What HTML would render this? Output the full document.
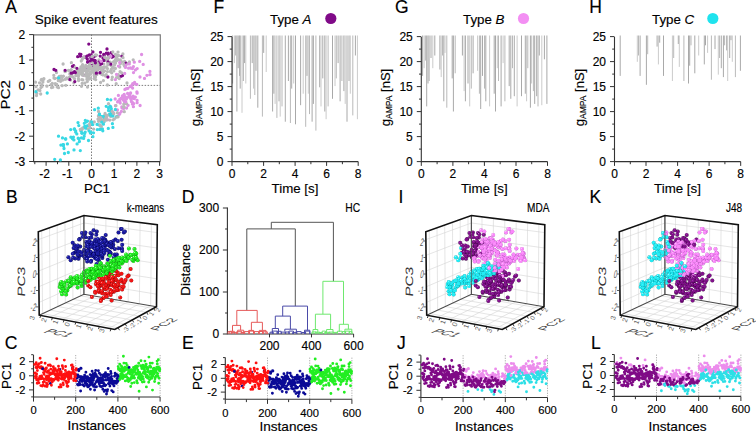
<!DOCTYPE html><html><head><meta charset="utf-8"><style>html,body{margin:0;padding:0;background:#fff;overflow:hidden}svg{display:block}text{font-family:"Liberation Sans",sans-serif;fill:#000;stroke:#000;stroke-width:0.15px}</style></head><body>
<svg width="756" height="432" viewBox="0 0 756 432">
<text x="5.3" y="12.8" font-size="17.5" text-anchor="start" >A</text>
<text x="213.5" y="12.9" font-size="17.5" text-anchor="start" >F</text>
<text x="395.1" y="12.9" font-size="17.5" text-anchor="start" >G</text>
<text x="589.3" y="12.8" font-size="17.5" text-anchor="start" >H</text>
<text x="5.9" y="202.6" font-size="17.5" text-anchor="start" >B</text>
<text x="181.7" y="202.5" font-size="17.5" text-anchor="start" >D</text>
<text x="398.6" y="202.8" font-size="17.5" text-anchor="start" >I</text>
<text x="589.6" y="203" font-size="17.5" text-anchor="start" >K</text>
<text x="4.8" y="349.1" font-size="17.5" text-anchor="start" >C</text>
<text x="182" y="349" font-size="17.5" text-anchor="start" >E</text>
<text x="397" y="348.9" font-size="17.5" text-anchor="start" >J</text>
<text x="591" y="348.9" font-size="17.5" text-anchor="start" >L</text>
<text x="96.3" y="23.7" font-size="13.5" text-anchor="middle" >Spike event features</text>
<path d="M33.61500000000001 85.4H160M91.5 34.5V162" stroke="#444" stroke-width="0.7" stroke-dasharray="1.5 1.5" fill="none"/>
<path d="M33.6 34.8H160.3V161.6" stroke="#7a7a7a" stroke-width="1.2" fill="none"/>
<path d="M33.6 34.6V161.6H160.3" stroke="#333" stroke-width="1.1" fill="none"/>
<path d="M29.1 161.5H33.6M31.4 148.8H33.6M29.1 136.2H33.6M31.4 123.5H33.6M29.1 110.8H33.6M31.4 98.1H33.6M29.1 85.4H33.6M31.4 72.7H33.6M29.1 60H33.6M31.4 47.3H33.6M29.1 34.6H33.6M46.1 161.6V165.8M68.8 161.6V165.8M91.5 161.6V165.8M114.2 161.6V165.8M136.9 161.6V165.8M159.6 161.6V165.8M34.8 161.6V164.2M57.5 161.6V164.2M80.2 161.6V164.2M102.8 161.6V164.2M125.5 161.6V164.2M148.2 161.6V164.2" stroke="#333" stroke-width="1" fill="none"/>
<text x="25.3" y="165.8" font-size="12" text-anchor="end" >-3</text>
<text x="25.3" y="140.5" font-size="12" text-anchor="end" >-2</text>
<text x="25.3" y="115.1" font-size="12" text-anchor="end" >-1</text>
<text x="25.3" y="89.7" font-size="12" text-anchor="end" >0</text>
<text x="25.3" y="64.3" font-size="12" text-anchor="end" >1</text>
<text x="25.3" y="38.9" font-size="12" text-anchor="end" >2</text>
<text x="44.6" y="178.2" font-size="12" text-anchor="middle" >-2</text>
<text x="67.3" y="178.2" font-size="12" text-anchor="middle" >-1</text>
<text x="91.5" y="178.2" font-size="12" text-anchor="middle" >0</text>
<text x="114.2" y="178.2" font-size="12" text-anchor="middle" >1</text>
<text x="136.9" y="178.2" font-size="12" text-anchor="middle" >2</text>
<text x="159.6" y="178.2" font-size="12" text-anchor="middle" >3</text>
<text x="97" y="193.3" font-size="13.3" text-anchor="middle" >PC1</text>
<text transform="translate(10.3 94.7) rotate(-90) scale(1.12 1)" font-size="13.5" text-anchor="middle">PC2</text>
<path d="M108 58.2h0M95.3 64.7h0M95.5 55.8h0M102.2 68.5h0M103 58h0M87.4 55.8h0M95.3 62.9h0M107 49h0M90.8 57.8h0M88.8 44.1h0M92.9 51.9h0M91.3 55h0M122.5 75.6h0M93.6 56.9h0M97.3 65.1h0M121.8 56.1h0M80.4 56.2h0M79.6 54.1h0M92 59.8h0M112 57.2h0M83.2 74.8h0M111.2 52.7h0M89.4 54.9h0M103.7 54.4h0" stroke="#7f0a86" stroke-width="3.3" stroke-linecap="round" fill="none"/>
<path d="M82.7 73.9h0M76.3 74.3h0M116.9 56.5h0M95 67.7h0M48.3 81.4h0M94.2 75.5h0M63.4 76.2h0M88 74.3h0M96.5 71.6h0M122.9 53.9h0M69.3 77.4h0M86.9 70.3h0M72.9 76.9h0M115.4 59.7h0M93.1 67h0M113.5 61.9h0M82 69h0M80.9 67h0M107.5 58h0M96.9 74.4h0M100.8 68.1h0M52.3 83.5h0M113 67.8h0M98.4 65.8h0M65 71.6h0M115.7 60.6h0M103.8 64.1h0M102.3 74.5h0M123 57.7h0M35.5 82.2h0M41.2 80h0M59.9 78.4h0M84.7 68.6h0M94.3 73.1h0M80.5 73.9h0M68.5 70.3h0M71.5 74.9h0M82.6 64.7h0M65.8 85.3h0M69.7 71.2h0M110.2 63.1h0M93.2 70.4h0M96.4 68.5h0M108.6 54.4h0M94.1 70h0M90.2 72.5h0M103.4 80.6h0M59.9 77.6h0M92 65.4h0M92.7 56.1h0M94.5 68.3h0M81.5 86.3h0M78.6 80.5h0M89 66.9h0M115.2 61.8h0M80.9 67.9h0M40.7 94h0M99.5 64.3h0M117 60.2h0M108 64.8h0M124.6 61.5h0M117.1 55.4h0M81.2 69.2h0M95.2 76.7h0M51.5 87.6h0M56.5 72.5h0M111.2 69.5h0M83.6 66.8h0M118 52.1h0M111.7 72.8h0M120.7 63.1h0M98.9 59.9h0M65.6 71.3h0M120.4 63.8h0M113.5 61.9h0M120.1 71.7h0M71.3 69.6h0M93.3 68.2h0M108.7 57.3h0M89.4 63.6h0M118.7 55.6h0M36.5 95.6h0M110.2 62.2h0M82.5 75.2h0M99.4 68.6h0M104.2 67.4h0M53.8 75.3h0M43.9 78.7h0M107.4 60.3h0M87.6 77.3h0M74.5 78.7h0M62.1 85.7h0M80.4 69.8h0M38.1 89.9h0M40.9 87.6h0M78.5 70.6h0M105.3 58.6h0M105.6 76h0M114.5 65h0M82.2 83.4h0M107.5 71.6h0M111.2 65.8h0M104.6 70.8h0M86.2 67.2h0M85.9 76.1h0M81.4 73h0M63.1 64h0M118.3 74.7h0" stroke="#b9b9b9" stroke-width="3.3" stroke-linecap="round" fill="none"/>
<path d="M126.4 88.7h0M129.3 95.2h0M132.6 88.1h0M125 96.8h0M124.5 101.7h0M124.5 100h0M115.5 105.7h0M122 107.9h0M119.9 113.5h0M123.5 100.2h0M121.8 107h0M107.6 119.7h0M122.2 98h0M120.2 103.1h0M111.4 113.4h0M125 96.7h0M127.9 88.3h0M126.4 88.7h0M117.4 110h0M122.6 99h0M124.2 94.5h0M131.2 99.7h0M119.8 99.2h0M119.9 101.5h0M115.2 99h0M118.4 95.4h0M130.6 92.9h0M130.2 93.7h0M130.2 86.5h0M122.4 95.9h0M113.2 112.5h0" stroke="#df90e3" stroke-width="3.3" stroke-linecap="round" fill="none"/>
<path d="M111.3 108.8h0M78.8 125.6h0M109.6 114.1h0M73.2 139.2h0M75.6 132.1h0M92.8 124.6h0M88 125.6h0M100.3 129.2h0M110.8 107.2h0M63.5 145.7h0M65.6 139h0M112.4 123.7h0M70.9 137.2h0M86.2 121.9h0M103.4 124.2h0M97.3 129.6h0M63.5 144.7h0M93.5 132.8h0M86.6 126.1h0M110.8 99.8h0M115.4 109.5h0M111.1 114.1h0M75.7 131h0M99 124.9h0M85.3 120.4h0M78.2 138.2h0M80.9 130.5h0M73.4 137.1h0M73.9 139.9h0M81.4 137.9h0M60.4 159.9h0M97.1 124.4h0M74.2 129.2h0" stroke="#38d8e4" stroke-width="3.3" stroke-linecap="round" fill="none"/>
<path d="M73.7 65.7h0M108.1 53.2h0M107.9 77h0M100.2 56.1h0M126.1 63.2h0M94.7 60.3h0M108 62h0M110.8 64.2h0M101.2 63.5h0M100 64.9h0M80.9 54.3h0M101.6 63.7h0M100.5 52.3h0M87.7 62.3h0M104.2 55.3h0M94.7 76.2h0M111.9 55.7h0M98.5 62.1h0M101.2 62.8h0M87.1 67.1h0M91.8 65.5h0M85.7 57h0M84 57.1h0M87.3 58.9h0M113.3 56.4h0" stroke="#7f0a86" stroke-width="3.3" stroke-linecap="round" fill="none"/>
<path d="M104.7 57.2h0M98 64.6h0M41.9 84.6h0M74.2 67.1h0M49.8 80.4h0M90.7 74.2h0M124.5 66.1h0M59.3 76.4h0M123.8 64.4h0M86.6 72.4h0M87.7 74.8h0M85.8 69.8h0M104.2 67.2h0M107.5 68.6h0M71.6 76.2h0M91.4 68.5h0M79.7 69.6h0M115.4 63.2h0M95.4 76.7h0M85.7 66.4h0M51.1 84.6h0M119.7 67h0M70 74.3h0M96.9 65.7h0M88.9 62.4h0M115.4 68.4h0M86.2 73.4h0M116.4 57.5h0M90.7 66.1h0M82.3 59.2h0M85.7 65.5h0M99.2 68.3h0M77.3 71.3h0M92.9 62.7h0M97.2 68.5h0M97.9 65.3h0M91.3 69.4h0M86.7 66.5h0M78.5 76h0M89.3 79h0M84.8 83.2h0M82.3 68h0M95 69.4h0M86.9 79.2h0M107.9 63.6h0M100.4 73.4h0M87.3 81.5h0M97.2 63h0M69.8 74.1h0M95.7 79.6h0M70.6 80.1h0M82.8 79.9h0M89.6 68.6h0M95.7 64.7h0M104.6 60.3h0M75.8 75.7h0M78.4 78.7h0M88.4 70.3h0M94.2 78.8h0M76.6 72.7h0M87.2 72.4h0M88.6 74.9h0M96.4 66.7h0M88.3 74.4h0M87.5 87h0M79.2 71.8h0M73.9 71.8h0M90.7 78.2h0M86.7 72.5h0M93.9 65.6h0M88.9 75.4h0M87.8 70.8h0M96.7 67h0M81.8 79.7h0M85.4 75.4h0M77.9 73h0M84.2 70.5h0M94.6 71.7h0M113 67.7h0M100.5 67.3h0M100.6 82.4h0M81.6 70.1h0M95.4 54.9h0M92.5 61.8h0M97.1 63h0M94.4 70.1h0M94.4 75.7h0M101.3 74.1h0M91.8 56.9h0M86.9 70.5h0M101.1 67.8h0M81 70.1h0M95.2 64.8h0M81.3 61h0M106.3 66.9h0M92 72.3h0M103.7 71.7h0M96.1 71.8h0M82.1 67.1h0M102.9 67.7h0M82.3 66.5h0M88.7 68.4h0M104.8 60.4h0M83.9 57.3h0M89.3 65.4h0M82.6 71.7h0M71.4 62.7h0M103.2 74.9h0M73.9 82.8h0M101.2 70.7h0" stroke="#b9b9b9" stroke-width="3.3" stroke-linecap="round" fill="none"/>
<path d="M117.6 101.9h0M134.5 83.7h0M119.2 114.4h0M118.1 101.2h0M126.7 97.6h0M133.1 97.9h0M132.4 104.1h0M137.1 102.7h0M123.8 99.4h0M128.1 105.3h0M129.8 96h0M126.4 99.1h0M137.1 93.2h0M130.6 97.2h0M130.7 98.4h0M134.2 98.7h0M121.4 98.2h0M127.6 93.5h0M128.7 97h0M140.1 105.5h0M126.6 108.1h0M121.4 111.4h0M132.7 102.6h0M123.6 108.6h0M133.7 103.6h0M129.7 95.7h0M136.8 84.3h0M135.4 97.1h0M132 85.3h0M137.1 100.3h0M133.1 96.1h0M131.4 101.6h0" stroke="#df90e3" stroke-width="3.3" stroke-linecap="round" fill="none"/>
<path d="M104.5 118.2h0M64 148.5h0M77.1 143.9h0M74 149.9h0M104.1 121.8h0M62.5 137.9h0M108.5 110.5h0M116.2 116.8h0M108.3 128.4h0M76.8 133.9h0M92.9 136.7h0M110.1 106.1h0M74.5 128.9h0M111 111.5h0M91.5 123.8h0M84.3 123.3h0M85.2 132.1h0M117.1 116.3h0M102.4 129h0M101 116.3h0M90.9 132.1h0M94.6 109.7h0M81.7 132.8h0M60.9 145.1h0M81.2 131h0M79.4 141.5h0M83.6 138.4h0M100.7 125.9h0M90.4 133h0M99.4 113.9h0M78 122.6h0M84.7 133.4h0M106.2 106.3h0" stroke="#38d8e4" stroke-width="3.3" stroke-linecap="round" fill="none"/>
<path d="M90.3 60.8h0M99.9 72.7h0M91.7 59.7h0M93.2 60.1h0M106.3 53.2h0M108.2 54.3h0M95.2 60.6h0M95.4 62.8h0M96.4 73.2h0M94.7 60.7h0M87.7 61.7h0M103.9 60.5h0M120.9 76.3h0M69.7 79.4h0M77.7 56.7h0M54 69.5h0M74.6 71.7h0M74.8 81.6h0M76.9 68.3h0M71.2 73.2h0M75.4 72.6h0M72.6 72.8h0M55.8 70.3h0M72.4 66.3h0M65.1 70.3h0" stroke="#7f0a86" stroke-width="3.3" stroke-linecap="round" fill="none"/>
<path d="M105.6 117.5h0M93.6 129.1h0M107.5 115.4h0M101.4 117.6h0M106.6 117.2h0M104.3 119.9h0M94.3 121.9h0M115.9 105.7h0M98.5 111.4h0M81.9 128.6h0M110.7 116.4h0M112.2 111.4h0M80.3 129.4h0M90.7 121.4h0M101.3 118.4h0M113 114.9h0M89.4 124.5h0M100.3 117.5h0M98.4 115.9h0M100.8 120.9h0M126.6 103.8h0M98.6 121.3h0M89.7 125.4h0M87.7 128.9h0M114.3 118.9h0M109.8 120.1h0M89.8 127.9h0M117.4 112.8h0M118.1 116.8h0M100.6 119.2h0M90.5 122.4h0M106.1 115.7h0M102.1 120.7h0M105.1 113.5h0M123.8 104.2h0M98 119.1h0M124.2 107.2h0M104.8 115.2h0M100.1 125.2h0M82.4 129h0M103.4 121.3h0M101.3 126.3h0M98.7 118.2h0M106.4 120h0M116.9 117h0M123.4 106.9h0M113.1 119.8h0M82.8 128h0M124.3 111.7h0M113.8 113.6h0M127 83h0M108.5 103.7h0M119.3 78.6h0M120.3 60h0M111.9 79.6h0M107.4 85h0M106.2 74.6h0M112.3 77.2h0M110.4 71.5h0M116.4 77.7h0M118 77.4h0M101.5 69.8h0M116.2 83.7h0M121.7 72.8h0M97.7 69.7h0M118 55.5h0M116.4 60.8h0M96.6 55.1h0M114.5 61.5h0M118.2 59.6h0M121.9 61.9h0M113.8 70.9h0M109.4 56.6h0M129.4 61.9h0M112.8 52h0M110.5 56.3h0M133.2 59.8h0M128.1 63.6h0M116.6 60.4h0M115.5 54.3h0M67 78.6h0M54.8 78.5h0M57.8 78.1h0M36.8 93.4h0M42 86.4h0M62.2 80.2h0M62.6 80h0M59.5 79.8h0M43.3 79.5h0M65.1 79.3h0M39.5 82.8h0M36 86.7h0M55.2 83.6h0M46.9 86.2h0M54 78h0M66.7 78h0M39.9 90.5h0M52.8 87.2h0M57.2 86.9h0M58.5 87.7h0M62 77.3h0M60.6 81.3h0M61.1 76.1h0M41.8 79.3h0M56.7 84.5h0M42.9 82h0M58.3 80.7h0M66.8 78.8h0" stroke="#b9b9b9" stroke-width="3.3" stroke-linecap="round" fill="none"/>
<path d="M125.8 101.9h0M124.9 89.4h0M133.4 106.7h0M136.9 91.8h0M110.7 56.2h0M141.6 54.5h0M118.4 66.1h0M137.2 68.6h0M134.3 62.2h0M115.4 79.6h0M116.5 74.4h0M125.5 67.4h0M135.4 69.9h0M124.7 73.5h0M143.2 64.4h0M133.5 72.6h0M150 74.7h0M139.7 61.4h0M129.3 63.9h0M119.7 62.5h0M134.6 82.3h0M140 77h0M146.9 75.3h0M130.5 68h0M128.6 68.2h0M126.1 65.1h0M132.4 68.6h0M101.1 61.3h0M132.7 83.7h0M133.4 66.6h0M144.5 78.4h0M149.9 71.4h0" stroke="#df90e3" stroke-width="3.3" stroke-linecap="round" fill="none"/>
<path d="M110.2 115h0M112.7 116.1h0M82 133.3h0M99.7 129.4h0M102.8 130.8h0M112.9 127.4h0M68.3 152.5h0M87.5 121.1h0M103.3 116.3h0M64.5 153.5h0M85.6 128.2h0M84.2 136.2h0M85.6 127.5h0M58.5 136.2h0M84.7 126.5h0M67.4 143.9h0M101.8 122.2h0M70.7 129.6h0M88.5 140.5h0M80.3 150.6h0M89.1 130.9h0M78.9 138.8h0M108.5 107.7h0M63 144.7h0M99.4 114.5h0M91.6 122h0M72.4 138.4h0M54.7 159.3h0M65.7 139h0M35.9 91.7h0M47.2 93h0M58.6 77.8h0M107.4 99.4h0M98.3 108.2h0" stroke="#38d8e4" stroke-width="3.3" stroke-linecap="round" fill="none"/>
<path d="M232.6 35.5V83.5M236.9 35.5V111.5M238.2 35.5V68.2M240.2 35.5V88.6M243.3 35.5V81M244.6 35.5V63.1M252.2 35.5V63.1M256 35.5V70.8M257.8 35.5V107.7M263.7 35.5V52.9M272.6 35.5V111.5M273.9 35.5V93.7M279 35.5V101.3M285.3 35.5V121.7M288.4 35.5V81M291.7 35.5V88.6M295.5 35.5V124.3M300.6 35.5V105.2M307 35.5V75.9M312.1 35.5V121.7M313.4 35.5V103.9M319.7 35.5V87.3M322.8 35.5V78.4M324.8 35.5V111.5M332.5 35.5V98.8M338.1 35.5V63.1M340.1 35.5V101.3M343.9 35.5V91.1M347 35.5V121.7M349 35.5V81M355.4 35.5V55.5" stroke="#8c8c8c" stroke-width="0.75" fill="none"/>
<path d="M234.4 35.5V63.1M242 35.5V112.8M245.8 35.5V83.5M253.5 35.5V88.6M266.2 35.5V72M275.1 35.5V103.9M280.2 35.5V116.6M293.7 35.5V83.5M303.2 35.5V93.7M308.3 35.5V93.7M321 35.5V106.4M326.1 35.5V119.2M335 35.5V86.1M345.2 35.5V103.9M350.3 35.5V93.7M357.4 35.5V119.2" stroke="#b8b8b8" stroke-width="0.75" fill="none"/>
<path d="M235.6 35.5V55.5M239.5 35.5V75.9M250.4 35.5V98.8M254.8 35.5V95M262.4 35.5V116.6M276.9 35.5V117.9M282 35.5V106.4M290.4 35.5V123M305.7 35.5V126.8M309.5 35.5V114.1M315.9 35.5V130.6M328.1 35.5V106.4M336.3 35.5V78.4M341.9 35.5V81M352.8 35.5V115.4" stroke="#a2a2a2" stroke-width="0.75" fill="none"/>
<path d="M232 37V161.6H358.2" stroke="#333" stroke-width="1.1" fill="none"/>
<path d="M227.5 161.6H232M229.7 149.1H232M227.5 136.6H232M229.7 124.1H232M227.5 111.6H232M229.7 99.1H232M227.5 86.6H232M229.7 74.1H232M227.5 61.6H232M229.7 49.1H232M227.5 36.6H232M232 161.6V165.9M247.8 161.6V164.2M263.6 161.6V165.9M279.3 161.6V164.2M295.1 161.6V165.9M310.9 161.6V164.2M326.6 161.6V165.9M342.4 161.6V164.2M358.2 161.6V165.9" stroke="#333" stroke-width="1" fill="none"/>
<text x="223.5" y="165.9" font-size="12" text-anchor="end" >0</text>
<text x="223.5" y="140.9" font-size="12" text-anchor="end" >5</text>
<text x="223.5" y="115.9" font-size="12" text-anchor="end" >10</text>
<text x="223.5" y="90.9" font-size="12" text-anchor="end" >15</text>
<text x="223.5" y="65.9" font-size="12" text-anchor="end" >20</text>
<text x="223.5" y="40.9" font-size="12" text-anchor="end" >25</text>
<text x="232" y="178.2" font-size="12" text-anchor="middle" >0</text>
<text x="263.6" y="178.2" font-size="12" text-anchor="middle" >2</text>
<text x="295.1" y="178.2" font-size="12" text-anchor="middle" >4</text>
<text x="326.6" y="178.2" font-size="12" text-anchor="middle" >6</text>
<text x="358.2" y="178.2" font-size="12" text-anchor="middle" >8</text>
<text x="295" y="193.3" font-size="13.3" text-anchor="middle" >Time [s]</text>
<text transform="translate(199.5 97.5) rotate(-90)" font-size="13" text-anchor="middle">g<tspan font-size="8.5" dy="2.5">AMPA</tspan><tspan dy="-2.5"> [nS]</tspan></text>
<text x="270" y="24" font-size="13.3">Type <tspan font-style="italic">A</tspan></text>
<circle cx="330.8" cy="18.5" r="5.6" fill="#800a88"/>
<path d="M422.6 35.5V75.9M426.7 35.5V106.4M428 35.5V83.5M431 35.5V58M434.8 35.5V55.5M439.9 35.5V69.5M443.8 35.5V101.3M452.2 35.5V78.4M453.4 35.5V111.5M462.4 35.5V55.5M465.4 35.5V101.3M468 35.5V83.5M473.1 35.5V73.3M480.7 35.5V109M482.5 35.5V75.9M485.8 35.5V101.3M494.2 35.5V93.7M495.5 35.5V111.5M501.1 35.5V106.4M509.2 35.5V86.1M510.8 35.5V98.8M514.3 35.5V96.2M521.5 35.5V96.2M525.3 35.5V93.7M530.4 35.5V107.7M534.7 35.5V103.9M536.7 35.5V96.2M539.3 35.5V55.5M544.4 35.5V59.3M546.9 35.5V103.9" stroke="#8c8c8c" stroke-width="0.75" fill="none"/>
<path d="M424.1 35.5V68.2M432.8 35.5V68.2M441.2 35.5V77.1M445 35.5V52.9M464.1 35.5V91.1M469.7 35.5V106.4M477.6 35.5V70.8M489.6 35.5V106.4M497.3 35.5V68.2M503.1 35.5V63.1M517.1 35.5V106.4M526.6 35.5V101.3M531.6 35.5V83.5M541.8 35.5V105.2" stroke="#b8b8b8" stroke-width="0.75" fill="none"/>
<path d="M425.4 35.5V60.6M429.2 35.5V81M442.5 35.5V55.5M446.8 35.5V107.7M455.2 35.5V73.3M471.3 35.5V88.6M479.4 35.5V93.7M484.5 35.5V88.6M498.5 35.5V81M504.9 35.5V101.3M512.5 35.5V68.2M527.8 35.5V68.2M533.4 35.5V91.1M538 35.5V106.4" stroke="#a2a2a2" stroke-width="0.75" fill="none"/>
<path d="M421.3 37V161.6H547.5" stroke="#333" stroke-width="1.1" fill="none"/>
<path d="M416.8 161.6H421.3M419 149.1H421.3M416.8 136.6H421.3M419 124.1H421.3M416.8 111.6H421.3M419 99.1H421.3M416.8 86.6H421.3M419 74.1H421.3M416.8 61.6H421.3M419 49.1H421.3M416.8 36.6H421.3M421.3 161.6V165.9M437.1 161.6V164.2M452.9 161.6V165.9M468.6 161.6V164.2M484.4 161.6V165.9M500.2 161.6V164.2M516 161.6V165.9M531.7 161.6V164.2M547.5 161.6V165.9" stroke="#333" stroke-width="1" fill="none"/>
<text x="412.8" y="165.9" font-size="12" text-anchor="end" >0</text>
<text x="412.8" y="140.9" font-size="12" text-anchor="end" >5</text>
<text x="412.8" y="115.9" font-size="12" text-anchor="end" >10</text>
<text x="412.8" y="90.9" font-size="12" text-anchor="end" >15</text>
<text x="412.8" y="65.9" font-size="12" text-anchor="end" >20</text>
<text x="412.8" y="40.9" font-size="12" text-anchor="end" >25</text>
<text x="421.3" y="178.2" font-size="12" text-anchor="middle" >0</text>
<text x="452.9" y="178.2" font-size="12" text-anchor="middle" >2</text>
<text x="484.4" y="178.2" font-size="12" text-anchor="middle" >4</text>
<text x="516" y="178.2" font-size="12" text-anchor="middle" >6</text>
<text x="547.5" y="178.2" font-size="12" text-anchor="middle" >8</text>
<text x="484.3" y="193.3" font-size="13.3" text-anchor="middle" >Time [s]</text>
<text transform="translate(389.7 97.5) rotate(-90)" font-size="13" text-anchor="middle">g<tspan font-size="8.5" dy="2.5">AMPA</tspan><tspan dy="-2.5"> [nS]</tspan></text>
<text x="463" y="24" font-size="13.3">Type <tspan font-style="italic">B</tspan></text>
<circle cx="523.5" cy="18.5" r="5.6" fill="#f38ff3"/>
<path d="M620.2 35.5V75.9M640.1 35.5V75.9M646.4 35.5V84.8M657.1 35.5V46.6M659.7 35.5V42.7M663.5 35.5V75.9M678.3 35.5V44M688.5 35.5V83.5M689.7 35.5V65.7M694.8 35.5V73.3M704.3 35.5V64.4M705.5 35.5V45.3M715 35.5V49.1M721.3 35.5V68.2M723.4 35.5V77.1M726.7 35.5V50.4M729.7 35.5V58M731 35.5V40.2M740.4 35.5V70.8" stroke="#8c8c8c" stroke-width="0.75" fill="none"/>
<path d="M637.3 35.5V61.8M658.4 35.5V64.4M672.4 35.5V81M679.3 35.5V66.9M698.7 35.5V55.5M707.6 35.5V52.9M718.3 35.5V74.6M727.7 35.5V81M732.3 35.5V61.8" stroke="#b8b8b8" stroke-width="0.75" fill="none"/>
<path d="M638.5 35.5V55.5M647.7 35.5V54.2M673.7 35.5V58M683.9 35.5V81M691 35.5V45.3M711.4 35.5V79.7M719.6 35.5V58M724.6 35.5V45.3M735.4 35.5V77.1" stroke="#a2a2a2" stroke-width="0.75" fill="none"/>
<path d="M614.5 37V161.6H740.7" stroke="#333" stroke-width="1.1" fill="none"/>
<path d="M610 161.6H614.5M612.2 149.1H614.5M610 136.6H614.5M612.2 124.1H614.5M610 111.6H614.5M612.2 99.1H614.5M610 86.6H614.5M612.2 74.1H614.5M610 61.6H614.5M612.2 49.1H614.5M610 36.6H614.5M614.5 161.6V165.9M630.3 161.6V164.2M646 161.6V165.9M661.8 161.6V164.2M677.6 161.6V165.9M693.4 161.6V164.2M709.1 161.6V165.9M724.9 161.6V164.2M740.7 161.6V165.9" stroke="#333" stroke-width="1" fill="none"/>
<text x="606" y="165.9" font-size="12" text-anchor="end" >0</text>
<text x="606" y="140.9" font-size="12" text-anchor="end" >5</text>
<text x="606" y="115.9" font-size="12" text-anchor="end" >10</text>
<text x="606" y="90.9" font-size="12" text-anchor="end" >15</text>
<text x="606" y="65.9" font-size="12" text-anchor="end" >20</text>
<text x="606" y="40.9" font-size="12" text-anchor="end" >25</text>
<text x="614.5" y="178.2" font-size="12" text-anchor="middle" >0</text>
<text x="646" y="178.2" font-size="12" text-anchor="middle" >2</text>
<text x="677.6" y="178.2" font-size="12" text-anchor="middle" >4</text>
<text x="709.1" y="178.2" font-size="12" text-anchor="middle" >6</text>
<text x="740.7" y="178.2" font-size="12" text-anchor="middle" >8</text>
<text x="677.5" y="193.3" font-size="13.3" text-anchor="middle" >Time [s]</text>
<text transform="translate(583.5 97.5) rotate(-90)" font-size="13" text-anchor="middle">g<tspan font-size="8.5" dy="2.5">AMPA</tspan><tspan dy="-2.5"> [nS]</tspan></text>
<text x="652" y="24" font-size="13.3">Type <tspan font-style="italic">C</tspan></text>
<circle cx="712.8" cy="18.5" r="5.6" fill="#1fe3ee"/>
<path d="M227.4 207.5V334.0H353.6" stroke="#333" stroke-width="1.1" fill="none"/>
<path d="M222.9 334H227.4M222.9 292H227.4M222.9 250H227.4M222.9 208H227.4M225.1 313H227.4M225.1 271H227.4M225.1 229H227.4M269.5 334.0V337.4M311.5 334.0V337.4M353.6 334.0V337.4" stroke="#333" stroke-width="1" fill="none"/>
<text x="219.1" y="337.7" font-size="12" text-anchor="end" >0</text>
<text x="219.1" y="295.7" font-size="12" text-anchor="end" >100</text>
<text x="219.1" y="253.7" font-size="12" text-anchor="end" >200</text>
<text x="219.1" y="211.7" font-size="12" text-anchor="end" >300</text>
<text x="269.5" y="350.4" font-size="12" text-anchor="middle" >200</text>
<text x="311.5" y="350.4" font-size="12" text-anchor="middle" >400</text>
<text x="353.6" y="350.4" font-size="12" text-anchor="middle" >600</text>
<text transform="translate(190.3 269.8) rotate(-90)" font-size="13.3" text-anchor="middle">Distance</text>
<text transform="translate(345.2 211.6) scale(0.86 1)" font-size="12">HC</text>
<path d="M246.8 310.4V228.9H295.3V306.1M271.3 228.9V222.3H333.4V281.3" stroke="#555" stroke-width="1" fill="none"/>
<path d="M236.8 325.4V310.4H257.2V322.3M232.5 331.3V325.4H240.6V330.2M251.4 330.4V322.3H262.4V330.4M229.8 334V331.3H234.3V334M237.7 334V330.2H243.7V334M248.7 334V330.4H253.5V334M259.3 334V330.4H266V334M228 334V331.6H231.7V334M231.7 334V332.4H236.7V334M236.7 334V331.7H242V334M241 334V332.5H244.8V334M244.1 334V331.6H249.4V334M249.4 334V331.1H254.3V334M254.3 334V331.6H258.8V334M258.8 334V331.5H263.3V334M262.6 334V331.8H267.3V334" stroke="#e65a5a" stroke-width="1" fill="none"/>
<path d="M282.7 316.1V306.1H307.5V330.2M275.3 328.5V316.1H290.4V329.2M272.3 334V328.5H278.5V334M284.8 331.5V329.2H296.4V331.5M304.5 334V330.2H309.8V334M270 334V332.2H273.3V334M272.3 334V331.1H277.2V334M277.2 334V331.3H281.2V334M281.3 334V332.1H285.7V334M285.2 334V332H289.2V334M288.9 334V331.1H293.5V334M292.6 334V332.4H297V334M296.2 334V331.6H301.2V334M301.6 334V332.5H305.7V334M305.3 334V331.1H309.8V334" stroke="#4a4aa8" stroke-width="1" fill="none"/>
<path d="M322.9 314.2V281.3H343.5V324.3M315.4 329.5V314.2H330.6V329.5M313 334V329.5H317.8V334M326.6 334V329.5H333V334M339.3 332V324.3H348.4V329.2M344.9 334V329.2H351.8V334M312 334V331.9H316.2V334M315.3 334V332.2H320V334M319.2 334V332.5H322.2V334M322.2 334V331.1H325.5V334M324.7 334V332.3H329.9V334M328.9 334V332.1H333.7V334M333.8 334V332.4H337.2V334M337.4 334V331.2H342.2V334M342.3 334V331.6H345.5V334M345.6 334V331.1H349.7V334M349.1 334V331.4H352V334" stroke="#6ee86e" stroke-width="1" fill="none"/>
<path d="M75.7 355.0V397.0M117.9 355.0V397.0M160.1 355.0V397.0" stroke="#888" stroke-width="0.7" stroke-dasharray="1.2 1.3" fill="none"/>
<path d="M33.5 355.0V397.0H160.1" stroke="#333" stroke-width="1.1" fill="none"/>
<path d="M31.2 396.9H33.5M29 389.9H33.5M31.2 382.8H33.5M29 375.8H33.5M31.2 368.8H33.5M29 361.7H33.5M31.2 354.7H33.5M33.5 397.0V401.6M54.6 397.0V399.8M75.7 397.0V401.6M96.8 397.0V399.8M117.9 397.0V401.6M139 397.0V399.8M160.1 397.0V401.6" stroke="#333" stroke-width="1" fill="none"/>
<text x="25.3" y="365.4" font-size="11" text-anchor="end" >2</text>
<text x="25.3" y="379.5" font-size="11" text-anchor="end" >0</text>
<text x="25.3" y="393.6" font-size="11" text-anchor="end" >-2</text>
<text x="33.5" y="413.9" font-size="11.2" text-anchor="middle" >0</text>
<text x="75.7" y="413.9" font-size="11.2" text-anchor="middle" >200</text>
<text x="117.9" y="413.9" font-size="11.2" text-anchor="middle" >400</text>
<text x="160.1" y="413.9" font-size="11.2" text-anchor="middle" >600</text>
<text x="96.7" y="430.3" font-size="13.6" text-anchor="middle" >Instances</text>
<text transform="translate(10.9 375.8) rotate(-90)" font-size="13.5" text-anchor="middle">PC1</text>
<path d="M34.7 364.4h0M34.9 373.2h0M35.1 372.9h0M35.3 376.5h0M35.5 378.1h0M35.7 364.2h0M36 367.5h0M36.2 362.8h0M36.4 376.4h0M36.6 373.9h0M36.8 379.9h0M37 367.8h0M37.2 383.2h0M37.4 370.5h0M37.6 367h0M37.8 365h0M38 380.2h0M38.2 367.1h0M38.5 378.8h0M38.7 379.1h0M38.9 382.7h0M39.1 366.8h0M39.3 363.6h0M39.5 378h0M39.7 379.1h0M39.9 376.4h0M40.1 358.3h0M40.3 367.9h0M40.5 377.7h0M40.8 385.6h0M41 378.5h0M41.2 366.8h0M41.4 362.5h0M41.6 375.9h0M41.8 378.6h0M42 377.5h0M42.2 386.1h0M42.4 368.7h0M42.8 367.7h0M43.1 384.9h0M43.3 382.2h0M43.5 372.6h0M43.7 379h0M43.9 369.6h0M44.1 374.3h0M44.3 381.5h0M44.5 370.6h0M44.7 369.3h0M44.9 386h0M45.1 363.3h0M45.3 371.4h0M45.6 369.8h0M45.8 385.6h0M46 378.8h0M46.2 376.5h0M46.4 368h0M46.6 383.2h0M46.8 379.7h0M47 386.5h0M47.2 375.9h0M47.4 372.4h0M47.6 384.5h0M47.9 378h0M48.1 371.5h0M48.3 365.2h0" stroke="#ff1010" stroke-width="2.9" stroke-linecap="round" fill="none"/>
<path d="M42.6 368.8h0M50.4 383.5h0M51.8 380.7h0M59.8 369.5h0M72.5 368.1h0M76.5 380.9h0M76.7 375h0M76.9 378h0M77.1 376.9h0M77.3 377.8h0M77.5 384.4h0M77.7 377.3h0M77.9 375h0M78.1 385.1h0M78.3 370h0M78.5 369.4h0M78.8 370.8h0M79 369.9h0M79.2 376.5h0M79.4 382.2h0M79.6 383.5h0M79.8 384.7h0M80 379.8h0M80.2 380.5h0M80.4 376.8h0M80.6 391h0M80.8 368.2h0M81.1 368.4h0M81.3 380.5h0M81.5 376.8h0M81.7 377.9h0M81.9 378.9h0M82.1 381.5h0M82.3 381h0M82.5 384.7h0M82.7 379.4h0M82.9 380.5h0M83.1 378.7h0M83.4 384.9h0M83.6 380.2h0M83.8 380.1h0M84 377.2h0M84.2 386h0M84.4 378.2h0M84.6 375.2h0M84.8 377.2h0M85 382.3h0M85.2 383h0M85.4 381.6h0M85.6 376.5h0M85.9 372.2h0M86.1 381.2h0M86.3 383.8h0M86.5 378.4h0M86.7 379.3h0M86.9 385.2h0M87.1 384.3h0M87.3 380.9h0M87.5 376.8h0M87.7 386.7h0M87.9 385.7h0M88.2 377.7h0M88.4 386.8h0M88.6 379.8h0M88.8 378.5h0M89 381h0M89.2 385.7h0M89.4 380.7h0" stroke="#0a0a96" stroke-width="2.9" stroke-linecap="round" fill="none"/>
<path d="M118.2 366.6h0M118.4 368.9h0M118.6 368.5h0M118.8 379.1h0M119.1 380h0M119.3 376.1h0M119.5 369.9h0M119.7 364.1h0M119.9 379.4h0M120.1 370.8h0M120.3 377.4h0M120.5 376.7h0M120.7 374.1h0M120.9 368.6h0M121.1 371.3h0M121.4 365.9h0M121.6 378h0M121.8 367.5h0M122 367.2h0M122.2 372.1h0M122.4 369.8h0M122.6 375.6h0M122.8 378.6h0M123 374.7h0M123.2 376h0M123.4 356.2h0M123.6 375.1h0M123.9 363.1h0M124.1 371.3h0M124.3 370.6h0M124.5 368.2h0M124.7 376.7h0M124.9 367.2h0M125.1 370.2h0M125.3 380.9h0M125.5 368.9h0M125.7 369.2h0M125.9 369.8h0M126.2 363.4h0M126.4 374.6h0M126.6 369.4h0M126.8 368.1h0M127 377.3h0M127.2 365.5h0M127.4 380.4h0M127.6 379.6h0M127.8 369.3h0M128 378.3h0M128.2 372.9h0M128.5 381.5h0M128.7 371.8h0M128.9 378.6h0M129.3 380.8h0M129.5 369.6h0M129.7 373.7h0M129.9 371.8h0M130.1 372.5h0M130.3 371.4h0M130.5 379.5h0M130.7 386.5h0M131 371.9h0M131.2 377.4h0M131.4 374.6h0M131.6 369.7h0M131.8 383.2h0M132 376.3h0" stroke="#22ee22" stroke-width="2.9" stroke-linecap="round" fill="none"/>
<path d="M48.5 370.6h0M48.7 376.3h0M48.9 381.4h0M49.1 380h0M49.3 378.4h0M49.5 373.7h0M49.7 374.8h0M49.9 364.9h0M50.2 372.9h0M50.6 365.7h0M50.8 369.1h0M51 374h0M51.2 378.7h0M51.4 385.3h0M51.6 380.4h0M52 379.2h0M52.2 382.1h0M52.4 373.5h0M52.7 373.3h0M52.9 371.3h0M53.1 371h0M53.3 366.8h0M53.5 379.4h0M53.7 369.2h0M53.9 380.2h0M54.1 370.9h0M54.3 373.7h0M54.5 373.4h0M54.7 369.4h0M55 374.8h0M55.2 368.6h0M55.4 370h0M55.6 374h0M55.8 377.8h0M56 378.8h0M56.2 377.6h0M56.4 375.9h0M56.6 374.9h0M56.8 358.8h0M57 371.4h0M57.3 370.7h0M57.5 379.4h0M57.7 378.6h0M57.9 376.5h0M58.1 373.8h0M58.3 380.3h0M58.5 366.3h0M58.7 377.8h0M58.9 369.2h0M59.1 387.1h0M59.3 374.9h0M59.5 373.4h0M60 371.8h0M60.2 373.5h0M60.4 374.1h0M60.6 384.7h0M60.8 378.6h0M61 386.9h0M61.2 371.7h0M61.4 373.4h0M61.6 375.9h0M61.8 379.1h0M62.1 377.9h0M62.3 365.6h0M62.5 366.2h0" stroke="#ff1010" stroke-width="2.9" stroke-linecap="round" fill="none"/>
<path d="M89.6 382.1h0M89.8 378.6h0M90 384.8h0M90.2 374.6h0M90.4 389.2h0M90.7 381.3h0M90.9 380.3h0M91.1 375.3h0M91.3 383.6h0M91.5 377.5h0M91.7 383.4h0M91.9 376.5h0M92.1 371.2h0M92.3 382.5h0M92.5 378h0M92.7 385.3h0M93 375.2h0M93.2 374h0M93.4 380.2h0M93.6 386.4h0M93.8 378.2h0M94 374.3h0M94.2 374.6h0M94.4 376.1h0M94.6 390h0M94.8 384h0M95 372.9h0M95.3 386.8h0M95.5 374.4h0M95.7 370.4h0M95.9 376.4h0M96.1 374.5h0M96.3 382.1h0M96.5 386.8h0M96.7 380.9h0M96.9 381.4h0M97.1 380.6h0M97.3 376.7h0M97.5 381.1h0M97.8 379.4h0M98 378.1h0M98.2 380.4h0M98.4 370.7h0M98.6 378h0M98.8 379.9h0M99 381.5h0M99.2 383.7h0M99.4 373.3h0M99.6 379.6h0M99.8 386.1h0M100.1 383.3h0M100.3 381.1h0M100.5 382.7h0M100.7 374.7h0M100.9 386.5h0M101.1 377.8h0M101.3 379.6h0M101.5 386.6h0M101.7 380.1h0M101.9 380.9h0M102.1 377.7h0M102.4 382.7h0M102.6 378.8h0M102.8 389.2h0M103 386.1h0M103.2 376.2h0M103.4 374.9h0M103.6 380.4h0M103.8 383.5h0" stroke="#0a0a96" stroke-width="2.9" stroke-linecap="round" fill="none"/>
<path d="M132.2 375.5h0M132.4 378h0M132.6 370.2h0M132.8 372.8h0M133 376.6h0M133.3 377.5h0M133.5 367.5h0M133.7 375.7h0M133.9 368.7h0M134.1 369.4h0M134.3 382.6h0M134.5 378h0M134.7 371.9h0M134.9 370h0M135.1 367.5h0M135.3 367.4h0M135.6 366.1h0M135.8 374h0M136 373.1h0M136.2 367.5h0M136.4 374.3h0M136.6 365.9h0M136.8 380.8h0M137 368.2h0M137.2 372.8h0M137.4 382.9h0M137.6 366.3h0M137.8 370.1h0M138.1 371.7h0M138.3 377.8h0M138.5 374.4h0M138.7 363.3h0M138.9 376.4h0M139.1 391.3h0M139.3 376.6h0M139.5 378.5h0M139.7 372.5h0M139.9 373.9h0M140.1 376.8h0M140.4 376.4h0M140.6 365.8h0M140.8 379.8h0M141 360.7h0M141.2 374.7h0M141.4 377.8h0M141.6 367.2h0M141.8 368.5h0M142 377.5h0M142.2 367.4h0M142.4 382h0M142.6 376.8h0M142.9 365.3h0M143.1 373h0M143.3 378.9h0M143.5 368.7h0M143.7 366.4h0M143.9 371.7h0M144.1 381.7h0M144.3 373.5h0M144.5 369.2h0M144.7 367.2h0M144.9 361.1h0M145.2 372.9h0M145.4 374.2h0M145.6 371.7h0M145.8 364.7h0" stroke="#22ee22" stroke-width="2.9" stroke-linecap="round" fill="none"/>
<path d="M62.7 375.3h0M62.9 368.5h0M63.1 382.9h0M63.3 384.7h0M63.5 377.4h0M63.7 379.4h0M63.9 377.8h0M64.1 374.1h0M64.3 360.1h0M64.6 378.3h0M64.8 374.8h0M65 373.7h0M65.2 375.2h0M65.4 370.5h0M65.6 366.5h0M65.8 381.1h0M66 374.3h0M66.2 376.4h0M66.4 373.4h0M66.6 382.5h0M66.9 383.5h0M67.1 386.2h0M67.3 372.6h0M67.5 374.2h0M67.7 374.8h0M67.9 386.3h0M68.1 376.9h0M68.3 378.7h0M68.5 381.8h0M68.7 379.5h0M68.9 371.9h0M69.2 372.7h0M69.4 375.3h0M69.6 372.8h0M69.8 378h0M70 374.9h0M70.2 375.1h0M70.4 372.7h0M70.6 375.6h0M70.8 375.9h0M71 375.9h0M71.2 378.2h0M71.4 365.2h0M71.7 373h0M71.9 373.4h0M72.1 365h0M72.3 369h0M72.7 372.2h0M72.9 371.6h0M73.1 367h0M73.3 369.6h0M73.5 372h0M73.7 380.5h0M74 379.2h0M74.2 374.2h0M74.4 373.2h0M74.6 379.8h0M74.8 377.1h0M75 377.1h0M75.2 375.1h0M75.4 374h0M75.6 376.6h0M75.8 380.7h0M76 370.2h0M76.3 368.7h0" stroke="#ff1010" stroke-width="2.9" stroke-linecap="round" fill="none"/>
<path d="M104 374.7h0M104.2 391.4h0M104.4 384.6h0M104.6 376.8h0M104.9 376.9h0M105.1 385.8h0M105.3 390.3h0M105.5 372.7h0M105.7 379.6h0M105.9 385.1h0M106.1 380.1h0M106.3 375.6h0M106.5 394h0M106.7 374.5h0M106.9 376.5h0M107.2 391.3h0M107.4 376.3h0M107.6 389.8h0M107.8 374.4h0M108 378.3h0M108.2 368.5h0M108.4 383.6h0M108.6 380.3h0M108.8 374.8h0M109 383.7h0M109.2 384.1h0M109.5 382.3h0M109.7 380.8h0M109.9 386.1h0M110.1 377.8h0M110.3 377.5h0M110.5 380h0M110.7 371.4h0M110.9 382.1h0M111.1 373.5h0M111.3 383.3h0M111.5 376.4h0M111.7 390.6h0M112 379.3h0M112.2 381.3h0M112.4 383h0M112.6 383.6h0M112.8 382.2h0M113 384.2h0M113.2 391.9h0M113.4 383.5h0M113.6 383.3h0M113.8 383.1h0M114 385.9h0M114.3 381.1h0M114.5 376.2h0M114.7 381.7h0M114.9 383h0M115.1 373.2h0M115.3 375.2h0M115.5 375.5h0M115.7 374.3h0M115.9 382.1h0M116.1 381.1h0M116.3 374.5h0M116.5 383.3h0M116.8 381h0M117 378.4h0M117.2 378.4h0M117.4 381.8h0M117.6 375.2h0M117.8 381.3h0M118 376.5h0M129.1 367.4h0" stroke="#0a0a96" stroke-width="2.9" stroke-linecap="round" fill="none"/>
<path d="M146 376.8h0M146.2 364.1h0M146.4 386.9h0M146.6 367h0M146.8 375.2h0M147 368.8h0M147.2 367.5h0M147.5 378.1h0M147.7 371.9h0M147.9 370h0M148.1 368.1h0M148.3 376.6h0M148.5 376.9h0M148.7 382.2h0M148.9 357.1h0M149.1 372.4h0M149.3 372.6h0M149.5 379.7h0M149.7 366.1h0M150 374.3h0M150.2 363.2h0M150.4 366.5h0M150.6 371.2h0M150.8 367.2h0M151 377.5h0M151.2 373.1h0M151.4 374.5h0M151.6 378.4h0M151.8 371.1h0M152 372h0M152.3 363.1h0M152.5 390.1h0M152.7 375h0M152.9 376.3h0M153.1 373.8h0M153.3 368.8h0M153.5 368.9h0M153.7 371h0M153.9 373.8h0M154.1 368.3h0M154.3 369.1h0M154.6 381.5h0M154.8 372.6h0M155 378.8h0M155.2 377.7h0M155.4 370.2h0M155.6 370.7h0M155.8 370.4h0M156 376h0M156.2 372.2h0M156.4 376.2h0M156.6 368.9h0M156.8 367.1h0M157.1 361.1h0M157.3 363.9h0M157.5 375.5h0M157.7 373.6h0M157.9 376.2h0M158.1 369.2h0M158.3 359.8h0M158.5 367h0M158.7 383.3h0M158.9 378h0M159.1 378.2h0M159.4 368h0M159.6 370.9h0M159.8 369.2h0" stroke="#22ee22" stroke-width="2.9" stroke-linecap="round" fill="none"/>
<path d="M267.5 357.6V399.3M309.7 357.6V399.3M351.9 357.6V399.3" stroke="#888" stroke-width="0.7" stroke-dasharray="1.2 1.3" fill="none"/>
<path d="M225.3 357.6V399.3H351.9" stroke="#333" stroke-width="1.1" fill="none"/>
<path d="M223 399H225.3M220.8 392.1H225.3M223 385.2H225.3M220.8 378.3H225.3M223 371.4H225.3M220.8 364.5H225.3M223 357.6H225.3M225.3 399.3V403.9M246.4 399.3V402.1M267.5 399.3V403.9M288.6 399.3V402.1M309.7 399.3V403.9M330.8 399.3V402.1M351.9 399.3V403.9" stroke="#333" stroke-width="1" fill="none"/>
<text x="217.1" y="368.2" font-size="11" text-anchor="end" >2</text>
<text x="217.1" y="382" font-size="11" text-anchor="end" >0</text>
<text x="217.1" y="395.8" font-size="11" text-anchor="end" >-2</text>
<text x="225.3" y="416.8" font-size="11.2" text-anchor="middle" >0</text>
<text x="267.5" y="416.8" font-size="11.2" text-anchor="middle" >200</text>
<text x="309.7" y="416.8" font-size="11.2" text-anchor="middle" >400</text>
<text x="351.9" y="416.8" font-size="11.2" text-anchor="middle" >600</text>
<text x="288.5" y="430.7" font-size="13.6" text-anchor="middle" >Instances</text>
<text transform="translate(201.5 376.8) rotate(-90)" font-size="13.5" text-anchor="middle">PC1</text>
<path d="M226.5 367.1h0M226.7 375.7h0M226.9 375.5h0M227.1 379h0M227.3 380.5h0M227.5 366.9h0M227.8 370.1h0M228 365.5h0M228.2 378.9h0M228.4 376.4h0M228.6 382.3h0M228.8 370.4h0M229 385.6h0M229.2 373.1h0M229.4 369.7h0M229.6 367.7h0M229.8 382.7h0M230 369.8h0M230.3 381.2h0M230.5 381.5h0M230.7 385.1h0M230.9 369.4h0M231.1 366.4h0M231.3 380.5h0M231.5 381.5h0M231.7 378.9h0M231.9 361.1h0M232.1 370.5h0M232.3 380.1h0M232.6 387.9h0M232.8 380.9h0M233 369.5h0M233.2 365.3h0M233.4 378.4h0M233.6 381.1h0M233.8 379.9h0M234 388.4h0M234.2 371.3h0M234.6 370.4h0M234.9 387.2h0M235.1 384.6h0M235.3 375.1h0M235.5 381.5h0M235.7 372.2h0M235.9 376.8h0M236.1 383.9h0M236.3 373.2h0M236.5 371.9h0M236.7 388.3h0M236.9 366.1h0M237.1 374h0M237.4 372.4h0M237.6 387.9h0M237.8 381.2h0M238 379h0M238.2 370.6h0M238.4 385.5h0M238.6 382.1h0M238.8 388.8h0M239 378.4h0M239.2 375h0M239.4 386.8h0M239.7 380.4h0M239.9 374.1h0M240.1 367.9h0" stroke="#ff1010" stroke-width="2.9" stroke-linecap="round" fill="none"/>
<path d="M234.4 371.4h0M242.2 385.9h0M243.6 383.1h0M251.6 372.1h0M264.3 370.7h0M268.3 383.3h0M268.5 377.5h0M268.7 380.5h0M268.9 379.4h0M269.1 380.3h0M269.3 386.7h0M269.5 379.8h0M269.7 377.6h0M269.9 387.4h0M270.1 372.6h0M270.3 372h0M270.6 373.4h0M270.8 372.5h0M271 378.9h0M271.2 384.5h0M271.4 385.9h0M271.6 387h0M271.8 382.2h0M272 383h0M272.2 379.3h0M272.4 393.2h0M272.6 370.8h0M272.9 371h0M273.1 382.9h0M273.3 379.3h0M273.5 380.3h0M273.7 381.4h0M273.9 383.9h0M274.1 383.4h0M274.3 387.1h0M274.5 381.9h0M274.7 382.9h0M274.9 381.1h0M275.2 387.2h0M275.4 382.6h0M275.6 382.5h0M275.8 379.7h0M276 388.3h0M276.2 380.6h0M276.4 377.7h0M276.6 379.7h0M276.8 384.7h0M277 385.3h0M277.2 384h0M277.4 379h0M277.7 374.7h0M277.9 383.6h0M278.1 386.1h0M278.3 380.8h0M278.5 381.7h0M278.7 387.5h0M278.9 386.6h0M279.1 383.3h0M279.3 379.3h0M279.5 389h0M279.7 388.1h0M280 380.2h0M280.2 389.1h0M280.4 382.2h0M280.6 381h0M280.8 383.4h0M281 388.1h0M281.2 383.1h0" stroke="#0a0a96" stroke-width="2.9" stroke-linecap="round" fill="none"/>
<path d="M310 369.3h0M310.2 371.5h0M310.4 371.1h0M310.6 381.6h0M310.9 382.4h0M311.1 378.6h0M311.3 372.5h0M311.5 366.9h0M311.7 381.9h0M311.9 373.4h0M312.1 379.8h0M312.3 379.1h0M312.5 376.6h0M312.7 371.3h0M312.9 373.9h0M313.2 368.6h0M313.4 380.5h0M313.6 370.1h0M313.8 369.9h0M314 374.6h0M314.2 372.4h0M314.4 378.1h0M314.6 381h0M314.8 377.2h0M315 378.5h0M315.2 359h0M315.4 377.6h0M315.7 365.9h0M315.9 373.8h0M316.1 373.2h0M316.3 370.8h0M316.5 379.2h0M316.7 369.9h0M316.9 372.8h0M317.1 383.3h0M317.3 371.6h0M317.5 371.8h0M317.7 372.4h0M318 366.1h0M318.2 377.1h0M318.4 372h0M318.6 370.7h0M318.8 379.8h0M319 368.2h0M319.2 382.8h0M319.4 382h0M319.6 371.9h0M319.8 380.8h0M320 375.4h0M320.3 383.9h0M320.5 374.4h0M320.7 381h0M321.1 383.2h0M321.3 372.3h0M321.5 376.2h0M321.7 374.4h0M321.9 375.1h0M322.1 374h0M322.3 382h0M322.5 388.8h0M322.8 374.5h0M323 379.8h0M323.2 377.2h0M323.4 372.3h0M323.6 385.6h0M323.8 378.8h0" stroke="#22ee22" stroke-width="2.9" stroke-linecap="round" fill="none"/>
<path d="M240.3 373.2h0M240.5 378.8h0M240.7 383.8h0M240.9 382.4h0M241.1 380.9h0M241.3 376.2h0M241.5 377.4h0M241.7 367.6h0M242 375.5h0M242.4 368.4h0M242.6 371.8h0M242.8 376.5h0M243 381.2h0M243.2 387.6h0M243.4 382.8h0M243.8 381.6h0M244 384.5h0M244.2 376.1h0M244.5 375.8h0M244.7 373.8h0M244.9 373.6h0M245.1 369.5h0M245.3 381.8h0M245.5 371.9h0M245.7 382.6h0M245.9 373.4h0M246.1 376.3h0M246.3 375.9h0M246.5 372h0M246.8 377.3h0M247 371.3h0M247.2 372.6h0M247.4 376.5h0M247.6 380.3h0M247.8 381.3h0M248 380.1h0M248.2 378.4h0M248.4 377.4h0M248.6 361.6h0M248.8 374h0M249.1 373.3h0M249.3 381.8h0M249.5 381h0M249.7 379h0M249.9 376.3h0M250.1 382.7h0M250.3 369h0M250.5 380.3h0M250.7 371.8h0M250.9 389.4h0M251.1 377.4h0M251.3 376h0M251.8 374.3h0M252 376h0M252.2 376.6h0M252.4 387h0M252.6 381h0M252.8 389.2h0M253 374.3h0M253.2 375.9h0M253.4 378.4h0M253.6 381.6h0M253.9 380.4h0M254.1 368.3h0M254.3 368.9h0" stroke="#ff1010" stroke-width="2.9" stroke-linecap="round" fill="none"/>
<path d="M281.4 384.5h0M281.6 381h0M281.8 387.1h0M282 377.1h0M282.2 391.5h0M282.5 383.7h0M282.7 382.7h0M282.9 377.8h0M283.1 385.9h0M283.3 380h0M283.5 385.7h0M283.7 379h0M283.9 373.8h0M284.1 384.9h0M284.3 380.5h0M284.5 387.6h0M284.8 377.7h0M285 376.5h0M285.2 382.6h0M285.4 388.7h0M285.6 380.7h0M285.8 376.8h0M286 377.1h0M286.2 378.6h0M286.4 392.3h0M286.6 386.3h0M286.8 375.4h0M287.1 389.1h0M287.3 376.9h0M287.5 373h0M287.7 378.8h0M287.9 377h0M288.1 384.5h0M288.3 389.1h0M288.5 383.3h0M288.7 383.8h0M288.9 383h0M289.1 379.2h0M289.3 383.5h0M289.6 381.8h0M289.8 380.6h0M290 382.8h0M290.2 373.2h0M290.4 380.5h0M290.6 382.3h0M290.8 383.9h0M291 386h0M291.2 375.8h0M291.4 382h0M291.6 388.4h0M291.9 385.7h0M292.1 383.5h0M292.3 385.1h0M292.5 377.2h0M292.7 388.8h0M292.9 380.2h0M293.1 382h0M293.3 388.9h0M293.5 382.5h0M293.7 383.3h0M293.9 380.2h0M294.2 385.1h0M294.4 381.2h0M294.6 391.4h0M294.8 388.4h0M295 378.7h0M295.2 377.4h0M295.4 382.9h0M295.6 385.9h0" stroke="#0a0a96" stroke-width="2.9" stroke-linecap="round" fill="none"/>
<path d="M324 378h0M324.2 380.4h0M324.4 372.8h0M324.6 375.4h0M324.8 379.1h0M325.1 380h0M325.3 370.1h0M325.5 378.2h0M325.7 371.3h0M325.9 372.1h0M326.1 385h0M326.3 380.5h0M326.5 374.5h0M326.7 372.6h0M326.9 370.2h0M327.1 370.1h0M327.4 368.8h0M327.6 376.5h0M327.8 375.6h0M328 370.2h0M328.2 376.8h0M328.4 368.6h0M328.6 383.2h0M328.8 370.8h0M329 375.4h0M329.2 385.3h0M329.4 369h0M329.6 372.7h0M329.9 374.3h0M330.1 380.3h0M330.3 376.9h0M330.5 366h0M330.7 378.9h0M330.9 393.5h0M331.1 379.1h0M331.3 380.9h0M331.5 375h0M331.7 376.5h0M331.9 379.3h0M332.2 378.9h0M332.4 368.5h0M332.6 382.2h0M332.8 363.5h0M333 377.2h0M333.2 380.3h0M333.4 369.9h0M333.6 371.1h0M333.8 380h0M334 370.1h0M334.2 384.3h0M334.4 379.3h0M334.7 368h0M334.9 375.6h0M335.1 381.3h0M335.3 371.3h0M335.5 369.1h0M335.7 374.3h0M335.9 384.1h0M336.1 376h0M336.3 371.8h0M336.5 369.9h0M336.7 363.9h0M337 375.5h0M337.2 376.7h0M337.4 374.3h0M337.6 367.4h0" stroke="#22ee22" stroke-width="2.9" stroke-linecap="round" fill="none"/>
<path d="M254.5 377.8h0M254.7 371.2h0M254.9 385.3h0M255.1 387h0M255.3 379.9h0M255.5 381.8h0M255.7 380.3h0M255.9 376.6h0M256.1 362.9h0M256.4 380.8h0M256.6 377.3h0M256.8 376.2h0M257 377.7h0M257.2 373.1h0M257.4 369.1h0M257.6 383.5h0M257.8 376.8h0M258 378.9h0M258.2 375.9h0M258.4 384.8h0M258.7 385.9h0M258.9 388.5h0M259.1 375.2h0M259.3 376.8h0M259.5 377.3h0M259.7 388.6h0M259.9 379.4h0M260.1 381.2h0M260.3 384.2h0M260.5 381.9h0M260.7 374.5h0M261 375.2h0M261.2 377.8h0M261.4 375.4h0M261.6 380.5h0M261.8 377.4h0M262 377.6h0M262.2 375.3h0M262.4 378.1h0M262.6 378.4h0M262.8 378.4h0M263 380.6h0M263.2 367.9h0M263.5 375.5h0M263.7 375.9h0M263.9 367.7h0M264.1 371.7h0M264.5 374.8h0M264.7 374.2h0M264.9 369.7h0M265.1 372.2h0M265.3 374.5h0M265.5 382.9h0M265.8 381.6h0M266 376.7h0M266.2 375.7h0M266.4 382.2h0M266.6 379.5h0M266.8 379.6h0M267 377.7h0M267.2 376.5h0M267.4 379.1h0M267.6 383.1h0M267.8 372.8h0M268.1 371.3h0" stroke="#ff1010" stroke-width="2.9" stroke-linecap="round" fill="none"/>
<path d="M295.8 377.2h0M296 393.6h0M296.2 386.9h0M296.4 379.3h0M296.7 379.4h0M296.9 388.1h0M297.1 392.6h0M297.3 375.3h0M297.5 382h0M297.7 387.4h0M297.9 382.5h0M298.1 378.1h0M298.3 396.2h0M298.5 377h0M298.7 379h0M299 393.6h0M299.2 378.8h0M299.4 392h0M299.6 376.9h0M299.8 380.7h0M300 371.1h0M300.2 385.9h0M300.4 382.8h0M300.6 377.4h0M300.8 386.1h0M301 386.4h0M301.3 384.7h0M301.5 383.2h0M301.7 388.4h0M301.9 380.3h0M302.1 380h0M302.3 382.4h0M302.5 374h0M302.7 384.5h0M302.9 376h0M303.1 385.6h0M303.3 378.9h0M303.5 392.8h0M303.8 381.8h0M304 383.7h0M304.2 385.3h0M304.4 385.9h0M304.6 384.6h0M304.8 386.5h0M305 394.1h0M305.2 385.9h0M305.4 385.6h0M305.6 385.5h0M305.8 388.3h0M306.1 383.5h0M306.3 378.7h0M306.5 384.1h0M306.7 385.3h0M306.9 375.8h0M307.1 377.7h0M307.3 378h0M307.5 376.8h0M307.7 384.5h0M307.9 383.5h0M308.1 377h0M308.3 385.7h0M308.6 383.4h0M308.8 380.8h0M309 380.9h0M309.2 384.2h0M309.4 377.7h0M309.6 383.7h0M309.8 379h0M320.9 370h0" stroke="#0a0a96" stroke-width="2.9" stroke-linecap="round" fill="none"/>
<path d="M337.8 379.2h0M338 366.8h0M338.2 389.2h0M338.4 369.6h0M338.6 377.7h0M338.8 371.5h0M339 370.2h0M339.3 380.5h0M339.5 374.5h0M339.7 372.6h0M339.9 370.7h0M340.1 379.1h0M340.3 379.4h0M340.5 384.6h0M340.7 359.9h0M340.9 375h0M341.1 375.1h0M341.3 382.2h0M341.5 368.8h0M341.8 376.8h0M342 366h0M342.2 369.2h0M342.4 373.7h0M342.6 369.8h0M342.8 380h0M343 375.6h0M343.2 377h0M343.4 380.8h0M343.6 373.7h0M343.8 374.6h0M344.1 365.9h0M344.3 392.3h0M344.5 377.5h0M344.7 378.8h0M344.9 376.3h0M345.1 371.4h0M345.3 371.5h0M345.5 373.6h0M345.7 376.3h0M345.9 371h0M346.1 371.7h0M346.4 383.9h0M346.6 375.1h0M346.8 381.3h0M347 380.2h0M347.2 372.9h0M347.4 373.3h0M347.6 373h0M347.8 378.5h0M348 374.7h0M348.2 378.7h0M348.4 371.5h0M348.6 369.8h0M348.9 363.9h0M349.1 366.6h0M349.3 378h0M349.5 376.1h0M349.7 378.7h0M349.9 371.9h0M350.1 362.6h0M350.3 369.6h0M350.5 385.7h0M350.7 380.5h0M350.9 380.6h0M351.2 370.7h0M351.4 373.5h0M351.6 371.8h0" stroke="#22ee22" stroke-width="2.9" stroke-linecap="round" fill="none"/>
<path d="M463.1 355.2V397.5M505.3 355.2V397.5M547.5 355.2V397.5" stroke="#888" stroke-width="0.7" stroke-dasharray="1.2 1.3" fill="none"/>
<path d="M420.9 355.2V397.5H547.5" stroke="#333" stroke-width="1.1" fill="none"/>
<path d="M418.6 397.3H420.9M416.4 390.3H420.9M418.6 383.2H420.9M416.4 376.2H420.9M418.6 369.2H420.9M416.4 362.1H420.9M418.6 355.1H420.9M420.9 397.5V402.1M442 397.5V400.3M463.1 397.5V402.1M484.2 397.5V400.3M505.3 397.5V402.1M526.4 397.5V400.3M547.5 397.5V402.1" stroke="#333" stroke-width="1" fill="none"/>
<text x="412.7" y="365.8" font-size="11" text-anchor="end" >2</text>
<text x="412.7" y="379.9" font-size="11" text-anchor="end" >0</text>
<text x="412.7" y="394" font-size="11" text-anchor="end" >-2</text>
<text x="420.9" y="414.2" font-size="11.2" text-anchor="middle" >0</text>
<text x="463.1" y="414.2" font-size="11.2" text-anchor="middle" >200</text>
<text x="505.3" y="414.2" font-size="11.2" text-anchor="middle" >400</text>
<text x="547.5" y="414.2" font-size="11.2" text-anchor="middle" >600</text>
<text x="484.1" y="430.7" font-size="13.6" text-anchor="middle" >Instances</text>
<text transform="translate(398.3 376.2) rotate(-90)" font-size="13.5" text-anchor="middle">PC1</text>
<path d="M464.1 375.4h0M464.3 378.4h0M464.7 378.2h0M465.1 377.7h0M465.3 375.4h0M465.7 370.4h0M465.9 369.8h0M466.2 371.2h0M466.4 370.3h0M466.6 376.9h0M467.8 377.2h0M468.2 368.6h0M468.5 368.8h0M470.5 379.1h0M471.4 377.6h0M471.8 378.6h0M472 375.6h0M472.2 377.6h0M473.3 372.6h0M473.9 378.8h0M474.7 381.3h0M474.9 377.2h0M475.6 378.1h0M477.2 379h0M477.6 375h0M478.5 375.7h0M478.9 377.9h0M479.3 376.9h0M479.5 371.6h0M479.9 378.4h0M480.4 375.6h0M480.6 374.4h0M481.4 374.7h0M481.6 375h0M481.8 376.5h0M482.4 373.3h0M482.9 374.8h0M483.1 370.8h0M483.3 376.8h0M483.5 374.9h0M483.7 382.5h0M484.3 381.8h0M484.7 377.1h0M485.4 378.5h0M485.6 380.8h0M485.8 371.1h0M486.2 380.3h0M486.4 381.9h0M486.8 373.7h0M487 380h0M488.1 375.1h0M488.5 378.2h0M489.5 378.1h0M490 379.2h0M490.6 376.6h0M490.8 375.3h0M491.4 375.1h0M492.3 377.3h0M492.9 373.1h0M493.7 376h0M494.1 374.9h0" stroke="#ec8cec" stroke-width="2.9" stroke-linecap="round" fill="none"/>
<path d="M468 391.4h0M477.8 389.6h0M482 390.4h0M490.2 389.6h0M491.6 391.8h0M492.7 390.7h0M493.9 394.4h0M499.1 391h0M500.6 392.3h0M506.2 379.5h0M506.5 380.4h0M506.7 376.5h0M507.3 379.8h0M507.7 377.8h0M507.9 377.1h0M508.1 374.5h0M509 378.4h0M509.6 372.5h0M510 376h0M510.2 379h0M510.4 375.1h0M510.6 376.4h0M512.1 377.1h0M512.5 370.6h0M512.7 381.3h0M513.3 370.2h0M513.8 375h0M514.4 377.7h0M514.8 380.8h0M515 380h0M515.4 378.7h0M515.9 381.9h0M516.3 379h0M516.7 381.2h0M517.1 374.1h0M517.3 372.2h0M517.7 371.8h0" stroke="#2ddfe6" stroke-width="2.9" stroke-linecap="round" fill="none"/>
<path d="M422.1 364.8h0M422.3 373.6h0M422.5 373.3h0M422.7 376.9h0M422.9 378.5h0M423.1 364.6h0M423.4 367.9h0M423.6 363.2h0M423.8 376.8h0M424 374.3h0M424.2 380.3h0M424.4 368.2h0M424.6 383.6h0M424.8 370.9h0M425 367.4h0M425.2 365.4h0M425.4 380.6h0M425.6 367.5h0M425.9 379.2h0M426.1 379.5h0M426.3 383.1h0M426.5 367.2h0M426.7 364h0M426.9 378.4h0M427.1 379.5h0M427.3 376.8h0M427.5 358.7h0M427.7 368.3h0M427.9 378.1h0M428.2 386h0M428.4 378.9h0M428.6 367.2h0M428.8 362.9h0M429 376.3h0M429.2 379h0M429.4 377.9h0M429.6 386.5h0M429.8 369.1h0M430 369.2h0M430.2 368.1h0M430.5 385.3h0M430.7 382.6h0M430.9 373h0M431.1 379.4h0M431.3 370h0M431.5 374.7h0M431.7 381.9h0M431.9 371h0M432.1 369.7h0M432.3 386.4h0M432.5 363.7h0M432.7 371.8h0M433 370.2h0M433.2 386h0M433.4 379.2h0M433.6 376.9h0M433.8 368.4h0M434 383.6h0M434.2 380.1h0M434.4 386.9h0M434.6 376.3h0M434.8 372.8h0M435 384.9h0M435.3 378.4h0M435.5 371.9h0M435.7 365.6h0M435.9 371h0M436.1 376.7h0M436.3 381.8h0M436.5 380.4h0M436.7 378.8h0M436.9 374.1h0M437.1 375.2h0M437.3 365.3h0M437.6 373.3h0M437.8 383.9h0M438 366.1h0M438.2 369.5h0M438.4 374.4h0M438.6 379.1h0M438.8 385.7h0M439 380.8h0M439.2 381.1h0M439.4 379.6h0M439.6 382.5h0M439.8 373.9h0M440.1 373.7h0M440.3 371.7h0M440.5 371.4h0M440.7 367.2h0M440.9 379.8h0M441.1 369.6h0M441.3 380.6h0M441.5 371.3h0M441.7 374.1h0M441.9 373.8h0M442.1 369.8h0M442.4 375.2h0M442.6 369h0M442.8 370.4h0M443 374.4h0" stroke="#7f0a86" stroke-width="2.9" stroke-linecap="round" fill="none"/>
<path d="M494.3 376.9h0M494.8 376.7h0M495.2 374.8h0M495.6 368.9h0M496.2 375.2h0M497.5 378.2h0M497.7 377.9h0M498.1 371.8h0M498.3 382.5h0M498.5 373.9h0M498.9 376.8h0M499.4 379.7h0M499.6 381.7h0M501.9 376.6h0M502.5 373.6h0M502.7 375.6h0M502.9 375.9h0M503.1 374.7h0M503.3 382.5h0M503.7 374.9h0M504.4 378.8h0M504.6 378.8h0M505 375.6h0M505.2 381.7h0M505.4 376.9h0M505.6 367h0M505.8 369.3h0M506 368.9h0M506.9 370.3h0M507.1 364.5h0M507.5 371.2h0M508.3 369h0M508.5 371.7h0M508.8 366.3h0M509.2 367.9h0M509.4 367.6h0M509.8 370.2h0M510.8 356.6h0M511 375.5h0M511.3 363.5h0M511.5 371.7h0M511.7 371h0M511.9 368.6h0M512.3 367.6h0M512.9 369.3h0M513.1 369.6h0M513.6 363.8h0M514 369.8h0M514.2 368.5h0M514.6 365.9h0M515.2 369.7h0M515.6 373.3h0M516.1 372.2h0M516.5 367.8h0M516.9 370h0M517.5 372.9h0M519 370.1h0M520.2 373.2h0M520.9 367.9h0M521.3 369.1h0M521.5 369.8h0" stroke="#ec8cec" stroke-width="2.9" stroke-linecap="round" fill="none"/>
<path d="M517.9 379.9h0M518.1 386.9h0M518.4 372.3h0M518.6 377.8h0M518.8 375h0M519.2 383.6h0M519.4 376.7h0M519.6 375.9h0M519.8 378.4h0M520 370.6h0M520.4 377h0M520.7 377.9h0M521.1 376.1h0M521.7 383h0M521.9 378.4h0M522.1 372.3h0M523.2 374.4h0M523.4 373.5h0M523.8 374.7h0M524.2 381.2h0M524.8 383.3h0M525.7 378.2h0M525.9 374.8h0M526.3 376.8h0M526.5 391.7h0M526.7 377h0M526.9 378.9h0M527.3 374.3h0M527.5 377.2h0M527.8 376.8h0M528.2 380.2h0M528.6 375.1h0M528.8 378.2h0M529.4 377.9h0M529.8 382.4h0M530 377.2h0M530.7 379.3h0" stroke="#2ddfe6" stroke-width="2.9" stroke-linecap="round" fill="none"/>
<path d="M443.2 378.2h0M443.4 379.2h0M443.6 378h0M443.8 376.3h0M444 375.3h0M444.2 359.2h0M444.4 371.8h0M444.7 371.1h0M444.9 379.8h0M445.1 379h0M445.3 376.9h0M445.5 374.2h0M445.7 380.7h0M445.9 366.7h0M446.1 378.2h0M446.3 369.6h0M446.5 387.5h0M446.7 375.3h0M446.9 373.8h0M447.2 369.9h0M447.4 372.2h0M447.6 373.9h0M447.8 374.5h0M448 385.1h0M448.2 379h0M448.4 387.3h0M448.6 372.1h0M448.8 373.8h0M449 376.3h0M449.2 379.5h0M449.5 378.3h0M449.7 366h0M449.9 366.6h0M450.1 375.7h0M450.3 368.9h0M450.5 383.3h0M450.7 385.1h0M450.9 377.8h0M451.1 379.8h0M451.3 378.2h0M451.5 374.5h0M451.7 360.5h0M452 378.7h0M452.2 375.2h0M452.4 374.1h0M452.6 375.6h0M452.8 370.9h0M453 366.9h0M453.2 381.5h0M453.4 374.7h0M453.6 376.8h0M453.8 373.8h0M454 382.9h0M454.3 383.9h0M454.5 386.6h0M454.7 373h0M454.9 374.6h0M455.1 375.2h0M455.3 386.7h0M455.5 377.3h0M455.7 379.1h0M455.9 382.2h0M456.1 379.9h0M456.3 372.3h0M456.6 373.1h0M456.8 375.7h0M457 373.2h0M457.2 378.4h0M457.4 375.3h0M457.6 375.5h0M457.8 373.1h0M458 376h0M458.2 376.3h0M458.4 376.3h0M458.6 378.6h0M458.8 365.6h0M459.1 373.4h0M459.3 373.8h0M459.5 365.4h0M459.7 369.4h0M459.9 368.5h0M460.1 372.6h0M460.3 372h0M460.5 367.4h0M460.7 370h0M460.9 372.4h0M461.1 380.9h0M461.4 379.6h0M461.6 374.6h0M461.8 373.6h0M462 380.2h0M462.2 377.5h0M462.4 377.5h0M462.6 375.5h0M462.8 374.4h0M463 377h0M463.2 381.1h0M463.4 370.6h0M463.7 369.1h0M463.9 381.3h0M464.5 377.3h0M464.9 384.8h0" stroke="#7f0a86" stroke-width="2.9" stroke-linecap="round" fill="none"/>
<path d="M522.3 370.4h0M522.5 367.9h0M522.7 367.8h0M523 366.5h0M523.6 367.9h0M524 366.3h0M524.4 368.6h0M524.6 373.2h0M525 366.7h0M525.2 370.5h0M525.5 372.1h0M526.1 363.7h0M527.1 372.9h0M528 366.2h0M528.4 361.1h0M529 367.6h0M529.2 368.9h0M529.6 367.8h0M530.3 365.7h0M530.5 373.4h0M530.9 369.1h0M531.1 366.8h0M531.3 372.1h0M531.9 369.6h0M532.1 367.6h0M532.3 361.5h0M532.6 373.3h0M533 372.1h0M533.2 365.1h0M533.6 364.5h0M534 367.4h0M534.4 369.2h0M534.6 367.9h0M535.1 372.3h0M535.3 370.4h0M535.5 368.5h0M536.3 357.5h0M536.7 373h0M537.1 366.5h0M537.6 363.6h0M537.8 366.9h0M538.2 367.6h0M539.2 371.5h0M539.4 372.4h0M539.7 363.5h0M540.7 369.2h0M540.9 369.3h0M541.3 374.2h0M541.5 368.7h0M541.7 369.5h0M542.8 370.6h0M543 371.1h0M543.2 370.8h0M543.8 376.6h0M544 369.3h0M544.2 367.5h0M544.5 361.5h0M544.7 364.3h0M545.5 369.6h0M545.7 360.2h0M545.9 367.4h0M546.8 368.4h0" stroke="#ec8cec" stroke-width="2.9" stroke-linecap="round" fill="none"/>
<path d="M531.5 382.1h0M531.7 373.9h0M532.8 374.6h0M533.4 377.2h0M533.8 387.3h0M534.2 375.6h0M534.9 378.5h0M535.7 377h0M535.9 377.3h0M536.1 382.6h0M536.5 372.8h0M536.9 380.1h0M537.4 374.7h0M538 371.6h0M538.4 377.9h0M538.6 373.5h0M538.8 374.9h0M539 378.8h0M539.9 390.5h0M540.1 375.4h0M540.3 376.7h0M540.5 374.2h0M541.1 371.4h0M542 381.9h0M542.2 373h0M542.4 379.2h0M542.6 378.1h0M543.4 376.4h0M543.6 372.6h0M544.9 375.9h0M545.1 374h0M545.3 376.6h0M546.1 383.7h0M546.3 378.4h0M546.5 378.6h0M547 371.3h0M547.2 369.6h0" stroke="#2ddfe6" stroke-width="2.9" stroke-linecap="round" fill="none"/>
<path d="M465.5 385.5h0M466.8 382.6h0M467 383.9h0M467.2 385.1h0M467.4 380.2h0M467.6 380.9h0M468.7 380.9h0M468.9 377.2h0M469.1 378.3h0M469.3 379.3h0M469.5 381.9h0M469.7 381.4h0M469.9 385.1h0M470.1 379.8h0M470.3 380.9h0M470.8 385.3h0M471 380.6h0M471.2 380.5h0M471.6 386.4h0M472.4 382.7h0M472.6 383.4h0M472.8 382h0M473 376.9h0M473.5 381.6h0M473.7 384.2h0M474.1 379.7h0M474.3 385.6h0M474.5 384.7h0M475.1 387.1h0M475.3 386.1h0M475.8 387.2h0M476 380.2h0M476.2 378.9h0M476.4 381.4h0M476.6 386.1h0M476.8 381.1h0M477 382.5h0M477.4 385.2h0M478.1 381.7h0M478.3 380.7h0M478.7 384h0M479.1 383.8h0M479.7 382.9h0M480.1 385.7h0M480.8 380.6h0M481 386.8h0M481.2 378.6h0M482.2 384.4h0M482.7 387.2h0M483.9 387.2h0M484.1 381.3h0M484.5 381h0M484.9 381.5h0M485.2 379.8h0M486 378.4h0M486.6 384.1h0M487.2 386.5h0M487.5 383.7h0M487.7 381.5h0M487.9 383.1h0M488.3 386.9h0M488.7 380h0M488.9 387h0M489.1 380.5h0M489.3 381.3h0M489.8 383.1h0M490.4 386.5h0M491 380.8h0M491.2 383.9h0M491.8 385h0M492 377.2h0M492.5 386.2h0M493.1 380h0M493.3 385.5h0M493.5 380.5h0M494.6 391.7h0M495 390.2h0M495.4 378.7h0M495.8 384h0M496 380.7h0M496.4 384.1h0M496.6 384.5h0M496.9 382.7h0M497.1 381.2h0M497.3 386.5h0M497.9 380.4h0M498.7 383.7h0M499.8 383.4h0M500 384h0M500.2 382.6h0M500.4 384.6h0M500.8 383.9h0M501 383.7h0M501.2 383.5h0M501.4 386.3h0M501.7 381.5h0M502.1 382.1h0M502.3 383.4h0M503.5 381.5h0M503.9 383.7h0M504.2 381.4h0M504.8 382.2h0" stroke="#7f0a86" stroke-width="2.9" stroke-linecap="round" fill="none"/>
<path d="M656.5 354.6V396.4M698.7 354.6V396.4M740.9 354.6V396.4" stroke="#888" stroke-width="0.7" stroke-dasharray="1.2 1.3" fill="none"/>
<path d="M614.3 354.6V396.4H740.9" stroke="#333" stroke-width="1.1" fill="none"/>
<path d="M612 396.5H614.3M609.8 389.5H614.3M612 382.5H614.3M609.8 375.5H614.3M612 368.5H614.3M609.8 361.5H614.3M612 354.5H614.3M614.3 396.4V401M635.4 396.4V399.2M656.5 396.4V401M677.6 396.4V399.2M698.7 396.4V401M719.8 396.4V399.2M740.9 396.4V401" stroke="#333" stroke-width="1" fill="none"/>
<text x="606.1" y="365.2" font-size="11" text-anchor="end" >2</text>
<text x="606.1" y="379.2" font-size="11" text-anchor="end" >0</text>
<text x="606.1" y="393.2" font-size="11" text-anchor="end" >-2</text>
<text x="614.3" y="413.4" font-size="11.2" text-anchor="middle" >0</text>
<text x="656.5" y="413.4" font-size="11.2" text-anchor="middle" >200</text>
<text x="698.7" y="413.4" font-size="11.2" text-anchor="middle" >400</text>
<text x="740.9" y="413.4" font-size="11.2" text-anchor="middle" >600</text>
<text x="677.5" y="430.7" font-size="13.6" text-anchor="middle" >Instances</text>
<text transform="translate(591.7 375.5) rotate(-90)" font-size="13.5" text-anchor="middle">PC1</text>
<path d="M615.5 364.1h0M617 362.5h0M620.9 358.1h0M629.1 364.9h0M630.7 364.7h0M631.4 365.4h0M643.1 365.4h0M643.3 366h0M645.1 359.9h0M652.2 364.9h0M657.3 380.6h0M657.5 374.7h0M657.9 376.6h0M658.1 377.5h0M658.5 377h0M658.7 374.7h0M659.1 369.7h0M659.3 369.1h0M659.6 370.5h0M659.8 369.6h0M660 376.2h0M661.2 376.5h0M661.6 367.9h0M661.9 368.1h0M662.3 376.5h0M662.5 377.6h0M662.7 378.6h0M662.9 381.1h0M663.3 384.4h0M663.7 380.2h0M663.9 378.4h0M664.4 379.8h0M664.6 379.8h0M665.2 377.8h0M665.4 374.9h0M665.6 376.9h0M665.8 382h0M666.4 376.2h0M666.7 371.9h0M667.3 378.1h0M667.5 379h0M667.9 383.9h0M668.1 380.6h0M668.3 376.5h0M669 377.4h0M669.4 379.5h0M670.6 378.3h0M671 374.3h0M671.5 381h0M671.7 380h0M671.9 375h0M672.3 377.2h0M672.7 376.2h0M672.9 370.9h0M673.3 377.7h0M673.8 374.9h0M674 373.7h0M674.6 377.9h0M674.8 374h0M675 374.3h0M675.2 375.8h0M675.8 372.6h0M676.3 374.1h0M676.5 370.2h0M676.7 376.1h0M676.9 374.2h0M677.5 380.6h0M677.7 381.1h0M677.9 380.3h0M678.1 376.4h0M678.3 380.8h0" stroke="#ec8cec" stroke-width="2.9" stroke-linecap="round" fill="none"/>
<path d="M660.4 383.2h0M661.4 390.7h0M664.2 384.5h0M665 385.6h0M666 382.6h0M668.5 386.3h0M668.7 385.4h0M669.2 386.5h0M670 385.4h0M671.2 388.8h0M672.5 383h0M674.4 386h0M675.4 389.7h0M676.1 386.5h0M677.3 386.5h0M680.6 385.7h0M681.7 386.1h0M682.3 386.2h0M683.6 388.8h0M683.8 385.7h0M685 391h0M685.2 384.2h0M686.1 390h0M687.3 393.7h0M688 391h0M688.4 389.4h0M690.7 385.7h0M692.5 390.2h0M693.2 382.6h0M693.4 383.3h0M693.8 383.8h0M694 391.6h0M694.8 385.6h0M699.6 378.8h0M699.9 379.7h0M700.1 375.8h0M700.7 379.1h0M701.1 377h0M701.3 376.4h0M701.5 373.8h0M702.4 377.7h0M703 371.8h0M703.4 375.3h0M703.6 378.3h0M703.8 374.4h0" stroke="#2ddfe6" stroke-width="2.9" stroke-linecap="round" fill="none"/>
<path d="M615.7 372.9h0M615.9 372.7h0M616.1 376.2h0M616.3 377.8h0M616.5 363.9h0M616.8 367.2h0M617.2 376.1h0M617.4 373.6h0M617.6 379.6h0M617.8 367.5h0M618 382.9h0M618.2 370.2h0M618.4 366.7h0M618.6 364.7h0M618.8 379.9h0M619 366.8h0M619.3 378.5h0M619.5 378.7h0M619.7 382.4h0M619.9 366.5h0M620.1 363.4h0M620.3 377.7h0M620.5 378.7h0M620.7 376.1h0M621.1 367.6h0M621.3 377.4h0M621.6 385.2h0M621.8 378.2h0M622 366.5h0M622.2 362.3h0M622.4 375.6h0M622.6 378.3h0M622.8 377.2h0M623 385.7h0M623.2 368.4h0M623.4 368.5h0M623.6 367.5h0M623.9 384.5h0M624.1 381.8h0M624.3 372.3h0M624.5 378.7h0M624.7 369.3h0M624.9 374h0M625.1 381.2h0M625.3 370.3h0M625.5 369h0M625.7 385.7h0M625.9 363.1h0M626.1 371.1h0M626.4 369.5h0M626.6 385.3h0M626.8 378.4h0M627 376.2h0M627.2 367.7h0M627.4 382.8h0M627.6 379.4h0M627.8 386.2h0M628 375.6h0M628.2 372.1h0M628.4 384.1h0M628.7 377.7h0M628.9 371.2h0M629.3 370.3h0M629.5 376h0M629.7 381.1h0M629.9 379.7h0M630.1 378.1h0M630.3 373.4h0M630.5 374.5h0M631 372.6h0M631.2 383.2h0M631.6 368.9h0M631.8 373.7h0M632 378.4h0M632.2 384.9h0M632.4 380.1h0M632.6 380.4h0M632.8 378.9h0M633 381.8h0M633.2 373.2h0M633.5 373h0M633.7 371h0M633.9 370.7h0" stroke="#7f0a86" stroke-width="2.9" stroke-linecap="round" fill="none"/>
<path d="M678.6 379h0M678.8 377.8h0M679 380.1h0M679.2 370.4h0M679.4 377.7h0M679.6 379.6h0M680.2 373h0M681.5 374.4h0M681.9 377.5h0M682.7 380.5h0M683.2 382.4h0M684 375.9h0M684.2 374.6h0M684.4 380.1h0M684.6 383.2h0M684.8 374.4h0M685.4 376.5h0M685.7 376.6h0M686.3 372.4h0M686.9 379.8h0M687.5 374.2h0M688.2 376h0M689 368.2h0M689.4 380h0M689.6 374.6h0M690.5 380.4h0M690.9 377.5h0M691.1 377.2h0M691.5 371.1h0M691.9 373.2h0M692.3 376.1h0M694.4 382.9h0M695.1 380.8h0M695.3 375.9h0M695.5 381.4h0M695.7 382.6h0M695.9 372.9h0M696.1 374.9h0M696.3 375.2h0M696.5 374h0M696.9 380.7h0M697.1 374.2h0M697.8 378.1h0M698 378.1h0M698.2 381.5h0M698.4 374.9h0M698.8 376.2h0M699 366.4h0M699.2 368.6h0M699.4 368.2h0M700.3 369.6h0M700.5 363.9h0M700.9 370.6h0M701.7 368.4h0M701.9 371h0M702.2 365.6h0M702.6 367.2h0M702.8 367h0M703.2 369.5h0M704.2 355.9h0M704.7 362.9h0M704.9 371h0M705.1 370.3h0M705.3 367.9h0M705.7 366.9h0M706.3 368.7h0M706.5 368.9h0M706.7 369.5h0M707 363.1h0M707.4 369.1h0M707.6 367.8h0" stroke="#ec8cec" stroke-width="2.9" stroke-linecap="round" fill="none"/>
<path d="M704 375.7h0M704.4 374.8h0M705.5 376.4h0M705.9 370h0M706.1 380.5h0M707.2 374.3h0M707.8 377h0M708.2 380.1h0M708.4 379.2h0M708.8 378h0M709 372.6h0M709.3 381.1h0M709.7 378.3h0M710.1 380.5h0M710.9 372.2h0M711.3 379.2h0M711.5 386.2h0M712 377h0M712.2 374.3h0M712.6 382.9h0M712.8 376h0M713 375.2h0M713.2 377.7h0M713.4 369.9h0M713.6 372.5h0M713.8 376.3h0M714.1 377.2h0M714.5 375.4h0M715.1 382.3h0M715.3 377.7h0M716.6 373.7h0M716.8 372.8h0M717.2 374h0M717.6 380.5h0M718 372.5h0M718.2 382.6h0M718.9 371.4h0M719.1 377.5h0M719.3 374.1h0M719.7 376.1h0M719.9 390.9h0M720.1 376.3h0M720.3 378.2h0M720.5 372.2h0M720.7 373.6h0M720.9 376.5h0" stroke="#2ddfe6" stroke-width="2.9" stroke-linecap="round" fill="none"/>
<path d="M634.1 366.5h0M634.3 379h0M634.5 369h0M634.7 379.8h0M634.9 370.6h0M635.1 373.4h0M635.3 373.1h0M635.5 369.1h0M635.8 374.5h0M636 368.4h0M636.2 369.7h0M636.4 373.7h0M636.6 377.5h0M636.8 378.5h0M637 377.3h0M637.2 375.6h0M637.4 374.6h0M637.6 358.5h0M637.8 371.1h0M638.1 370.4h0M638.3 379.1h0M638.5 378.3h0M638.7 376.2h0M638.9 373.5h0M639.1 380h0M639.3 366.1h0M639.5 377.5h0M639.7 368.9h0M639.9 386.8h0M640.1 374.6h0M640.3 373.1h0M640.6 369.2h0M640.8 371.5h0M641 373.2h0M641.2 373.8h0M641.4 384.3h0M641.6 378.3h0M641.8 386.6h0M642 371.4h0M642.2 373.1h0M642.4 375.6h0M642.6 378.8h0M642.9 377.6h0M643.5 375h0M643.7 368.3h0M643.9 382.6h0M644.1 384.3h0M644.3 377.1h0M644.5 379.1h0M644.7 377.5h0M644.9 373.8h0M645.4 378h0M645.6 374.5h0M645.8 373.4h0M646 374.9h0M646.2 370.3h0M646.4 366.2h0M646.6 380.8h0M646.8 374h0M647 376.1h0M647.2 373.1h0M647.4 382.1h0M647.7 383.2h0M647.9 385.8h0M648.1 372.4h0M648.3 373.9h0M648.5 374.5h0M648.7 386h0M648.9 376.6h0M649.1 378.4h0M649.3 381.5h0M649.5 379.2h0M649.7 371.7h0M650 372.4h0M650.2 375h0M650.4 372.6h0M650.6 377.7h0M650.8 374.6h0M651 374.8h0M651.2 372.4h0M651.4 375.3h0M651.6 375.6h0M651.8 375.6h0" stroke="#7f0a86" stroke-width="2.9" stroke-linecap="round" fill="none"/>
<path d="M708 365.3h0M708.6 369h0M709.5 371.5h0M709.9 367.1h0M710.3 369.4h0M710.5 373.4h0M710.7 371.5h0M711.1 371.1h0M711.8 371.6h0M712.4 369.4h0M714.3 367.2h0M714.7 368.4h0M714.9 369.2h0M715.5 371.6h0M715.7 369.7h0M715.9 367.3h0M716.1 367.1h0M716.4 365.8h0M717 367.3h0M717.4 365.7h0M717.8 367.9h0M718.4 366h0M718.6 369.8h0M719.5 363h0M721.4 365.5h0M721.8 360.4h0M722.4 367h0M722.6 368.2h0M723 367.2h0M723.7 365h0M724.3 368.4h0M724.5 366.1h0M724.7 371.4h0M725.3 368.9h0M725.5 366.9h0M725.7 360.9h0M726 372.6h0M726.6 364.4h0M727 363.9h0M727.4 366.7h0M727.8 368.6h0M728 367.3h0M728.5 371.6h0M728.9 367.8h0M729.7 356.8h0M730.1 372.3h0M730.5 365.8h0M731 363h0M731.2 366.2h0M731.6 366.9h0M732.6 370.8h0M733.1 362.9h0M733.5 374.7h0M734.1 368.5h0M734.3 368.6h0M734.5 370.7h0M734.9 368.1h0M735.1 368.8h0M735.6 372.3h0M736.4 370.4h0M736.6 370.1h0M737 371.9h0M737.4 368.6h0M737.6 366.9h0M737.9 360.9h0M738.1 363.6h0M738.9 369h0M739.1 359.6h0M739.3 366.7h0M740.2 367.7h0M740.4 370.6h0M740.6 368.9h0" stroke="#ec8cec" stroke-width="2.9" stroke-linecap="round" fill="none"/>
<path d="M721.2 376.1h0M721.6 379.5h0M722 374.4h0M722.2 377.5h0M722.8 377.2h0M723.2 381.6h0M723.4 376.5h0M723.9 372.7h0M724.1 378.6h0M724.9 381.4h0M725.1 373.2h0M726.2 373.9h0M726.4 371.4h0M726.8 376.5h0M727.2 386.6h0M727.6 374.9h0M728.3 377.7h0M728.7 369.8h0M729.1 376.3h0M729.3 376.6h0M729.5 381.8h0M729.9 372.1h0M730.3 379.4h0M730.8 374h0M731.4 370.9h0M731.8 377.2h0M732 372.8h0M732.2 374.2h0M732.4 378.1h0M732.8 371.7h0M733.3 389.7h0M733.7 376h0M733.9 373.5h0M734.7 373.5h0M735.4 381.1h0M735.8 378.5h0M736 377.4h0M736.2 370h0M736.8 375.7h0M737.2 375.9h0M738.3 375.2h0M738.5 373.3h0M738.7 375.9h0M739.5 383h0M739.7 377.7h0M739.9 377.9h0" stroke="#2ddfe6" stroke-width="2.9" stroke-linecap="round" fill="none"/>
<path d="M652 377.9h0M652.5 372.7h0M652.7 373.1h0M652.9 364.8h0M653.1 368.8h0M653.3 367.8h0M653.5 372h0M653.7 371.3h0M653.9 366.8h0M654.1 369.3h0M654.3 371.7h0M654.5 380.2h0M654.8 378.9h0M655 373.9h0M655.2 372.9h0M655.4 379.5h0M655.6 376.7h0M655.8 376.8h0M656 374.8h0M656.2 373.7h0M656.4 376.3h0M656.6 380.4h0M656.8 369.9h0M657.1 368.4h0M657.7 377.7h0M658.3 384.1h0M658.9 384.8h0M660.2 381.8h0M660.6 384.3h0M660.8 379.4h0M661 380.2h0M662.1 380.2h0M663.1 380.7h0M663.5 379.1h0M664.8 376.9h0M666.2 381.3h0M666.9 380.9h0M667.1 383.4h0M667.7 384.8h0M669.6 378.2h0M669.8 380.6h0M670.2 380.4h0M670.4 381.8h0M670.8 384.5h0M672.1 383.2h0M673.1 382.2h0M673.5 384.9h0M674.2 379.9h0M675.6 383.6h0M677.1 381.8h0M679.8 381.1h0M680 383.3h0M680.4 379.3h0M680.9 383h0M681.1 380.8h0M681.3 382.4h0M682.1 379.3h0M682.5 379.8h0M682.9 377.4h0M683.4 378.5h0M685.9 385.5h0M686.5 379.2h0M686.7 384.8h0M687.1 375.3h0M687.7 376.2h0M688.6 374.1h0M688.8 378h0M689.2 383.3h0M689.8 383.4h0M690 383.8h0M690.3 382h0M691.3 379.7h0M691.7 381.8h0M692.1 382.9h0M692.8 379h0M693 381h0M693.6 381.9h0M694.2 383.2h0M694.6 382.8h0M696.7 381.8h0M697.3 383h0M697.6 380.7h0M698.6 381h0" stroke="#7f0a86" stroke-width="2.9" stroke-linecap="round" fill="none"/>
<defs><radialGradient id="gb" cx="0.5" cy="0.5" r="0.5" fx="0.32" fy="0.3"><stop offset="0" stop-color="#8080ff"/><stop offset="0.3" stop-color="#1a1aa0"/><stop offset="0.8" stop-color="#1a1aa0"/><stop offset="1" stop-color="#00004a"/></radialGradient><radialGradient id="gg" cx="0.5" cy="0.5" r="0.5" fx="0.32" fy="0.3"><stop offset="0" stop-color="#d0ffd0"/><stop offset="0.3" stop-color="#22ee22"/><stop offset="0.8" stop-color="#22ee22"/><stop offset="1" stop-color="#089008"/></radialGradient><radialGradient id="gr" cx="0.5" cy="0.5" r="0.5" fx="0.32" fy="0.3"><stop offset="0" stop-color="#ffc0c0"/><stop offset="0.3" stop-color="#f01414"/><stop offset="0.8" stop-color="#f01414"/><stop offset="1" stop-color="#8a0000"/></radialGradient><radialGradient id="gp" cx="0.5" cy="0.5" r="0.5" fx="0.32" fy="0.3"><stop offset="0" stop-color="#c878d0"/><stop offset="0.3" stop-color="#80108a"/><stop offset="0.8" stop-color="#80108a"/><stop offset="1" stop-color="#38003e"/></radialGradient><radialGradient id="gk" cx="0.5" cy="0.5" r="0.5" fx="0.32" fy="0.3"><stop offset="0" stop-color="#ffe0ff"/><stop offset="0.3" stop-color="#fa88fa"/><stop offset="0.8" stop-color="#fa88fa"/><stop offset="1" stop-color="#b858c0"/></radialGradient><radialGradient id="gc" cx="0.5" cy="0.5" r="0.5" fx="0.32" fy="0.3"><stop offset="0" stop-color="#d0ffff"/><stop offset="0.3" stop-color="#22ecf4"/><stop offset="0.8" stop-color="#22ecf4"/><stop offset="1" stop-color="#0aa0a8"/></radialGradient></defs>
<path d="M80.5 295.8L80.5 216.7M80.5 295.8L153.4 308.4M72.9 299.3L72.7 219.5M72.9 299.3L146.3 312.3M65.3 302.9L65 222.2M65.3 302.9L139.2 316.2M57.8 306.5L57.2 225M57.8 306.5L132.1 320M50.2 310.1L49.5 227.7M50.2 310.1L125 323.9M42.6 313.6L41.7 230.5M42.6 313.6L117.9 327.8M94.4 296L94.5 216.8M94.4 296L50.2 317.3M105.7 297.9L105.9 218.3M105.7 297.9L61.9 319.5M116.9 299.9L117.3 219.7M116.9 299.9L73.6 321.7M128.2 301.8L128.7 221.2M128.2 301.8L85.3 323.9M139.4 303.8L140.1 222.6M139.4 303.8L97 326.1M150.7 305.7L151.4 224.1M150.7 305.7L108.8 328.4M83.9 282.2L39.1 302.4M83.9 282.2L156.6 294.2M83.9 267.4L38.9 286.7M83.9 267.4L156.8 278.8M83.9 252.6L38.7 271M83.9 252.6L156.9 263.4M83.9 237.8L38.6 255.3M83.9 237.8L157.1 248M83.9 223L38.4 239.6M83.9 223L157.2 232.6" stroke="#d4d4d4" stroke-width="0.6" fill="none"/>
<path d="M39.2 315.2L83.9 294.2L156.5 306.7M83.9 294.2L83.9 215.5" stroke="#4a4a4a" stroke-width="1.1" fill="none"/>
<circle cx="107.7" cy="242.7" r="2" fill="url(#gb)"/><circle cx="102" cy="250.5" r="2" fill="url(#gb)"/><circle cx="96.3" cy="234.8" r="2" fill="url(#gb)"/><circle cx="120.9" cy="229" r="2" fill="url(#gb)"/><circle cx="68.4" cy="257.3" r="2" fill="url(#gb)"/><circle cx="106.8" cy="241.9" r="2" fill="url(#gb)"/><circle cx="91.9" cy="253.4" r="2" fill="url(#gb)"/><circle cx="97.9" cy="255.3" r="2" fill="url(#gb)"/><circle cx="111.4" cy="244.6" r="2" fill="url(#gb)"/><circle cx="87.9" cy="246.5" r="2" fill="url(#gb)"/><circle cx="84.6" cy="257.3" r="2" fill="url(#gb)"/><circle cx="95.1" cy="258.3" r="2" fill="url(#gb)"/><circle cx="90.7" cy="251.8" r="2" fill="url(#gb)"/><circle cx="94" cy="247.7" r="2" fill="url(#gb)"/><circle cx="93.9" cy="247.3" r="2" fill="url(#gb)"/><circle cx="114.8" cy="254.6" r="2" fill="url(#gb)"/><circle cx="78.5" cy="258.7" r="2" fill="url(#gb)"/><circle cx="102.4" cy="258" r="2" fill="url(#gb)"/><circle cx="105.3" cy="246" r="2" fill="url(#gb)"/><circle cx="74.5" cy="252.7" r="2" fill="url(#gb)"/><circle cx="84.3" cy="251" r="2" fill="url(#gb)"/><circle cx="114.8" cy="248.9" r="2" fill="url(#gb)"/><circle cx="94.3" cy="242" r="2" fill="url(#gb)"/><circle cx="86.8" cy="257.8" r="2" fill="url(#gb)"/><circle cx="121.7" cy="229" r="2" fill="url(#gb)"/><circle cx="110.8" cy="253.9" r="2" fill="url(#gb)"/><circle cx="102.7" cy="238.6" r="2" fill="url(#gb)"/><circle cx="95.9" cy="257.4" r="2" fill="url(#gb)"/><circle cx="103.4" cy="249.8" r="2" fill="url(#gb)"/><circle cx="86.2" cy="241.9" r="2" fill="url(#gb)"/><circle cx="100.2" cy="243.5" r="2" fill="url(#gb)"/><circle cx="95.1" cy="245.9" r="2" fill="url(#gb)"/><circle cx="85.9" cy="258.6" r="2" fill="url(#gb)"/><circle cx="102.9" cy="246" r="2" fill="url(#gb)"/><circle cx="75.2" cy="258.4" r="2" fill="url(#gb)"/><circle cx="98.5" cy="246.8" r="2" fill="url(#gb)"/><circle cx="121.7" cy="249.1" r="2" fill="url(#gb)"/><circle cx="89.3" cy="245.1" r="2" fill="url(#gb)"/><circle cx="79.4" cy="255.9" r="2" fill="url(#gb)"/><circle cx="97.4" cy="247.2" r="2" fill="url(#gb)"/><circle cx="79.7" cy="239.1" r="2" fill="url(#gb)"/><circle cx="73.1" cy="257.8" r="2" fill="url(#gb)"/><circle cx="72.8" cy="253.8" r="2" fill="url(#gb)"/><circle cx="115.4" cy="239.6" r="2" fill="url(#gb)"/><circle cx="85.1" cy="257.3" r="2" fill="url(#gb)"/><circle cx="94.7" cy="242.6" r="2" fill="url(#gb)"/><circle cx="95.7" cy="245.6" r="2" fill="url(#gb)"/><circle cx="89.1" cy="237.9" r="2" fill="url(#gb)"/><circle cx="95.3" cy="239.5" r="2" fill="url(#gb)"/><circle cx="94.1" cy="255.9" r="2" fill="url(#gb)"/><circle cx="105.2" cy="242.4" r="2" fill="url(#gb)"/><circle cx="95" cy="244.1" r="2" fill="url(#gb)"/><circle cx="91.3" cy="237.6" r="2" fill="url(#gb)"/><circle cx="93.1" cy="256.3" r="2" fill="url(#gb)"/><circle cx="78.2" cy="255.5" r="2" fill="url(#gb)"/><circle cx="84.2" cy="249.7" r="2" fill="url(#gb)"/><circle cx="101.9" cy="245" r="2" fill="url(#gb)"/><circle cx="101.2" cy="254.9" r="2" fill="url(#gb)"/><circle cx="77.5" cy="248" r="2" fill="url(#gb)"/><circle cx="108.8" cy="254.8" r="2" fill="url(#gb)"/><circle cx="87.5" cy="246.1" r="2" fill="url(#gb)"/><circle cx="113.3" cy="244.8" r="2" fill="url(#gb)"/><circle cx="88.2" cy="255.3" r="2" fill="url(#gb)"/><circle cx="110.3" cy="252.4" r="2" fill="url(#gb)"/><circle cx="88.8" cy="241.9" r="2" fill="url(#gb)"/><circle cx="85.6" cy="237.3" r="2" fill="url(#gb)"/><circle cx="84.9" cy="257.4" r="2" fill="url(#gb)"/><circle cx="84.6" cy="234.3" r="2" fill="url(#gb)"/><circle cx="113.4" cy="241.1" r="2" fill="url(#gb)"/><circle cx="101.3" cy="246.3" r="2" fill="url(#gb)"/><circle cx="104" cy="241.5" r="2" fill="url(#gb)"/><circle cx="105.7" cy="234.9" r="2" fill="url(#gb)"/><circle cx="103" cy="252.5" r="2" fill="url(#gb)"/><circle cx="102.3" cy="256" r="2" fill="url(#gb)"/><circle cx="122.2" cy="244.7" r="2" fill="url(#gb)"/><circle cx="85.6" cy="252.9" r="2" fill="url(#gb)"/><circle cx="96" cy="251.7" r="2" fill="url(#gb)"/><circle cx="117.8" cy="240.9" r="2" fill="url(#gb)"/><circle cx="89" cy="255.9" r="2" fill="url(#gb)"/><circle cx="109.3" cy="251.4" r="2" fill="url(#gb)"/><circle cx="85.4" cy="232.6" r="2" fill="url(#gb)"/><circle cx="121.7" cy="248.2" r="2" fill="url(#gb)"/><circle cx="87.2" cy="259.1" r="2" fill="url(#gb)"/><circle cx="96.8" cy="231.5" r="2" fill="url(#gb)"/><circle cx="76.4" cy="252.1" r="2" fill="url(#gb)"/><circle cx="91.2" cy="260.7" r="2" fill="url(#gb)"/><circle cx="103.6" cy="238.4" r="2" fill="url(#gb)"/><circle cx="105.3" cy="239.8" r="2" fill="url(#gb)"/><circle cx="97.6" cy="250.5" r="2" fill="url(#gb)"/><circle cx="94.3" cy="248.1" r="2" fill="url(#gb)"/><circle cx="82.8" cy="236.8" r="2" fill="url(#gb)"/><circle cx="88.7" cy="241.8" r="2" fill="url(#gb)"/><circle cx="107.1" cy="243.8" r="2" fill="url(#gb)"/><circle cx="82.3" cy="255.2" r="2" fill="url(#gb)"/><circle cx="95.1" cy="251.9" r="2" fill="url(#gb)"/><circle cx="96.4" cy="254.5" r="2" fill="url(#gb)"/><circle cx="99" cy="260.7" r="2" fill="url(#gb)"/><circle cx="93.3" cy="245.4" r="2" fill="url(#gb)"/><circle cx="92.2" cy="246.1" r="2" fill="url(#gb)"/><circle cx="93.6" cy="247.3" r="2" fill="url(#gb)"/><circle cx="123.8" cy="232.5" r="2" fill="url(#gb)"/><circle cx="74.6" cy="245.3" r="2" fill="url(#gb)"/><circle cx="76.8" cy="250.9" r="2" fill="url(#gb)"/><circle cx="103.6" cy="246.4" r="2" fill="url(#gb)"/><circle cx="100.5" cy="250.7" r="2" fill="url(#gb)"/><circle cx="97.7" cy="251.7" r="2" fill="url(#gb)"/><circle cx="98.7" cy="239.9" r="2" fill="url(#gb)"/><circle cx="99.7" cy="247.2" r="2" fill="url(#gb)"/><circle cx="111.6" cy="247.6" r="2" fill="url(#gb)"/><circle cx="79.6" cy="251.7" r="2" fill="url(#gb)"/><circle cx="93.6" cy="230.3" r="2" fill="url(#gb)"/><circle cx="104.2" cy="239.8" r="2" fill="url(#gb)"/><circle cx="101.6" cy="249" r="2" fill="url(#gb)"/><circle cx="94.8" cy="246.8" r="2" fill="url(#gb)"/><circle cx="78.4" cy="251.6" r="2" fill="url(#gb)"/><circle cx="116.8" cy="254.5" r="2" fill="url(#gb)"/><circle cx="86.9" cy="243.8" r="2" fill="url(#gb)"/><circle cx="72.7" cy="242.7" r="2" fill="url(#gb)"/><circle cx="110.2" cy="246.6" r="2" fill="url(#gb)"/><circle cx="106.8" cy="250.1" r="2" fill="url(#gb)"/><circle cx="99.8" cy="243" r="2" fill="url(#gb)"/><circle cx="97.3" cy="241.5" r="2" fill="url(#gb)"/><circle cx="85.3" cy="253.7" r="2" fill="url(#gb)"/><circle cx="96" cy="250.9" r="2" fill="url(#gb)"/><circle cx="96.9" cy="257.3" r="2" fill="url(#gb)"/><circle cx="110.2" cy="252.5" r="2" fill="url(#gb)"/><circle cx="95.1" cy="248.8" r="2" fill="url(#gb)"/><circle cx="122.2" cy="251" r="2" fill="url(#gb)"/><circle cx="93.3" cy="254.3" r="2" fill="url(#gb)"/><circle cx="107.7" cy="250.6" r="2" fill="url(#gb)"/><circle cx="104.2" cy="248.5" r="2" fill="url(#gb)"/><circle cx="118.5" cy="232.4" r="2" fill="url(#gb)"/><circle cx="98" cy="252.7" r="2" fill="url(#gb)"/><circle cx="97.6" cy="246.7" r="2" fill="url(#gb)"/><circle cx="70.7" cy="260.3" r="2" fill="url(#gb)"/><circle cx="101" cy="254.1" r="2" fill="url(#gb)"/><circle cx="104.1" cy="250.7" r="2" fill="url(#gb)"/><circle cx="90.9" cy="261.8" r="2" fill="url(#gb)"/><circle cx="92.5" cy="255.3" r="2" fill="url(#gb)"/><circle cx="115.1" cy="257.5" r="2" fill="url(#gb)"/><circle cx="98.2" cy="258.3" r="2" fill="url(#gb)"/><circle cx="96.6" cy="263.9" r="2" fill="url(#gb)"/><circle cx="98.1" cy="247" r="2" fill="url(#gb)"/><circle cx="81.7" cy="252.5" r="2" fill="url(#gb)"/><circle cx="97.1" cy="248.5" r="2" fill="url(#gb)"/><circle cx="89.8" cy="241.5" r="2" fill="url(#gb)"/><circle cx="79.1" cy="239.6" r="2" fill="url(#gb)"/><circle cx="86.5" cy="246.2" r="2" fill="url(#gb)"/><circle cx="88" cy="245.3" r="2" fill="url(#gb)"/><circle cx="101.3" cy="255.9" r="2" fill="url(#gb)"/><circle cx="118.4" cy="248.3" r="2" fill="url(#gb)"/><circle cx="102.1" cy="237.9" r="2" fill="url(#gb)"/><circle cx="77.6" cy="254.7" r="2" fill="url(#gb)"/><circle cx="75.9" cy="248.9" r="2" fill="url(#gb)"/><circle cx="91.8" cy="234.3" r="2" fill="url(#gb)"/><circle cx="97.4" cy="253.7" r="2" fill="url(#gb)"/><circle cx="107.9" cy="259.8" r="2" fill="url(#gb)"/><circle cx="88.7" cy="248.8" r="2" fill="url(#gb)"/><circle cx="91.9" cy="255.5" r="2" fill="url(#gb)"/><circle cx="89.6" cy="254.5" r="2" fill="url(#gb)"/><circle cx="103" cy="245.3" r="2" fill="url(#gb)"/><circle cx="73.6" cy="247.9" r="2" fill="url(#gb)"/><circle cx="82" cy="233" r="2" fill="url(#gb)"/><circle cx="97.9" cy="238.9" r="2" fill="url(#gb)"/><circle cx="101.3" cy="254.2" r="2" fill="url(#gb)"/><circle cx="102.2" cy="254.2" r="2" fill="url(#gb)"/><circle cx="112.6" cy="246.5" r="2" fill="url(#gb)"/><circle cx="90.5" cy="233" r="2" fill="url(#gb)"/><circle cx="93.6" cy="254.2" r="2" fill="url(#gb)"/><circle cx="97.7" cy="248.1" r="2" fill="url(#gb)"/><circle cx="108.6" cy="245.3" r="2" fill="url(#gb)"/><circle cx="87.2" cy="261.4" r="2" fill="url(#gb)"/><circle cx="110.6" cy="246.2" r="2" fill="url(#gb)"/><circle cx="87.8" cy="250.8" r="2" fill="url(#gb)"/><circle cx="110.6" cy="243.4" r="2" fill="url(#gb)"/><circle cx="99.6" cy="241.6" r="2" fill="url(#gb)"/><circle cx="88.2" cy="246.7" r="2" fill="url(#gb)"/><circle cx="110.8" cy="242.1" r="2" fill="url(#gb)"/><circle cx="102.8" cy="254.8" r="2" fill="url(#gb)"/><circle cx="80.2" cy="246.6" r="2" fill="url(#gb)"/><circle cx="91.8" cy="243.1" r="2" fill="url(#gb)"/><circle cx="121.6" cy="239.7" r="2" fill="url(#gb)"/><circle cx="110.9" cy="242.4" r="2" fill="url(#gb)"/><circle cx="89.3" cy="256" r="2" fill="url(#gb)"/><circle cx="77.8" cy="245.4" r="2" fill="url(#gb)"/><circle cx="104.6" cy="241.1" r="2" fill="url(#gb)"/><circle cx="101.1" cy="242.2" r="2" fill="url(#gb)"/><circle cx="96.9" cy="244.6" r="2" fill="url(#gb)"/><circle cx="114" cy="257.2" r="2" fill="url(#gb)"/><circle cx="97" cy="259.4" r="2" fill="url(#gb)"/><circle cx="104.4" cy="252.9" r="2" fill="url(#gb)"/><circle cx="84" cy="254" r="2" fill="url(#gb)"/><circle cx="91.2" cy="246.7" r="2" fill="url(#gb)"/><circle cx="124.9" cy="231.6" r="2" fill="url(#gb)"/><circle cx="87.5" cy="251.1" r="2" fill="url(#gb)"/><circle cx="115.9" cy="275.5" r="2" fill="url(#gr)"/><circle cx="109.9" cy="264.6" r="2" fill="url(#gr)"/><circle cx="106.8" cy="272.3" r="2" fill="url(#gr)"/><circle cx="112.9" cy="275.9" r="2" fill="url(#gr)"/><circle cx="115" cy="270.5" r="2" fill="url(#gr)"/><circle cx="106.4" cy="276.6" r="2" fill="url(#gr)"/><circle cx="109.4" cy="269.4" r="2" fill="url(#gr)"/><circle cx="105.4" cy="271.4" r="2" fill="url(#gr)"/><circle cx="108.1" cy="276.2" r="2" fill="url(#gr)"/><circle cx="118.5" cy="275.3" r="2" fill="url(#gr)"/><circle cx="117.7" cy="272.5" r="2" fill="url(#gr)"/><circle cx="130.6" cy="269.1" r="2" fill="url(#gr)"/><circle cx="115.2" cy="276.2" r="2" fill="url(#gr)"/><circle cx="111.2" cy="274.6" r="2" fill="url(#gr)"/><circle cx="96.6" cy="274.9" r="2" fill="url(#gr)"/><circle cx="98.4" cy="276.8" r="2" fill="url(#gr)"/><circle cx="111.3" cy="273.1" r="2" fill="url(#gr)"/><circle cx="109.5" cy="270.9" r="2" fill="url(#gr)"/><circle cx="121.5" cy="273.7" r="2" fill="url(#gr)"/><circle cx="103.4" cy="267.6" r="2" fill="url(#gr)"/><circle cx="128.6" cy="275.5" r="2" fill="url(#gr)"/><circle cx="108.4" cy="276.5" r="2" fill="url(#gr)"/><circle cx="107.1" cy="272.8" r="2" fill="url(#gr)"/><circle cx="103.8" cy="272.1" r="2" fill="url(#gr)"/><circle cx="115.9" cy="270.8" r="2" fill="url(#gr)"/><circle cx="108.2" cy="274.3" r="2" fill="url(#gr)"/><circle cx="127.4" cy="276.5" r="2" fill="url(#gr)"/><circle cx="107.7" cy="268.3" r="2" fill="url(#gr)"/><circle cx="63.1" cy="286.5" r="2" fill="url(#gg)"/><circle cx="127.9" cy="258.5" r="2" fill="url(#gg)"/><circle cx="60.2" cy="284" r="2" fill="url(#gg)"/><circle cx="91.3" cy="271.7" r="2" fill="url(#gg)"/><circle cx="71.8" cy="283.2" r="2" fill="url(#gg)"/><circle cx="76.9" cy="278.5" r="2" fill="url(#gg)"/><circle cx="91.9" cy="274.9" r="2" fill="url(#gg)"/><circle cx="71.4" cy="279" r="2" fill="url(#gg)"/><circle cx="101.5" cy="273.5" r="2" fill="url(#gg)"/><circle cx="104" cy="266.3" r="2" fill="url(#gg)"/><circle cx="114.9" cy="267.9" r="2" fill="url(#gg)"/><circle cx="96.6" cy="269.1" r="2" fill="url(#gg)"/><circle cx="121.8" cy="263.4" r="2" fill="url(#gg)"/><circle cx="135.7" cy="253.1" r="2" fill="url(#gg)"/><circle cx="125.3" cy="257.9" r="2" fill="url(#gg)"/><circle cx="98.1" cy="270.9" r="2" fill="url(#gg)"/><circle cx="103.9" cy="270.2" r="2" fill="url(#gg)"/><circle cx="107.9" cy="270.3" r="2" fill="url(#gg)"/><circle cx="114.9" cy="263.5" r="2" fill="url(#gg)"/><circle cx="62.8" cy="284.7" r="2" fill="url(#gg)"/><circle cx="101.6" cy="268.1" r="2" fill="url(#gg)"/><circle cx="81.6" cy="286.1" r="2" fill="url(#gg)"/><circle cx="79.8" cy="280.6" r="2" fill="url(#gg)"/><circle cx="122.8" cy="260.7" r="2" fill="url(#gg)"/><circle cx="136.3" cy="258.8" r="2" fill="url(#gg)"/><circle cx="79.9" cy="281.2" r="2" fill="url(#gg)"/><circle cx="66.1" cy="294.4" r="2" fill="url(#gg)"/><circle cx="118.5" cy="264.8" r="2" fill="url(#gg)"/><circle cx="67.3" cy="290.5" r="2" fill="url(#gg)"/><circle cx="135.2" cy="255.8" r="2" fill="url(#gg)"/><circle cx="136.3" cy="253.7" r="2" fill="url(#gg)"/><circle cx="90.6" cy="272" r="2" fill="url(#gg)"/><circle cx="103.7" cy="268.7" r="2" fill="url(#gg)"/><circle cx="120.6" cy="259.6" r="2" fill="url(#gg)"/><circle cx="99" cy="270.9" r="2" fill="url(#gg)"/><circle cx="107" cy="271.9" r="2" fill="url(#gg)"/><circle cx="119" cy="258.7" r="2" fill="url(#gg)"/><circle cx="98.7" cy="271.3" r="2" fill="url(#gg)"/><circle cx="108.5" cy="267.5" r="2" fill="url(#gg)"/><circle cx="92.3" cy="269.7" r="2" fill="url(#gg)"/><circle cx="95.4" cy="272.2" r="2" fill="url(#gg)"/><circle cx="101.4" cy="268.1" r="2" fill="url(#gg)"/><circle cx="103.1" cy="267.8" r="2" fill="url(#gg)"/><circle cx="114.8" cy="266.8" r="2" fill="url(#gg)"/><circle cx="133.4" cy="261.1" r="2" fill="url(#gg)"/><circle cx="111.2" cy="267.6" r="2" fill="url(#gg)"/><circle cx="115.5" cy="264" r="2" fill="url(#gg)"/><circle cx="86.5" cy="270.6" r="2" fill="url(#gg)"/><circle cx="73.9" cy="283.6" r="2" fill="url(#gg)"/><circle cx="118.6" cy="260.7" r="2" fill="url(#gg)"/><circle cx="94.1" cy="273.5" r="2" fill="url(#gg)"/><circle cx="70.8" cy="281" r="2" fill="url(#gg)"/><circle cx="116.1" cy="267.7" r="2" fill="url(#gg)"/><circle cx="82.3" cy="278.8" r="2" fill="url(#gg)"/><circle cx="134.5" cy="249.1" r="2" fill="url(#gg)"/><circle cx="82.9" cy="280.1" r="2" fill="url(#gg)"/><circle cx="94.4" cy="278.3" r="2" fill="url(#gg)"/><circle cx="92.4" cy="274.3" r="2" fill="url(#gg)"/><circle cx="95.9" cy="276.5" r="2" fill="url(#gg)"/><circle cx="79.3" cy="280.9" r="2" fill="url(#gg)"/><circle cx="62.6" cy="283.2" r="2" fill="url(#gg)"/><circle cx="104.7" cy="272" r="2" fill="url(#gg)"/><circle cx="94.1" cy="270.7" r="2" fill="url(#gg)"/><circle cx="81.7" cy="275.2" r="2" fill="url(#gg)"/><circle cx="99.8" cy="271.2" r="2" fill="url(#gg)"/><circle cx="83.3" cy="275.2" r="2" fill="url(#gg)"/><circle cx="135.7" cy="258.7" r="2" fill="url(#gg)"/><circle cx="111.3" cy="263.8" r="2" fill="url(#gg)"/><circle cx="63.4" cy="290.5" r="2" fill="url(#gg)"/><circle cx="62" cy="294.3" r="2" fill="url(#gg)"/><circle cx="135.1" cy="253.1" r="2" fill="url(#gg)"/><circle cx="112.4" cy="270.3" r="2" fill="url(#gg)"/><circle cx="61.6" cy="283.5" r="2" fill="url(#gg)"/><circle cx="69.3" cy="284.5" r="2" fill="url(#gg)"/><circle cx="85.5" cy="282.7" r="2" fill="url(#gg)"/><circle cx="68.1" cy="280.5" r="2" fill="url(#gg)"/><circle cx="112.2" cy="276" r="2" fill="url(#gg)"/><circle cx="61.4" cy="283.7" r="2" fill="url(#gg)"/><circle cx="86.1" cy="276.9" r="2" fill="url(#gg)"/><circle cx="102.4" cy="274.8" r="2" fill="url(#gg)"/><circle cx="97.4" cy="273.1" r="2" fill="url(#gg)"/><circle cx="64.1" cy="288.7" r="2" fill="url(#gg)"/><circle cx="99.8" cy="272.9" r="2" fill="url(#gg)"/><circle cx="74.8" cy="277.6" r="2" fill="url(#gg)"/><circle cx="64.1" cy="284.6" r="2" fill="url(#gg)"/><circle cx="102.3" cy="273.2" r="2" fill="url(#gg)"/><circle cx="118.8" cy="261.2" r="2" fill="url(#gg)"/><circle cx="61.6" cy="284.9" r="2" fill="url(#gg)"/><circle cx="81.1" cy="277.1" r="2" fill="url(#gg)"/><circle cx="114.2" cy="259.3" r="2" fill="url(#gg)"/><circle cx="108" cy="264.1" r="2" fill="url(#gg)"/><circle cx="98.2" cy="266.1" r="2" fill="url(#gg)"/><circle cx="111.1" cy="265.1" r="2" fill="url(#gg)"/><circle cx="88.2" cy="277.6" r="2" fill="url(#gg)"/><circle cx="62.4" cy="287" r="2" fill="url(#gg)"/><circle cx="68.3" cy="287.4" r="2" fill="url(#gg)"/><circle cx="117" cy="258.5" r="2" fill="url(#gg)"/><circle cx="94.5" cy="272.2" r="2" fill="url(#gg)"/><circle cx="119.1" cy="263.8" r="2" fill="url(#gg)"/><circle cx="106.5" cy="273.7" r="2" fill="url(#gg)"/><circle cx="115.7" cy="263.4" r="2" fill="url(#gg)"/><circle cx="128" cy="257.8" r="2" fill="url(#gg)"/><circle cx="84.2" cy="273.3" r="2" fill="url(#gg)"/><circle cx="108.1" cy="268.1" r="2" fill="url(#gg)"/><circle cx="123.1" cy="261.8" r="2" fill="url(#gg)"/><circle cx="100.8" cy="275.5" r="2" fill="url(#gg)"/><circle cx="118.1" cy="260.8" r="2" fill="url(#gg)"/><circle cx="81.7" cy="278.9" r="2" fill="url(#gg)"/><circle cx="108.6" cy="267.2" r="2" fill="url(#gg)"/><circle cx="104.3" cy="267" r="2" fill="url(#gg)"/><circle cx="70.1" cy="285.9" r="2" fill="url(#gg)"/><circle cx="97.9" cy="275.2" r="2" fill="url(#gg)"/><circle cx="112.1" cy="271.6" r="2" fill="url(#gg)"/><circle cx="77.3" cy="279" r="2" fill="url(#gg)"/><circle cx="109.9" cy="255.8" r="2" fill="url(#gg)"/><circle cx="100.6" cy="267.5" r="2" fill="url(#gg)"/><circle cx="87.1" cy="280.2" r="2" fill="url(#gg)"/><circle cx="111.8" cy="268.4" r="2" fill="url(#gg)"/><circle cx="106" cy="270.3" r="2" fill="url(#gg)"/><circle cx="77" cy="278.4" r="2" fill="url(#gg)"/><circle cx="96.8" cy="273" r="2" fill="url(#gg)"/><circle cx="117.1" cy="258.8" r="2" fill="url(#gg)"/><circle cx="124.8" cy="257.4" r="2" fill="url(#gg)"/><circle cx="66.1" cy="281.4" r="2" fill="url(#gg)"/><circle cx="61.9" cy="287.3" r="2" fill="url(#gg)"/><circle cx="114" cy="263.5" r="2" fill="url(#gg)"/><circle cx="68.9" cy="281" r="2" fill="url(#gg)"/><circle cx="108.7" cy="268.6" r="2" fill="url(#gg)"/><circle cx="80.1" cy="280.1" r="2" fill="url(#gg)"/><circle cx="70.7" cy="277.2" r="2" fill="url(#gg)"/><circle cx="90.4" cy="272.5" r="2" fill="url(#gg)"/><circle cx="71" cy="283.8" r="2" fill="url(#gg)"/><circle cx="103.4" cy="274.3" r="2" fill="url(#gg)"/><circle cx="102.1" cy="270.2" r="2" fill="url(#gg)"/><circle cx="132.2" cy="259.7" r="2" fill="url(#gg)"/><circle cx="77.8" cy="283.2" r="2" fill="url(#gg)"/><circle cx="61.3" cy="282.1" r="2" fill="url(#gg)"/><circle cx="96.6" cy="274.3" r="2" fill="url(#gg)"/><circle cx="137.6" cy="260.3" r="2" fill="url(#gg)"/><circle cx="63.7" cy="283.4" r="2" fill="url(#gg)"/><circle cx="91.5" cy="268.8" r="2" fill="url(#gg)"/><circle cx="95.8" cy="265.7" r="2" fill="url(#gg)"/><circle cx="89.3" cy="268.9" r="2" fill="url(#gg)"/><circle cx="59.7" cy="287.1" r="2" fill="url(#gg)"/><circle cx="76.7" cy="283.5" r="2" fill="url(#gg)"/><circle cx="74.6" cy="281.5" r="2" fill="url(#gg)"/><circle cx="103.4" cy="270" r="2" fill="url(#gg)"/><circle cx="128.1" cy="256.6" r="2" fill="url(#gg)"/><circle cx="105.5" cy="268" r="2" fill="url(#gg)"/><circle cx="128.7" cy="257.3" r="2" fill="url(#gg)"/><circle cx="132.9" cy="255.1" r="2" fill="url(#gg)"/><circle cx="64.6" cy="285" r="2" fill="url(#gg)"/><circle cx="95.6" cy="271.6" r="2" fill="url(#gg)"/><circle cx="93.9" cy="269.8" r="2" fill="url(#gg)"/><circle cx="99.1" cy="273" r="2" fill="url(#gg)"/><circle cx="82" cy="275.2" r="2" fill="url(#gg)"/><circle cx="94.3" cy="275.7" r="2" fill="url(#gg)"/><circle cx="81.1" cy="283.8" r="2" fill="url(#gg)"/><circle cx="96.3" cy="271.2" r="2" fill="url(#gg)"/><circle cx="92.3" cy="268.8" r="2" fill="url(#gg)"/><circle cx="99.5" cy="267" r="2" fill="url(#gg)"/><circle cx="96" cy="273.4" r="2" fill="url(#gg)"/><circle cx="91.7" cy="277.7" r="2" fill="url(#gg)"/><circle cx="114.2" cy="264.6" r="2" fill="url(#gg)"/><circle cx="76" cy="282.6" r="2" fill="url(#gg)"/><circle cx="90.6" cy="278.5" r="2" fill="url(#gg)"/><circle cx="110.6" cy="269.5" r="2" fill="url(#gg)"/><circle cx="96.8" cy="268.9" r="2" fill="url(#gg)"/><circle cx="88.6" cy="274.1" r="2" fill="url(#gg)"/><circle cx="70.7" cy="284.6" r="2" fill="url(#gg)"/><circle cx="91.1" cy="274.8" r="2" fill="url(#gg)"/><circle cx="104.9" cy="268.6" r="2" fill="url(#gg)"/><circle cx="106.7" cy="272.2" r="2" fill="url(#gg)"/><circle cx="114.1" cy="269.7" r="2" fill="url(#gg)"/><circle cx="112.6" cy="268.9" r="2" fill="url(#gg)"/><circle cx="74.4" cy="281.2" r="2" fill="url(#gg)"/><circle cx="130.4" cy="254.7" r="2" fill="url(#gg)"/><circle cx="112.9" cy="266" r="2" fill="url(#gg)"/><circle cx="134.1" cy="257.4" r="2" fill="url(#gg)"/><circle cx="113.7" cy="260.6" r="2" fill="url(#gg)"/><circle cx="71.3" cy="285" r="2" fill="url(#gg)"/><circle cx="96.8" cy="270.7" r="2" fill="url(#gg)"/><circle cx="96.3" cy="270.9" r="2" fill="url(#gg)"/><circle cx="89.6" cy="273.3" r="2" fill="url(#gg)"/><circle cx="76.7" cy="282.3" r="2" fill="url(#gg)"/><circle cx="121" cy="260.6" r="2" fill="url(#gg)"/><circle cx="90.2" cy="274.4" r="2" fill="url(#gg)"/><circle cx="89.6" cy="278.7" r="2" fill="url(#gg)"/><circle cx="92.4" cy="276.6" r="2" fill="url(#gg)"/><circle cx="136.2" cy="257.4" r="2" fill="url(#gg)"/><circle cx="111" cy="260.8" r="2" fill="url(#gg)"/><circle cx="126" cy="254.5" r="2" fill="url(#gg)"/><circle cx="101" cy="263.7" r="2" fill="url(#gg)"/><circle cx="107.4" cy="263.5" r="2" fill="url(#gg)"/><circle cx="84" cy="278.3" r="2" fill="url(#gg)"/><circle cx="77.1" cy="276.1" r="2" fill="url(#gg)"/><circle cx="125" cy="259.4" r="2" fill="url(#gg)"/><circle cx="96.5" cy="271.3" r="2" fill="url(#gg)"/><circle cx="117.2" cy="260.6" r="2" fill="url(#gg)"/><circle cx="93.9" cy="269.9" r="2" fill="url(#gg)"/><circle cx="70.1" cy="285.4" r="2" fill="url(#gg)"/><circle cx="88.1" cy="275" r="2" fill="url(#gg)"/><circle cx="89.1" cy="277.9" r="2" fill="url(#gg)"/><circle cx="95.7" cy="274.8" r="2" fill="url(#gg)"/><circle cx="72.4" cy="282.6" r="2" fill="url(#gg)"/><circle cx="130.8" cy="255" r="2" fill="url(#gg)"/><circle cx="81.5" cy="280.9" r="2" fill="url(#gg)"/><circle cx="73.7" cy="280.3" r="2" fill="url(#gg)"/><circle cx="83.8" cy="272.3" r="2" fill="url(#gg)"/><circle cx="104.4" cy="268.3" r="2" fill="url(#gg)"/><circle cx="91.6" cy="278.7" r="2" fill="url(#gg)"/><circle cx="62.6" cy="289.6" r="2" fill="url(#gg)"/><circle cx="94.7" cy="268.9" r="2" fill="url(#gg)"/><circle cx="106.6" cy="273" r="2" fill="url(#gg)"/><circle cx="92.9" cy="277" r="2" fill="url(#gg)"/><circle cx="92.3" cy="274.7" r="2" fill="url(#gg)"/><circle cx="89.4" cy="277.7" r="2" fill="url(#gg)"/><circle cx="119.7" cy="263.6" r="2" fill="url(#gg)"/><circle cx="86.3" cy="276.5" r="2" fill="url(#gg)"/><circle cx="121.4" cy="261.1" r="2" fill="url(#gg)"/><circle cx="113.8" cy="260.2" r="2" fill="url(#gg)"/><circle cx="87.8" cy="271.9" r="2" fill="url(#gg)"/><circle cx="77.6" cy="287.6" r="2" fill="url(#gg)"/><circle cx="108" cy="270.4" r="2" fill="url(#gg)"/><circle cx="89.8" cy="277.6" r="2" fill="url(#gg)"/><circle cx="94.3" cy="275.7" r="2" fill="url(#gg)"/><circle cx="119.4" cy="267.4" r="2" fill="url(#gg)"/><circle cx="100.4" cy="263" r="2" fill="url(#gg)"/><circle cx="122" cy="257.4" r="2" fill="url(#gg)"/><circle cx="107.1" cy="270.3" r="2" fill="url(#gg)"/><circle cx="96" cy="268.2" r="2" fill="url(#gg)"/><circle cx="100.3" cy="267.9" r="2" fill="url(#gg)"/><circle cx="126.5" cy="261" r="2" fill="url(#gg)"/><circle cx="65.7" cy="291.4" r="2" fill="url(#gg)"/><circle cx="107.2" cy="267.9" r="2" fill="url(#gg)"/><circle cx="99.6" cy="271.3" r="2" fill="url(#gg)"/><circle cx="128.9" cy="248.4" r="2" fill="url(#gg)"/><circle cx="119" cy="257.8" r="2" fill="url(#gg)"/><circle cx="118.4" cy="259.8" r="2" fill="url(#gg)"/><circle cx="94.3" cy="273.1" r="2" fill="url(#gg)"/><circle cx="90" cy="280.3" r="2" fill="url(#gg)"/><circle cx="106.8" cy="268.9" r="2" fill="url(#gg)"/><circle cx="61.1" cy="291.3" r="2" fill="url(#gg)"/><circle cx="94" cy="277.3" r="2" fill="url(#gg)"/><circle cx="107.9" cy="268.1" r="2" fill="url(#gg)"/><circle cx="86.2" cy="279.3" r="2" fill="url(#gg)"/><circle cx="92.8" cy="272" r="2" fill="url(#gg)"/><circle cx="98" cy="271.8" r="2" fill="url(#gg)"/><circle cx="89.4" cy="278.2" r="2" fill="url(#gg)"/><circle cx="74.1" cy="282.1" r="2" fill="url(#gg)"/><circle cx="121.9" cy="286.8" r="2" fill="url(#gr)"/><circle cx="98.8" cy="289.4" r="2" fill="url(#gr)"/><circle cx="131.3" cy="280.6" r="2" fill="url(#gr)"/><circle cx="105.3" cy="293.7" r="2" fill="url(#gr)"/><circle cx="104" cy="288.6" r="2" fill="url(#gr)"/><circle cx="103.2" cy="280.9" r="2" fill="url(#gr)"/><circle cx="101.4" cy="285.5" r="2" fill="url(#gr)"/><circle cx="108.3" cy="279" r="2" fill="url(#gr)"/><circle cx="105.7" cy="287.4" r="2" fill="url(#gr)"/><circle cx="99.2" cy="285.1" r="2" fill="url(#gr)"/><circle cx="114.9" cy="287.5" r="2" fill="url(#gr)"/><circle cx="118" cy="281.6" r="2" fill="url(#gr)"/><circle cx="101.8" cy="291.7" r="2" fill="url(#gr)"/><circle cx="103.4" cy="297.9" r="2" fill="url(#gr)"/><circle cx="113.9" cy="286.2" r="2" fill="url(#gr)"/><circle cx="118.1" cy="284.2" r="2" fill="url(#gr)"/><circle cx="117.7" cy="286.4" r="2" fill="url(#gr)"/><circle cx="116.1" cy="279.7" r="2" fill="url(#gr)"/><circle cx="88.2" cy="285.4" r="2" fill="url(#gr)"/><circle cx="108.5" cy="285.2" r="2" fill="url(#gr)"/><circle cx="112.5" cy="284.2" r="2" fill="url(#gr)"/><circle cx="114.2" cy="284.4" r="2" fill="url(#gr)"/><circle cx="118.4" cy="284.7" r="2" fill="url(#gr)"/><circle cx="110.7" cy="284.2" r="2" fill="url(#gr)"/><circle cx="107.6" cy="286.9" r="2" fill="url(#gr)"/><circle cx="112.9" cy="278.4" r="2" fill="url(#gr)"/><circle cx="103.5" cy="280.4" r="2" fill="url(#gr)"/><circle cx="106.5" cy="287.3" r="2" fill="url(#gr)"/><circle cx="111.8" cy="285.2" r="2" fill="url(#gr)"/><circle cx="99" cy="291.9" r="2" fill="url(#gr)"/><circle cx="95.1" cy="291.8" r="2" fill="url(#gr)"/><circle cx="105.5" cy="287.4" r="2" fill="url(#gr)"/><circle cx="100" cy="285.7" r="2" fill="url(#gr)"/><circle cx="96.7" cy="283.8" r="2" fill="url(#gr)"/><circle cx="105.4" cy="288.9" r="2" fill="url(#gr)"/><circle cx="123.8" cy="283" r="2" fill="url(#gr)"/><circle cx="100.3" cy="282.2" r="2" fill="url(#gr)"/><circle cx="88.3" cy="280.9" r="2" fill="url(#gr)"/><circle cx="111.5" cy="292.3" r="2" fill="url(#gr)"/><circle cx="116.6" cy="290.2" r="2" fill="url(#gr)"/><circle cx="111.4" cy="280" r="2" fill="url(#gr)"/><circle cx="110.7" cy="295.1" r="2" fill="url(#gr)"/><circle cx="111.8" cy="284" r="2" fill="url(#gr)"/><circle cx="98.8" cy="290.8" r="2" fill="url(#gr)"/><circle cx="120.2" cy="297.5" r="2" fill="url(#gr)"/><circle cx="106.7" cy="293.9" r="2" fill="url(#gr)"/><circle cx="106.7" cy="288.8" r="2" fill="url(#gr)"/><circle cx="95.3" cy="292.7" r="2" fill="url(#gr)"/><circle cx="101.1" cy="282.9" r="2" fill="url(#gr)"/><circle cx="100.9" cy="281.2" r="2" fill="url(#gr)"/><circle cx="118.3" cy="290.1" r="2" fill="url(#gr)"/><circle cx="125.6" cy="280.1" r="2" fill="url(#gr)"/><circle cx="101.1" cy="299.7" r="2" fill="url(#gr)"/><circle cx="95.9" cy="284" r="2" fill="url(#gr)"/><circle cx="121.2" cy="281.6" r="2" fill="url(#gr)"/><circle cx="114.1" cy="280.5" r="2" fill="url(#gr)"/><circle cx="104.3" cy="286.9" r="2" fill="url(#gr)"/><circle cx="111.9" cy="280.8" r="2" fill="url(#gr)"/><circle cx="112.8" cy="281.8" r="2" fill="url(#gr)"/><circle cx="100.4" cy="279.1" r="2" fill="url(#gr)"/><circle cx="121.4" cy="279.4" r="2" fill="url(#gr)"/><circle cx="122.1" cy="289.6" r="2" fill="url(#gr)"/><circle cx="99.3" cy="286" r="2" fill="url(#gr)"/><circle cx="96.6" cy="281.6" r="2" fill="url(#gr)"/><circle cx="104" cy="297.3" r="2" fill="url(#gr)"/><circle cx="91.9" cy="297" r="2" fill="url(#gr)"/><circle cx="118" cy="284.9" r="2" fill="url(#gr)"/><circle cx="97.7" cy="282.6" r="2" fill="url(#gr)"/><circle cx="98.5" cy="286.5" r="2" fill="url(#gr)"/><circle cx="105.6" cy="284.6" r="2" fill="url(#gr)"/><circle cx="111.6" cy="300.6" r="2" fill="url(#gr)"/><circle cx="110.3" cy="289.8" r="2" fill="url(#gr)"/><circle cx="112.1" cy="277.1" r="2" fill="url(#gr)"/><circle cx="107" cy="278.5" r="2" fill="url(#gr)"/><circle cx="124.6" cy="281.8" r="2" fill="url(#gr)"/><circle cx="113.9" cy="291.7" r="2" fill="url(#gr)"/><circle cx="116.4" cy="286.2" r="2" fill="url(#gr)"/><circle cx="102.1" cy="293.2" r="2" fill="url(#gr)"/><circle cx="98.1" cy="282.3" r="2" fill="url(#gr)"/><circle cx="103.7" cy="282.6" r="2" fill="url(#gr)"/><circle cx="105.9" cy="277.3" r="2" fill="url(#gr)"/><circle cx="108.5" cy="282.8" r="2" fill="url(#gr)"/><circle cx="112.4" cy="280.2" r="2" fill="url(#gr)"/><circle cx="90.4" cy="287.3" r="2" fill="url(#gr)"/><circle cx="123.6" cy="286.7" r="2" fill="url(#gr)"/><circle cx="112.3" cy="291" r="2" fill="url(#gr)"/><circle cx="107.8" cy="293.3" r="2" fill="url(#gr)"/><circle cx="101.6" cy="291.2" r="2" fill="url(#gr)"/><circle cx="100.8" cy="301" r="2" fill="url(#gr)"/><circle cx="106.8" cy="296.6" r="2" fill="url(#gr)"/><circle cx="111.3" cy="292.1" r="2" fill="url(#gr)"/><circle cx="97.6" cy="286.1" r="2" fill="url(#gr)"/><circle cx="102.1" cy="283" r="2" fill="url(#gr)"/><circle cx="114.4" cy="285.1" r="2" fill="url(#gr)"/><circle cx="111.9" cy="281" r="2" fill="url(#gr)"/><circle cx="116.8" cy="289.5" r="2" fill="url(#gr)"/><circle cx="102.6" cy="278.8" r="2" fill="url(#gr)"/>
<path d="M83.9 294.2L83.9 215.5" stroke="#555" stroke-width="1" fill="none" opacity="0.7"/>
<path d="M39.2 315.2L38.3 231.7L83.9 215.5L157.3 224.8L156.5 306.7L114.8 329.5Z" stroke="#111" stroke-width="1.6" fill="none" stroke-linejoin="miter"/>
<text transform="translate(25.4 282.2) rotate(-90) skewX(-8) scale(1.18 0.82)" font-size="13" text-anchor="middle" style="fill:#333;stroke:none">PC3</text>
<path d="M36 241h2.6M36 257.5h2.6M36 274h2.6M36 290.5h2.6M36 306.9h2.6" stroke="#333" stroke-width="0.8" fill="none"/>
<text transform="translate(35.5 245.9) skewX(-10) scale(0.55 1)" font-size="11" text-anchor="end" style="fill:#555;stroke:none">2</text>
<text transform="translate(35.5 262.3) skewX(-10) scale(0.55 1)" font-size="11" text-anchor="end" style="fill:#555;stroke:none">1</text>
<text transform="translate(35.5 278.3) skewX(-10) scale(0.55 1)" font-size="11" text-anchor="end" style="fill:#555;stroke:none">0</text>
<text transform="translate(35.5 294.3) skewX(-10) scale(0.55 1)" font-size="11" text-anchor="end" style="fill:#555;stroke:none">-1</text>
<text transform="translate(35.5 311.3) skewX(-10) scale(0.55 1)" font-size="11" text-anchor="end" style="fill:#555;stroke:none">-2</text>
<text transform="matrix(0.983 0.186 -0.9 0.4 42.5 332.5)" font-size="13" style="fill:#444;stroke:none">PC1</text>
<text transform="matrix(0.877 -0.48 0.9 0.2 157 331)" font-size="12.5" style="fill:#444;stroke:none">PC2</text>
<path d="M118.1 327.7l1.4 2.5M125.2 323.8l1.4 2.5M132.3 319.9l1.4 2.5M139.4 316l1.4 2.5M146.5 312.2l1.4 2.5M153.6 308.3l1.4 2.5M40.7 315.5l-0.8 2.5M52.4 317.7l-0.8 2.5M64.1 319.9l-0.8 2.5M75.9 322.1l-0.8 2.5M87.6 324.4l-0.8 2.5M99.3 326.6l-0.8 2.5M111 328.8l-0.8 2.5" stroke="#222" stroke-width="0.9" fill="none"/>
<text transform="translate(34.5 318.6) rotate(-70)" font-size="7" text-anchor="middle" style="fill:#666;stroke:none">3</text>
<text transform="translate(46.1 320.8) rotate(-70)" font-size="7" text-anchor="middle" style="fill:#666;stroke:none">2</text>
<text transform="translate(57.7 322.9) rotate(-70)" font-size="7" text-anchor="middle" style="fill:#666;stroke:none">1</text>
<text transform="translate(69.3 325.1) rotate(-70)" font-size="7" text-anchor="middle" style="fill:#666;stroke:none">0</text>
<text transform="translate(80.9 327.2) rotate(-70)" font-size="7" text-anchor="middle" style="fill:#666;stroke:none">1</text>
<text transform="translate(92.5 329.4) rotate(-70)" font-size="7" text-anchor="middle" style="fill:#666;stroke:none">2</text>
<text transform="translate(104.1 331.5) rotate(-70)" font-size="7" text-anchor="middle" style="fill:#666;stroke:none">3</text>
<text transform="translate(127.5 331) rotate(-60)" font-size="6.5" text-anchor="middle" style="fill:#666;stroke:none">-3</text>
<text transform="translate(134 327) rotate(-60)" font-size="6.5" text-anchor="middle" style="fill:#666;stroke:none">-2</text>
<text transform="translate(140.5 323) rotate(-60)" font-size="6.5" text-anchor="middle" style="fill:#666;stroke:none">-1</text>
<text transform="translate(147 319) rotate(-60)" font-size="6.5" text-anchor="middle" style="fill:#666;stroke:none">0</text>
<text transform="translate(153.5 315) rotate(-60)" font-size="6.5" text-anchor="middle" style="fill:#666;stroke:none">1</text>
<text transform="translate(160 311) rotate(-60)" font-size="6.5" text-anchor="middle" style="fill:#666;stroke:none">2</text>
<text transform="translate(126.7 211.6) scale(0.815 1)" font-size="12">k-means</text>
<path d="M468 295.8L468 216.7M468 295.8L540.9 308.4M460.4 299.3L460.2 219.5M460.4 299.3L533.8 312.3M452.8 302.9L452.5 222.2M452.8 302.9L526.7 316.2M445.3 306.5L444.7 225M445.3 306.5L519.6 320M437.7 310.1L437 227.7M437.7 310.1L512.5 323.9M430.1 313.6L429.2 230.5M430.1 313.6L505.4 327.8M481.9 296L482 216.8M481.9 296L437.7 317.3M493.2 297.9L493.4 218.3M493.2 297.9L449.4 319.5M504.4 299.9L504.8 219.7M504.4 299.9L461.1 321.7M515.7 301.8L516.2 221.2M515.7 301.8L472.8 323.9M526.9 303.8L527.6 222.6M526.9 303.8L484.5 326.1M538.2 305.7L538.9 224.1M538.2 305.7L496.3 328.4M471.4 282.2L426.6 302.4M471.4 282.2L544.1 294.2M471.4 267.4L426.4 286.7M471.4 267.4L544.3 278.8M471.4 252.6L426.2 271M471.4 252.6L544.4 263.4M471.4 237.8L426.1 255.3M471.4 237.8L544.6 248M471.4 223L425.9 239.6M471.4 223L544.7 232.6" stroke="#d4d4d4" stroke-width="0.6" fill="none"/>
<path d="M426.7 315.2L471.4 294.2L544 306.7M471.4 294.2L471.4 215.5" stroke="#4a4a4a" stroke-width="1.1" fill="none"/>
<circle cx="491.6" cy="250.7" r="2" fill="url(#gk)"/><circle cx="484.6" cy="248.5" r="2" fill="url(#gk)"/><circle cx="479.7" cy="246.1" r="2" fill="url(#gp)"/><circle cx="479.4" cy="255.5" r="2" fill="url(#gk)"/><circle cx="475.7" cy="246.7" r="2" fill="url(#gp)"/><circle cx="465.1" cy="254.7" r="2" fill="url(#gp)"/><circle cx="494.3" cy="250.1" r="2" fill="url(#gk)"/><circle cx="481.1" cy="247.3" r="2" fill="url(#gp)"/><circle cx="482.6" cy="245.9" r="2" fill="url(#gk)"/><circle cx="469.2" cy="252.5" r="2" fill="url(#gp)"/><circle cx="467.2" cy="239.1" r="2" fill="url(#gp)"/><circle cx="464.3" cy="250.9" r="2" fill="url(#gp)"/><circle cx="484.4" cy="257.3" r="2" fill="url(#gk)"/><circle cx="509.2" cy="229" r="2" fill="url(#gk)"/><circle cx="500.1" cy="246.5" r="2" fill="url(#gk)"/><circle cx="508.4" cy="229" r="2" fill="url(#gk)"/><circle cx="482.6" cy="251.9" r="2" fill="url(#gk)"/><circle cx="509.1" cy="239.7" r="2" fill="url(#gk)"/><circle cx="465.3" cy="245.4" r="2" fill="url(#gp)"/><circle cx="509.2" cy="248.2" r="2" fill="url(#gk)"/><circle cx="476.3" cy="241.9" r="2" fill="url(#gp)"/><circle cx="487.7" cy="243.5" r="2" fill="url(#gk)"/><circle cx="488.6" cy="242.2" r="2" fill="url(#gk)"/><circle cx="480.8" cy="245.4" r="2" fill="url(#gk)"/><circle cx="489.6" cy="237.9" r="2" fill="url(#gk)"/><circle cx="477.1" cy="254.5" r="2" fill="url(#gk)"/><circle cx="500.9" cy="241.1" r="2" fill="url(#gk)"/><circle cx="498.3" cy="253.9" r="2" fill="url(#gk)"/><circle cx="466.9" cy="255.9" r="2" fill="url(#gp)"/><circle cx="488.8" cy="246.3" r="2" fill="url(#gk)"/><circle cx="473.1" cy="237.3" r="2" fill="url(#gp)"/><circle cx="483.4" cy="257.4" r="2" fill="url(#gk)"/><circle cx="476.2" cy="248.8" r="2" fill="url(#gp)"/><circle cx="462" cy="252.7" r="2" fill="url(#gp)"/><circle cx="488.8" cy="254.2" r="2" fill="url(#gk)"/><circle cx="478.8" cy="237.6" r="2" fill="url(#gp)"/><circle cx="465.9" cy="251.6" r="2" fill="url(#gp)"/><circle cx="475" cy="246.1" r="2" fill="url(#gk)"/><circle cx="460.3" cy="253.8" r="2" fill="url(#gc)"/><circle cx="511.3" cy="232.5" r="2" fill="url(#gk)"/><circle cx="488" cy="250.7" r="2" fill="url(#gk)"/><circle cx="490.9" cy="249.8" r="2" fill="url(#gk)"/><circle cx="492.8" cy="246" r="2" fill="url(#gk)"/><circle cx="489.5" cy="250.5" r="2" fill="url(#gk)"/><circle cx="489.4" cy="245" r="2" fill="url(#gk)"/><circle cx="502.3" cy="248.9" r="2" fill="url(#gk)"/><circle cx="485.2" cy="248.1" r="2" fill="url(#gk)"/><circle cx="482.5" cy="244.1" r="2" fill="url(#gk)"/><circle cx="484.4" cy="244.6" r="2" fill="url(#gk)"/><circle cx="471.8" cy="251" r="2" fill="url(#gp)"/><circle cx="486.2" cy="239.9" r="2" fill="url(#gk)"/><circle cx="504.3" cy="254.5" r="2" fill="url(#gk)"/><circle cx="481.8" cy="248.1" r="2" fill="url(#gk)"/><circle cx="476.6" cy="237.9" r="2" fill="url(#gp)"/><circle cx="476.2" cy="241.8" r="2" fill="url(#gk)"/><circle cx="491.1" cy="246.4" r="2" fill="url(#gk)"/><circle cx="497.7" cy="246.6" r="2" fill="url(#gk)"/><circle cx="487.3" cy="243" r="2" fill="url(#gk)"/><circle cx="485.1" cy="246.7" r="2" fill="url(#gk)"/><circle cx="512.4" cy="231.6" r="2" fill="url(#gk)"/><circle cx="482.3" cy="246.8" r="2" fill="url(#gk)"/><circle cx="483.5" cy="250.9" r="2" fill="url(#gk)"/><circle cx="502.3" cy="254.6" r="2" fill="url(#gk)"/><circle cx="486.5" cy="260.7" r="2" fill="url(#gk)"/><circle cx="466" cy="258.7" r="2" fill="url(#gp)"/><circle cx="474.4" cy="243.8" r="2" fill="url(#gp)"/><circle cx="498.4" cy="242.4" r="2" fill="url(#gk)"/><circle cx="488.7" cy="254.9" r="2" fill="url(#gk)"/><circle cx="476.8" cy="256" r="2" fill="url(#gk)"/><circle cx="472.6" cy="257.3" r="2" fill="url(#gp)"/><circle cx="509.7" cy="244.7" r="2" fill="url(#gk)"/><circle cx="491.5" cy="241.5" r="2" fill="url(#gk)"/><circle cx="502.6" cy="257.5" r="2" fill="url(#gk)"/><circle cx="472.1" cy="257.3" r="2" fill="url(#gp)"/><circle cx="478.7" cy="246.7" r="2" fill="url(#gk)"/><circle cx="489.8" cy="256" r="2" fill="url(#gk)"/><circle cx="483.2" cy="245.6" r="2" fill="url(#gk)"/><circle cx="490.5" cy="245.3" r="2" fill="url(#gk)"/><circle cx="469.5" cy="233" r="2" fill="url(#gp)"/><circle cx="489.9" cy="258" r="2" fill="url(#gk)"/><circle cx="478.2" cy="251.8" r="2" fill="url(#gk)"/><circle cx="488.5" cy="254.1" r="2" fill="url(#gk)"/><circle cx="480.6" cy="256.3" r="2" fill="url(#gk)"/><circle cx="471.7" cy="249.7" r="2" fill="url(#gp)"/><circle cx="475.3" cy="250.8" r="2" fill="url(#gp)"/><circle cx="499.1" cy="247.6" r="2" fill="url(#gk)"/><circle cx="470.3" cy="236.8" r="2" fill="url(#gp)"/><circle cx="460.2" cy="242.7" r="2" fill="url(#gp)"/><circle cx="478.7" cy="260.7" r="2" fill="url(#gk)"/><circle cx="458.2" cy="260.3" r="2" fill="url(#gc)"/><circle cx="481.6" cy="255.9" r="2" fill="url(#gk)"/><circle cx="471.5" cy="254" r="2" fill="url(#gp)"/><circle cx="466.6" cy="239.6" r="2" fill="url(#gp)"/><circle cx="494.3" cy="241.9" r="2" fill="url(#gk)"/><circle cx="478" cy="233" r="2" fill="url(#gp)"/><circle cx="485.4" cy="255.3" r="2" fill="url(#gk)"/><circle cx="495.4" cy="259.8" r="2" fill="url(#gk)"/><circle cx="493.2" cy="234.9" r="2" fill="url(#gk)"/><circle cx="460.6" cy="257.8" r="2" fill="url(#gc)"/><circle cx="482.6" cy="248.8" r="2" fill="url(#gk)"/><circle cx="479.4" cy="253.4" r="2" fill="url(#gk)"/><circle cx="490.4" cy="246" r="2" fill="url(#gk)"/><circle cx="482.8" cy="239.5" r="2" fill="url(#gk)"/><circle cx="474" cy="246.2" r="2" fill="url(#gp)"/><circle cx="498.1" cy="246.2" r="2" fill="url(#gk)"/><circle cx="490.5" cy="252.5" r="2" fill="url(#gk)"/><circle cx="482.6" cy="258.3" r="2" fill="url(#gk)"/><circle cx="497.8" cy="252.4" r="2" fill="url(#gk)"/><circle cx="483.8" cy="234.8" r="2" fill="url(#gp)"/><circle cx="475" cy="251.1" r="2" fill="url(#gp)"/><circle cx="491.9" cy="252.9" r="2" fill="url(#gk)"/><circle cx="484.9" cy="253.7" r="2" fill="url(#gk)"/><circle cx="474.7" cy="259.1" r="2" fill="url(#gk)"/><circle cx="491.7" cy="248.5" r="2" fill="url(#gk)"/><circle cx="467.7" cy="246.6" r="2" fill="url(#gp)"/><circle cx="461.1" cy="247.9" r="2" fill="url(#gc)"/><circle cx="490.2" cy="238.6" r="2" fill="url(#gk)"/><circle cx="492.7" cy="242.4" r="2" fill="url(#gk)"/><circle cx="498.9" cy="244.6" r="2" fill="url(#gk)"/><circle cx="487.2" cy="247.2" r="2" fill="url(#gk)"/><circle cx="463.4" cy="248.9" r="2" fill="url(#gp)"/><circle cx="509.2" cy="249.1" r="2" fill="url(#gk)"/><circle cx="485.2" cy="251.7" r="2" fill="url(#gk)"/><circle cx="480.8" cy="254.3" r="2" fill="url(#gp)"/><circle cx="490.3" cy="254.8" r="2" fill="url(#gk)"/><circle cx="476.5" cy="255.9" r="2" fill="url(#gk)"/><circle cx="496.8" cy="251.4" r="2" fill="url(#gk)"/><circle cx="486" cy="246.8" r="2" fill="url(#gk)"/><circle cx="484.1" cy="263.9" r="2" fill="url(#gk)"/><circle cx="469.8" cy="255.2" r="2" fill="url(#gp)"/><circle cx="484.8" cy="241.5" r="2" fill="url(#gk)"/><circle cx="498.1" cy="243.4" r="2" fill="url(#gk)"/><circle cx="492.8" cy="239.8" r="2" fill="url(#gk)"/><circle cx="476.8" cy="245.1" r="2" fill="url(#gp)"/><circle cx="491.7" cy="239.8" r="2" fill="url(#gk)"/><circle cx="489.7" cy="254.2" r="2" fill="url(#gk)"/><circle cx="505.3" cy="240.9" r="2" fill="url(#gk)"/><circle cx="505.9" cy="248.3" r="2" fill="url(#gk)"/><circle cx="474.7" cy="261.4" r="2" fill="url(#gk)"/><circle cx="472.9" cy="232.6" r="2" fill="url(#gp)"/><circle cx="506" cy="232.4" r="2" fill="url(#gk)"/><circle cx="479.3" cy="243.1" r="2" fill="url(#gp)"/><circle cx="495.2" cy="242.7" r="2" fill="url(#gk)"/><circle cx="475.4" cy="246.5" r="2" fill="url(#gp)"/><circle cx="485.6" cy="247" r="2" fill="url(#gk)"/><circle cx="475.5" cy="245.3" r="2" fill="url(#gp)"/><circle cx="488.8" cy="255.9" r="2" fill="url(#gk)"/><circle cx="463.9" cy="252.1" r="2" fill="url(#gp)"/><circle cx="496.3" cy="254.8" r="2" fill="url(#gk)"/><circle cx="462.7" cy="258.4" r="2" fill="url(#gp)"/><circle cx="485.5" cy="252.7" r="2" fill="url(#gk)"/><circle cx="501.5" cy="257.2" r="2" fill="url(#gk)"/><circle cx="467.1" cy="251.7" r="2" fill="url(#gp)"/><circle cx="500.8" cy="244.8" r="2" fill="url(#gk)"/><circle cx="481.1" cy="254.2" r="2" fill="url(#gp)"/><circle cx="462.1" cy="245.3" r="2" fill="url(#gp)"/><circle cx="475.7" cy="255.3" r="2" fill="url(#gp)"/><circle cx="484.3" cy="231.5" r="2" fill="url(#gk)"/><circle cx="472.4" cy="257.4" r="2" fill="url(#gp)"/><circle cx="509.7" cy="251" r="2" fill="url(#gk)"/><circle cx="482.2" cy="242.6" r="2" fill="url(#gp)"/><circle cx="487.1" cy="241.6" r="2" fill="url(#gk)"/><circle cx="478.4" cy="261.8" r="2" fill="url(#gk)"/><circle cx="502.9" cy="239.6" r="2" fill="url(#gk)"/><circle cx="485.1" cy="250.5" r="2" fill="url(#gk)"/><circle cx="496.1" cy="245.3" r="2" fill="url(#gk)"/><circle cx="492.1" cy="241.1" r="2" fill="url(#gk)"/><circle cx="489.1" cy="249" r="2" fill="url(#gk)"/><circle cx="495.2" cy="250.6" r="2" fill="url(#gk)"/><circle cx="455.9" cy="257.3" r="2" fill="url(#gc)"/><circle cx="477.3" cy="241.5" r="2" fill="url(#gp)"/><circle cx="481.4" cy="247.3" r="2" fill="url(#gk)"/><circle cx="472.1" cy="234.3" r="2" fill="url(#gp)"/><circle cx="485.4" cy="238.9" r="2" fill="url(#gk)"/><circle cx="481.1" cy="230.3" r="2" fill="url(#gk)"/><circle cx="480" cy="255.3" r="2" fill="url(#gk)"/><circle cx="481.5" cy="247.7" r="2" fill="url(#gk)"/><circle cx="494.6" cy="243.8" r="2" fill="url(#gk)"/><circle cx="474.3" cy="257.8" r="2" fill="url(#gk)"/><circle cx="497.7" cy="252.5" r="2" fill="url(#gk)"/><circle cx="481.8" cy="242" r="2" fill="url(#gk)"/><circle cx="465" cy="248" r="2" fill="url(#gp)"/><circle cx="484.9" cy="247.2" r="2" fill="url(#gk)"/><circle cx="473.1" cy="252.9" r="2" fill="url(#gp)"/><circle cx="485.7" cy="258.3" r="2" fill="url(#gk)"/><circle cx="483.9" cy="254.5" r="2" fill="url(#gk)"/><circle cx="473.7" cy="241.9" r="2" fill="url(#gp)"/><circle cx="472.8" cy="253.7" r="2" fill="url(#gp)"/><circle cx="465.7" cy="255.5" r="2" fill="url(#gp)"/><circle cx="473.4" cy="258.6" r="2" fill="url(#gk)"/><circle cx="484.5" cy="259.4" r="2" fill="url(#gk)"/><circle cx="483.5" cy="251.7" r="2" fill="url(#gk)"/><circle cx="479.3" cy="234.3" r="2" fill="url(#gp)"/><circle cx="491.1" cy="238.4" r="2" fill="url(#gk)"/><circle cx="498.3" cy="242.1" r="2" fill="url(#gk)"/><circle cx="484.1" cy="274.9" r="2" fill="url(#gp)"/><circle cx="490.9" cy="267.6" r="2" fill="url(#gp)"/><circle cx="503.4" cy="270.8" r="2" fill="url(#gk)"/><circle cx="492.9" cy="271.4" r="2" fill="url(#gp)"/><circle cx="505.2" cy="272.5" r="2" fill="url(#gp)"/><circle cx="493.9" cy="276.6" r="2" fill="url(#gp)"/><circle cx="495.6" cy="276.2" r="2" fill="url(#gp)"/><circle cx="503.4" cy="275.5" r="2" fill="url(#gp)"/><circle cx="497" cy="270.9" r="2" fill="url(#gk)"/><circle cx="500.4" cy="275.9" r="2" fill="url(#gp)"/><circle cx="494.6" cy="272.8" r="2" fill="url(#gk)"/><circle cx="496.9" cy="269.4" r="2" fill="url(#gp)"/><circle cx="498.7" cy="274.6" r="2" fill="url(#gp)"/><circle cx="494.3" cy="272.3" r="2" fill="url(#gp)"/><circle cx="495.7" cy="274.3" r="2" fill="url(#gp)"/><circle cx="498.8" cy="273.1" r="2" fill="url(#gp)"/><circle cx="502.7" cy="276.2" r="2" fill="url(#gk)"/><circle cx="495.2" cy="268.3" r="2" fill="url(#gk)"/><circle cx="495.9" cy="276.5" r="2" fill="url(#gp)"/><circle cx="506" cy="275.3" r="2" fill="url(#gp)"/><circle cx="514.9" cy="276.5" r="2" fill="url(#gp)"/><circle cx="509" cy="273.7" r="2" fill="url(#gp)"/><circle cx="502.5" cy="270.5" r="2" fill="url(#gp)"/><circle cx="516.1" cy="275.5" r="2" fill="url(#gp)"/><circle cx="497.4" cy="264.6" r="2" fill="url(#gk)"/><circle cx="491.3" cy="272.1" r="2" fill="url(#gk)"/><circle cx="485.9" cy="276.8" r="2" fill="url(#gp)"/><circle cx="518.1" cy="269.1" r="2" fill="url(#gk)"/><circle cx="476.8" cy="268.9" r="2" fill="url(#gc)"/><circle cx="476.6" cy="277.9" r="2" fill="url(#gc)"/><circle cx="512.5" cy="259.4" r="2" fill="url(#gk)"/><circle cx="501.7" cy="264.6" r="2" fill="url(#gk)"/><circle cx="499.3" cy="268.4" r="2" fill="url(#gk)"/><circle cx="494" cy="273.7" r="2" fill="url(#gc)"/><circle cx="481.8" cy="273.1" r="2" fill="url(#gc)"/><circle cx="468.6" cy="277.1" r="2" fill="url(#gc)"/><circle cx="492.2" cy="272" r="2" fill="url(#gc)"/><circle cx="484.3" cy="268.9" r="2" fill="url(#gc)"/><circle cx="484.1" cy="274.3" r="2" fill="url(#gc)"/><circle cx="483.8" cy="270.9" r="2" fill="url(#gc)"/><circle cx="448.6" cy="291.3" r="2" fill="url(#gc)"/><circle cx="482.2" cy="268.9" r="2" fill="url(#gc)"/><circle cx="523.7" cy="257.4" r="2" fill="url(#gk)"/><circle cx="467.4" cy="281.2" r="2" fill="url(#gc)"/><circle cx="499.9" cy="270.3" r="2" fill="url(#gk)"/><circle cx="477.5" cy="280.3" r="2" fill="url(#gc)"/><circle cx="450.1" cy="283.2" r="2" fill="url(#gc)"/><circle cx="458.2" cy="277.2" r="2" fill="url(#gc)"/><circle cx="468.6" cy="283.8" r="2" fill="url(#gc)"/><circle cx="489.6" cy="270.2" r="2" fill="url(#gc)"/><circle cx="485.7" cy="266.1" r="2" fill="url(#gc)"/><circle cx="448.9" cy="283.7" r="2" fill="url(#gc)"/><circle cx="484.1" cy="269.1" r="2" fill="url(#gc)"/><circle cx="488.9" cy="268.1" r="2" fill="url(#gc)"/><circle cx="494.1" cy="273" r="2" fill="url(#gc)"/><circle cx="509.5" cy="257.4" r="2" fill="url(#gk)"/><circle cx="485.4" cy="275.2" r="2" fill="url(#gc)"/><circle cx="479.2" cy="277.7" r="2" fill="url(#gc)"/><circle cx="451.6" cy="284.6" r="2" fill="url(#gc)"/><circle cx="523.2" cy="253.1" r="2" fill="url(#gk)"/><circle cx="471.7" cy="273.3" r="2" fill="url(#gc)"/><circle cx="509.3" cy="263.4" r="2" fill="url(#gk)"/><circle cx="506.5" cy="258.7" r="2" fill="url(#gk)"/><circle cx="471.3" cy="272.3" r="2" fill="url(#gc)"/><circle cx="506.6" cy="263.8" r="2" fill="url(#gk)"/><circle cx="507.2" cy="263.6" r="2" fill="url(#gk)"/><circle cx="476.1" cy="274.1" r="2" fill="url(#gc)"/><circle cx="494.5" cy="271.9" r="2" fill="url(#gk)"/><circle cx="481.8" cy="275.7" r="2" fill="url(#gc)"/><circle cx="519.7" cy="259.7" r="2" fill="url(#gk)"/><circle cx="479.8" cy="268.8" r="2" fill="url(#gc)"/><circle cx="487.3" cy="271.2" r="2" fill="url(#gc)"/><circle cx="464.4" cy="278.5" r="2" fill="url(#gc)"/><circle cx="523.8" cy="258.8" r="2" fill="url(#gk)"/><circle cx="518.3" cy="255" r="2" fill="url(#gk)"/><circle cx="488.5" cy="263.7" r="2" fill="url(#gc)"/><circle cx="481.4" cy="269.8" r="2" fill="url(#gc)"/><circle cx="479.4" cy="274.9" r="2" fill="url(#gc)"/><circle cx="474" cy="270.6" r="2" fill="url(#gc)"/><circle cx="481.8" cy="275.7" r="2" fill="url(#gc)"/><circle cx="455.8" cy="287.4" r="2" fill="url(#gc)"/><circle cx="450.6" cy="286.5" r="2" fill="url(#gc)"/><circle cx="495.5" cy="264.1" r="2" fill="url(#gc)"/><circle cx="506.3" cy="261.2" r="2" fill="url(#gk)"/><circle cx="502.4" cy="267.9" r="2" fill="url(#gk)"/><circle cx="458.9" cy="279" r="2" fill="url(#gc)"/><circle cx="469.2" cy="278.9" r="2" fill="url(#gc)"/><circle cx="494.2" cy="272.2" r="2" fill="url(#gc)"/><circle cx="481.5" cy="277.3" r="2" fill="url(#gc)"/><circle cx="508.5" cy="260.6" r="2" fill="url(#gk)"/><circle cx="517.9" cy="254.7" r="2" fill="url(#gk)"/><circle cx="477.3" cy="277.6" r="2" fill="url(#gc)"/><circle cx="453.6" cy="281.4" r="2" fill="url(#gc)"/><circle cx="505.6" cy="260.8" r="2" fill="url(#gk)"/><circle cx="473.7" cy="279.3" r="2" fill="url(#gc)"/><circle cx="475.3" cy="271.9" r="2" fill="url(#gc)"/><circle cx="449.5" cy="294.3" r="2" fill="url(#gc)"/><circle cx="482" cy="272.2" r="2" fill="url(#gc)"/><circle cx="500.4" cy="266" r="2" fill="url(#gk)"/><circle cx="484.3" cy="270.7" r="2" fill="url(#gc)"/><circle cx="515.6" cy="256.6" r="2" fill="url(#gk)"/><circle cx="449.1" cy="284.9" r="2" fill="url(#gc)"/><circle cx="487.9" cy="263" r="2" fill="url(#gc)"/><circle cx="522.7" cy="255.8" r="2" fill="url(#gk)"/><circle cx="498.1" cy="269.5" r="2" fill="url(#gk)"/><circle cx="504.7" cy="260.6" r="2" fill="url(#gk)"/><circle cx="470.4" cy="280.1" r="2" fill="url(#gc)"/><circle cx="452.1" cy="285" r="2" fill="url(#gc)"/><circle cx="515.5" cy="257.8" r="2" fill="url(#gk)"/><circle cx="501.3" cy="260.2" r="2" fill="url(#gk)"/><circle cx="516.2" cy="257.3" r="2" fill="url(#gk)"/><circle cx="523.2" cy="258.7" r="2" fill="url(#gk)"/><circle cx="520.4" cy="255.1" r="2" fill="url(#gk)"/><circle cx="506" cy="264.8" r="2" fill="url(#gk)"/><circle cx="477.1" cy="278.7" r="2" fill="url(#gc)"/><circle cx="480.3" cy="272" r="2" fill="url(#gc)"/><circle cx="478.1" cy="278.5" r="2" fill="url(#gc)"/><circle cx="501.2" cy="260.6" r="2" fill="url(#gk)"/><circle cx="469.5" cy="275.2" r="2" fill="url(#gc)"/><circle cx="496.1" cy="267.2" r="2" fill="url(#gc)"/><circle cx="504.6" cy="258.8" r="2" fill="url(#gk)"/><circle cx="502.3" cy="266.8" r="2" fill="url(#gk)"/><circle cx="513.5" cy="254.5" r="2" fill="url(#gk)"/><circle cx="486.2" cy="271.3" r="2" fill="url(#gc)"/><circle cx="484" cy="271.3" r="2" fill="url(#gc)"/><circle cx="496.2" cy="268.6" r="2" fill="url(#gk)"/><circle cx="486.5" cy="270.9" r="2" fill="url(#gc)"/><circle cx="508.9" cy="261.1" r="2" fill="url(#gk)"/><circle cx="479.8" cy="269.7" r="2" fill="url(#gc)"/><circle cx="482.9" cy="272.2" r="2" fill="url(#gc)"/><circle cx="462.3" cy="277.6" r="2" fill="url(#gc)"/><circle cx="447.7" cy="284" r="2" fill="url(#gc)"/><circle cx="491.2" cy="268.7" r="2" fill="url(#gc)"/><circle cx="481.6" cy="270.7" r="2" fill="url(#gc)"/><circle cx="486.6" cy="273" r="2" fill="url(#gk)"/><circle cx="465.3" cy="283.2" r="2" fill="url(#gc)"/><circle cx="473.8" cy="276.5" r="2" fill="url(#gc)"/><circle cx="463.5" cy="282.6" r="2" fill="url(#gc)"/><circle cx="506.5" cy="257.8" r="2" fill="url(#gk)"/><circle cx="483.8" cy="271.2" r="2" fill="url(#gc)"/><circle cx="483.4" cy="276.5" r="2" fill="url(#gc)"/><circle cx="493" cy="268" r="2" fill="url(#gk)"/><circle cx="508.1" cy="259.6" r="2" fill="url(#gk)"/><circle cx="492.4" cy="268.6" r="2" fill="url(#gk)"/><circle cx="464.5" cy="278.4" r="2" fill="url(#gc)"/><circle cx="506.1" cy="260.7" r="2" fill="url(#gk)"/><circle cx="478.6" cy="274.8" r="2" fill="url(#gc)"/><circle cx="453.2" cy="291.4" r="2" fill="url(#gc)"/><circle cx="465.1" cy="287.6" r="2" fill="url(#gc)"/><circle cx="514" cy="261" r="2" fill="url(#gk)"/><circle cx="454.8" cy="290.5" r="2" fill="url(#gc)"/><circle cx="459.3" cy="283.2" r="2" fill="url(#gc)"/><circle cx="498.8" cy="263.8" r="2" fill="url(#gk)"/><circle cx="483.1" cy="271.6" r="2" fill="url(#gc)"/><circle cx="451.6" cy="288.7" r="2" fill="url(#gc)"/><circle cx="483.2" cy="274.8" r="2" fill="url(#gc)"/><circle cx="477.9" cy="272.5" r="2" fill="url(#gc)"/><circle cx="453.6" cy="294.4" r="2" fill="url(#gc)"/><circle cx="464.2" cy="283.5" r="2" fill="url(#gc)"/><circle cx="481.4" cy="269.9" r="2" fill="url(#gc)"/><circle cx="483.3" cy="265.7" r="2" fill="url(#gc)"/><circle cx="473" cy="282.7" r="2" fill="url(#gc)"/><circle cx="464.2" cy="282.3" r="2" fill="url(#gc)"/><circle cx="457.6" cy="285.4" r="2" fill="url(#gc)"/><circle cx="456.4" cy="281" r="2" fill="url(#gc)"/><circle cx="458.3" cy="281" r="2" fill="url(#gc)"/><circle cx="450.3" cy="284.7" r="2" fill="url(#gc)"/><circle cx="449.9" cy="287" r="2" fill="url(#gc)"/><circle cx="516.4" cy="248.4" r="2" fill="url(#gk)"/><circle cx="484.3" cy="273" r="2" fill="url(#gc)"/><circle cx="449.1" cy="283.5" r="2" fill="url(#gc)"/><circle cx="485.5" cy="271.8" r="2" fill="url(#gc)"/><circle cx="501.5" cy="263.5" r="2" fill="url(#gk)"/><circle cx="471.5" cy="278.3" r="2" fill="url(#gc)"/><circle cx="491.8" cy="267" r="2" fill="url(#gc)"/><circle cx="459.9" cy="282.6" r="2" fill="url(#gc)"/><circle cx="494.6" cy="270.3" r="2" fill="url(#gk)"/><circle cx="488.1" cy="267.5" r="2" fill="url(#gc)"/><circle cx="488.3" cy="275.5" r="2" fill="url(#gc)"/><circle cx="469.8" cy="278.8" r="2" fill="url(#gc)"/><circle cx="470.8" cy="275.2" r="2" fill="url(#gc)"/><circle cx="500.1" cy="268.9" r="2" fill="url(#gk)"/><circle cx="467.3" cy="280.6" r="2" fill="url(#gc)"/><circle cx="487.8" cy="267.9" r="2" fill="url(#gc)"/><circle cx="480.4" cy="277" r="2" fill="url(#gc)"/><circle cx="479" cy="268.8" r="2" fill="url(#gc)"/><circle cx="475.6" cy="275" r="2" fill="url(#gc)"/><circle cx="522" cy="249.1" r="2" fill="url(#gk)"/><circle cx="458.2" cy="284.6" r="2" fill="url(#gc)"/><circle cx="487" cy="267" r="2" fill="url(#gc)"/><circle cx="461.6" cy="282.1" r="2" fill="url(#gc)"/><circle cx="495.4" cy="270.3" r="2" fill="url(#gc)"/><circle cx="478.1" cy="272" r="2" fill="url(#gc)"/><circle cx="491.4" cy="270.2" r="2" fill="url(#gc)"/><circle cx="451.2" cy="283.4" r="2" fill="url(#gc)"/><circle cx="506.9" cy="267.4" r="2" fill="url(#gk)"/><circle cx="497.4" cy="255.8" r="2" fill="url(#gk)"/><circle cx="462.1" cy="281.5" r="2" fill="url(#gc)"/><circle cx="493.5" cy="270.3" r="2" fill="url(#gk)"/><circle cx="479.1" cy="278.7" r="2" fill="url(#gc)"/><circle cx="473.6" cy="276.9" r="2" fill="url(#gc)"/><circle cx="485.6" cy="270.9" r="2" fill="url(#gc)"/><circle cx="494.3" cy="268.9" r="2" fill="url(#gk)"/><circle cx="479.8" cy="274.7" r="2" fill="url(#gc)"/><circle cx="461.4" cy="283.6" r="2" fill="url(#gc)"/><circle cx="448.8" cy="282.1" r="2" fill="url(#gc)"/><circle cx="503.2" cy="263.4" r="2" fill="url(#gk)"/><circle cx="489" cy="273.5" r="2" fill="url(#gc)"/><circle cx="525.1" cy="260.3" r="2" fill="url(#gk)"/><circle cx="498.7" cy="267.6" r="2" fill="url(#gc)"/><circle cx="467.6" cy="280.1" r="2" fill="url(#gc)"/><circle cx="496" cy="267.5" r="2" fill="url(#gk)"/><circle cx="490.9" cy="270" r="2" fill="url(#gc)"/><circle cx="479.9" cy="274.3" r="2" fill="url(#gc)"/><circle cx="490.6" cy="267.8" r="2" fill="url(#gc)"/><circle cx="487.3" cy="272.9" r="2" fill="url(#gc)"/><circle cx="469.2" cy="275.2" r="2" fill="url(#gc)"/><circle cx="450.1" cy="289.6" r="2" fill="url(#gc)"/><circle cx="476.9" cy="278.2" r="2" fill="url(#gc)"/><circle cx="512.8" cy="257.9" r="2" fill="url(#gk)"/><circle cx="503.6" cy="267.7" r="2" fill="url(#gk)"/><circle cx="510.6" cy="261.8" r="2" fill="url(#gk)"/><circle cx="502.4" cy="263.5" r="2" fill="url(#gk)"/><circle cx="521.6" cy="257.4" r="2" fill="url(#gk)"/><circle cx="475.7" cy="277.6" r="2" fill="url(#gc)"/><circle cx="449.4" cy="287.3" r="2" fill="url(#gc)"/><circle cx="498.6" cy="265.1" r="2" fill="url(#gk)"/><circle cx="495.4" cy="268.1" r="2" fill="url(#gc)"/><circle cx="505.9" cy="259.8" r="2" fill="url(#gk)"/><circle cx="487.1" cy="271.3" r="2" fill="url(#gc)"/><circle cx="474.6" cy="280.2" r="2" fill="url(#gc)"/><circle cx="494.9" cy="263.5" r="2" fill="url(#gk)"/><circle cx="447.2" cy="287.1" r="2" fill="url(#gc)"/><circle cx="461.9" cy="281.2" r="2" fill="url(#gc)"/><circle cx="510.3" cy="260.7" r="2" fill="url(#gk)"/><circle cx="499.6" cy="271.6" r="2" fill="url(#gk)"/><circle cx="481.9" cy="278.3" r="2" fill="url(#gc)"/><circle cx="466.8" cy="280.9" r="2" fill="url(#gc)"/><circle cx="512.3" cy="257.4" r="2" fill="url(#gk)"/><circle cx="456.8" cy="284.5" r="2" fill="url(#gc)"/><circle cx="458.8" cy="285" r="2" fill="url(#gc)"/><circle cx="469.1" cy="286.1" r="2" fill="url(#gc)"/><circle cx="476.9" cy="277.7" r="2" fill="url(#gc)"/><circle cx="450.9" cy="290.5" r="2" fill="url(#gc)"/><circle cx="504.5" cy="258.5" r="2" fill="url(#gk)"/><circle cx="503" cy="264" r="2" fill="url(#gk)"/><circle cx="501.6" cy="269.7" r="2" fill="url(#gk)"/><circle cx="477.1" cy="273.3" r="2" fill="url(#gc)"/><circle cx="495.6" cy="268.1" r="2" fill="url(#gc)"/><circle cx="484.9" cy="273.1" r="2" fill="url(#gc)"/><circle cx="523.8" cy="253.7" r="2" fill="url(#gk)"/><circle cx="464.8" cy="279" r="2" fill="url(#gc)"/><circle cx="515.4" cy="258.5" r="2" fill="url(#gk)"/><circle cx="455.6" cy="280.5" r="2" fill="url(#gc)"/><circle cx="483.5" cy="268.2" r="2" fill="url(#gc)"/><circle cx="479.9" cy="276.6" r="2" fill="url(#gc)"/><circle cx="491.9" cy="268.3" r="2" fill="url(#gc)"/><circle cx="477.7" cy="274.4" r="2" fill="url(#gc)"/><circle cx="464.6" cy="276.1" r="2" fill="url(#gc)"/><circle cx="520.9" cy="261.1" r="2" fill="url(#gk)"/><circle cx="491.5" cy="266.3" r="2" fill="url(#gc)"/><circle cx="469" cy="280.9" r="2" fill="url(#gc)"/><circle cx="501.7" cy="259.3" r="2" fill="url(#gk)"/><circle cx="499.7" cy="276" r="2" fill="url(#gk)"/><circle cx="461.2" cy="280.3" r="2" fill="url(#gc)"/><circle cx="489.9" cy="274.8" r="2" fill="url(#gc)"/><circle cx="478.8" cy="271.7" r="2" fill="url(#gc)"/><circle cx="495.5" cy="270.4" r="2" fill="url(#gk)"/><circle cx="490.9" cy="274.3" r="2" fill="url(#gc)"/><circle cx="481.6" cy="273.5" r="2" fill="url(#gc)"/><circle cx="494.7" cy="267.9" r="2" fill="url(#gk)"/><circle cx="522.6" cy="253.1" r="2" fill="url(#gk)"/><circle cx="483.5" cy="273.4" r="2" fill="url(#gc)"/><circle cx="498.5" cy="260.8" r="2" fill="url(#gk)"/><circle cx="457.6" cy="285.9" r="2" fill="url(#gc)"/><circle cx="489.8" cy="273.2" r="2" fill="url(#gc)"/><circle cx="489.1" cy="268.1" r="2" fill="url(#gk)"/><circle cx="458.5" cy="283.8" r="2" fill="url(#gc)"/><circle cx="490.9" cy="297.9" r="2" fill="url(#gp)"/><circle cx="499.1" cy="300.6" r="2" fill="url(#gp)"/><circle cx="487.8" cy="282.2" r="2" fill="url(#gp)"/><circle cx="494.3" cy="296.6" r="2" fill="url(#gp)"/><circle cx="491.8" cy="286.9" r="2" fill="url(#gp)"/><circle cx="488.6" cy="299.7" r="2" fill="url(#gp)"/><circle cx="490.1" cy="278.8" r="2" fill="url(#gp)"/><circle cx="493.2" cy="287.4" r="2" fill="url(#gp)"/><circle cx="501.6" cy="280.5" r="2" fill="url(#gp)"/><circle cx="487.9" cy="279.1" r="2" fill="url(#gp)"/><circle cx="482.8" cy="292.7" r="2" fill="url(#gp)"/><circle cx="499.8" cy="291" r="2" fill="url(#gp)"/><circle cx="500.3" cy="281.8" r="2" fill="url(#gp)"/><circle cx="497.8" cy="289.8" r="2" fill="url(#gp)"/><circle cx="496" cy="285.2" r="2" fill="url(#gp)"/><circle cx="496" cy="282.8" r="2" fill="url(#gp)"/><circle cx="502.4" cy="287.5" r="2" fill="url(#gp)"/><circle cx="487.5" cy="285.7" r="2" fill="url(#gp)"/><circle cx="494.5" cy="278.5" r="2" fill="url(#gp)"/><circle cx="491.5" cy="288.6" r="2" fill="url(#gp)"/><circle cx="486.8" cy="286" r="2" fill="url(#gp)"/><circle cx="493.4" cy="277.3" r="2" fill="url(#gp)"/><circle cx="495.8" cy="279" r="2" fill="url(#gp)"/><circle cx="499.3" cy="284" r="2" fill="url(#gp)"/><circle cx="475.7" cy="285.4" r="2" fill="url(#gp)"/><circle cx="488.4" cy="281.2" r="2" fill="url(#gp)"/><circle cx="512.1" cy="281.8" r="2" fill="url(#gp)"/><circle cx="491" cy="280.4" r="2" fill="url(#gp)"/><circle cx="489.6" cy="283" r="2" fill="url(#gp)"/><circle cx="505.9" cy="284.7" r="2" fill="url(#gp)"/><circle cx="489.1" cy="291.2" r="2" fill="url(#gp)"/><circle cx="505.2" cy="286.4" r="2" fill="url(#gp)"/><circle cx="499" cy="292.3" r="2" fill="url(#gp)"/><circle cx="501.7" cy="284.4" r="2" fill="url(#gp)"/><circle cx="499.4" cy="281" r="2" fill="url(#gp)"/><circle cx="494.2" cy="288.8" r="2" fill="url(#gp)"/><circle cx="488.9" cy="285.5" r="2" fill="url(#gp)"/><circle cx="511.3" cy="283" r="2" fill="url(#gp)"/><circle cx="501.4" cy="291.7" r="2" fill="url(#gp)"/><circle cx="495.3" cy="293.3" r="2" fill="url(#gp)"/><circle cx="499.9" cy="280.2" r="2" fill="url(#gp)"/><circle cx="494.2" cy="293.9" r="2" fill="url(#gp)"/><circle cx="499.3" cy="285.2" r="2" fill="url(#gp)"/><circle cx="494" cy="287.3" r="2" fill="url(#gp)"/><circle cx="499.4" cy="280.8" r="2" fill="url(#gp)"/><circle cx="479.4" cy="297" r="2" fill="url(#gp)"/><circle cx="493" cy="287.4" r="2" fill="url(#gp)"/><circle cx="484.2" cy="283.8" r="2" fill="url(#gp)"/><circle cx="475.8" cy="280.9" r="2" fill="url(#gp)"/><circle cx="485.1" cy="286.1" r="2" fill="url(#gp)"/><circle cx="485.6" cy="282.3" r="2" fill="url(#gp)"/><circle cx="489.3" cy="291.7" r="2" fill="url(#gp)"/><circle cx="505.8" cy="290.1" r="2" fill="url(#gp)"/><circle cx="489.6" cy="293.2" r="2" fill="url(#gp)"/><circle cx="495.1" cy="286.9" r="2" fill="url(#gp)"/><circle cx="518.8" cy="280.6" r="2" fill="url(#gp)"/><circle cx="492.9" cy="288.9" r="2" fill="url(#gp)"/><circle cx="503.6" cy="279.7" r="2" fill="url(#gp)"/><circle cx="498.2" cy="284.2" r="2" fill="url(#gp)"/><circle cx="507.7" cy="297.5" r="2" fill="url(#gp)"/><circle cx="503.9" cy="286.2" r="2" fill="url(#gp)"/><circle cx="500.4" cy="278.4" r="2" fill="url(#gp)"/><circle cx="498.2" cy="295.1" r="2" fill="url(#gp)"/><circle cx="498.8" cy="292.1" r="2" fill="url(#gp)"/><circle cx="504.3" cy="289.5" r="2" fill="url(#gp)"/><circle cx="504.1" cy="290.2" r="2" fill="url(#gp)"/><circle cx="486.3" cy="290.8" r="2" fill="url(#gp)"/><circle cx="491.2" cy="282.6" r="2" fill="url(#gp)"/><circle cx="505.5" cy="281.6" r="2" fill="url(#gp)"/><circle cx="509.6" cy="289.6" r="2" fill="url(#gp)"/><circle cx="492.8" cy="293.7" r="2" fill="url(#gp)"/><circle cx="488.6" cy="282.9" r="2" fill="url(#gp)"/><circle cx="500" cy="284.2" r="2" fill="url(#gp)"/><circle cx="505.6" cy="284.2" r="2" fill="url(#gp)"/><circle cx="485.2" cy="282.6" r="2" fill="url(#gp)"/><circle cx="486.7" cy="285.1" r="2" fill="url(#gp)"/><circle cx="498.9" cy="280" r="2" fill="url(#gp)"/><circle cx="491.5" cy="297.3" r="2" fill="url(#gp)"/><circle cx="488.3" cy="301" r="2" fill="url(#gp)"/><circle cx="509.4" cy="286.8" r="2" fill="url(#gp)"/><circle cx="501.4" cy="286.2" r="2" fill="url(#gp)"/><circle cx="482.6" cy="291.8" r="2" fill="url(#gp)"/><circle cx="493.1" cy="284.6" r="2" fill="url(#gp)"/><circle cx="486.5" cy="291.9" r="2" fill="url(#gp)"/><circle cx="508.7" cy="281.6" r="2" fill="url(#gp)"/><circle cx="508.9" cy="279.4" r="2" fill="url(#gp)"/><circle cx="501.9" cy="285.1" r="2" fill="url(#gp)"/><circle cx="483.4" cy="284" r="2" fill="url(#gp)"/><circle cx="499.6" cy="277.1" r="2" fill="url(#gp)"/><circle cx="486" cy="286.5" r="2" fill="url(#gp)"/><circle cx="505.5" cy="284.9" r="2" fill="url(#gp)"/><circle cx="486.3" cy="289.4" r="2" fill="url(#gp)"/><circle cx="513.1" cy="280.1" r="2" fill="url(#gp)"/><circle cx="490.7" cy="280.9" r="2" fill="url(#gp)"/><circle cx="511.1" cy="286.7" r="2" fill="url(#gp)"/><circle cx="477.9" cy="287.3" r="2" fill="url(#gp)"/><circle cx="484.1" cy="281.6" r="2" fill="url(#gp)"/>
<path d="M471.4 294.2L471.4 215.5" stroke="#555" stroke-width="1" fill="none" opacity="0.7"/>
<path d="M426.7 315.2L425.8 231.7L471.4 215.5L544.8 224.8L544 306.7L502.3 329.5Z" stroke="#111" stroke-width="1.6" fill="none" stroke-linejoin="miter"/>
<text transform="translate(412.9 282.2) rotate(-90) skewX(-8) scale(1.18 0.82)" font-size="13" text-anchor="middle" style="fill:#333;stroke:none">PC3</text>
<path d="M423.5 241h2.6M423.5 257.5h2.6M423.5 274h2.6M423.5 290.5h2.6M423.5 306.9h2.6" stroke="#333" stroke-width="0.8" fill="none"/>
<text transform="translate(423 245.9) skewX(-10) scale(0.55 1)" font-size="11" text-anchor="end" style="fill:#555;stroke:none">2</text>
<text transform="translate(423 262.3) skewX(-10) scale(0.55 1)" font-size="11" text-anchor="end" style="fill:#555;stroke:none">1</text>
<text transform="translate(423 278.3) skewX(-10) scale(0.55 1)" font-size="11" text-anchor="end" style="fill:#555;stroke:none">0</text>
<text transform="translate(423 294.3) skewX(-10) scale(0.55 1)" font-size="11" text-anchor="end" style="fill:#555;stroke:none">-1</text>
<text transform="translate(423 311.3) skewX(-10) scale(0.55 1)" font-size="11" text-anchor="end" style="fill:#555;stroke:none">-2</text>
<text transform="matrix(0.983 0.186 -0.9 0.4 430 332.5)" font-size="13" style="fill:#444;stroke:none">PC1</text>
<text transform="matrix(0.877 -0.48 0.9 0.2 544.5 331)" font-size="12.5" style="fill:#444;stroke:none">PC2</text>
<path d="M505.6 327.7l1.4 2.5M512.7 323.8l1.4 2.5M519.8 319.9l1.4 2.5M526.9 316l1.4 2.5M534 312.2l1.4 2.5M541.1 308.3l1.4 2.5M428.2 315.5l-0.8 2.5M439.9 317.7l-0.8 2.5M451.6 319.9l-0.8 2.5M463.4 322.1l-0.8 2.5M475.1 324.4l-0.8 2.5M486.8 326.6l-0.8 2.5M498.5 328.8l-0.8 2.5" stroke="#222" stroke-width="0.9" fill="none"/>
<text transform="translate(422 318.6) rotate(-70)" font-size="7" text-anchor="middle" style="fill:#666;stroke:none">3</text>
<text transform="translate(433.6 320.8) rotate(-70)" font-size="7" text-anchor="middle" style="fill:#666;stroke:none">2</text>
<text transform="translate(445.2 322.9) rotate(-70)" font-size="7" text-anchor="middle" style="fill:#666;stroke:none">1</text>
<text transform="translate(456.8 325.1) rotate(-70)" font-size="7" text-anchor="middle" style="fill:#666;stroke:none">0</text>
<text transform="translate(468.4 327.2) rotate(-70)" font-size="7" text-anchor="middle" style="fill:#666;stroke:none">1</text>
<text transform="translate(480 329.4) rotate(-70)" font-size="7" text-anchor="middle" style="fill:#666;stroke:none">2</text>
<text transform="translate(491.6 331.5) rotate(-70)" font-size="7" text-anchor="middle" style="fill:#666;stroke:none">3</text>
<text transform="translate(515 331) rotate(-60)" font-size="6.5" text-anchor="middle" style="fill:#666;stroke:none">-3</text>
<text transform="translate(521.5 327) rotate(-60)" font-size="6.5" text-anchor="middle" style="fill:#666;stroke:none">-2</text>
<text transform="translate(528 323) rotate(-60)" font-size="6.5" text-anchor="middle" style="fill:#666;stroke:none">-1</text>
<text transform="translate(534.5 319) rotate(-60)" font-size="6.5" text-anchor="middle" style="fill:#666;stroke:none">0</text>
<text transform="translate(541 315) rotate(-60)" font-size="6.5" text-anchor="middle" style="fill:#666;stroke:none">1</text>
<text transform="translate(547.5 311) rotate(-60)" font-size="6.5" text-anchor="middle" style="fill:#666;stroke:none">2</text>
<text transform="translate(527 211.6) scale(0.84 1)" font-size="12">MDA</text>
<path d="M661.5 295.8L661.5 216.7M661.5 295.8L734.4 308.4M653.9 299.3L653.7 219.5M653.9 299.3L727.3 312.3M646.3 302.9L646 222.2M646.3 302.9L720.2 316.2M638.8 306.5L638.2 225M638.8 306.5L713.1 320M631.2 310.1L630.5 227.7M631.2 310.1L706 323.9M623.6 313.6L622.7 230.5M623.6 313.6L698.9 327.8M675.4 296L675.5 216.8M675.4 296L631.2 317.3M686.7 297.9L686.9 218.3M686.7 297.9L642.9 319.5M697.9 299.9L698.3 219.7M697.9 299.9L654.6 321.7M709.2 301.8L709.7 221.2M709.2 301.8L666.3 323.9M720.4 303.8L721.1 222.6M720.4 303.8L678 326.1M731.7 305.7L732.4 224.1M731.7 305.7L689.8 328.4M664.9 282.2L620.1 302.4M664.9 282.2L737.6 294.2M664.9 267.4L619.9 286.7M664.9 267.4L737.8 278.8M664.9 252.6L619.7 271M664.9 252.6L737.9 263.4M664.9 237.8L619.6 255.3M664.9 237.8L738.1 248M664.9 223L619.4 239.6M664.9 223L738.2 232.6" stroke="#d4d4d4" stroke-width="0.6" fill="none"/>
<path d="M620.2 315.2L664.9 294.2L737.5 306.7M664.9 294.2L664.9 215.5" stroke="#4a4a4a" stroke-width="1.1" fill="none"/>
<circle cx="668.9" cy="246.5" r="2" fill="url(#gk)"/><circle cx="691.2" cy="252.5" r="2" fill="url(#gk)"/><circle cx="679.7" cy="239.9" r="2" fill="url(#gp)"/><circle cx="674.3" cy="245.4" r="2" fill="url(#gp)"/><circle cx="659.2" cy="255.5" r="2" fill="url(#gc)"/><circle cx="684.6" cy="238.4" r="2" fill="url(#gp)"/><circle cx="685.2" cy="248.5" r="2" fill="url(#gk)"/><circle cx="670.3" cy="256" r="2" fill="url(#gk)"/><circle cx="682" cy="254.1" r="2" fill="url(#gk)"/><circle cx="661.2" cy="246.6" r="2" fill="url(#gc)"/><circle cx="677.6" cy="263.9" r="2" fill="url(#gk)"/><circle cx="690.3" cy="251.4" r="2" fill="url(#gk)"/><circle cx="672.2" cy="260.7" r="2" fill="url(#gk)"/><circle cx="689.6" cy="245.3" r="2" fill="url(#gp)"/><circle cx="696.4" cy="239.6" r="2" fill="url(#gp)"/><circle cx="656.2" cy="258.4" r="2" fill="url(#gc)"/><circle cx="672.3" cy="237.6" r="2" fill="url(#gp)"/><circle cx="672.2" cy="246.7" r="2" fill="url(#gk)"/><circle cx="671.7" cy="251.8" r="2" fill="url(#gk)"/><circle cx="667.8" cy="257.8" r="2" fill="url(#gk)"/><circle cx="682.6" cy="249" r="2" fill="url(#gk)"/><circle cx="671.9" cy="261.8" r="2" fill="url(#gk)"/><circle cx="679.2" cy="258.3" r="2" fill="url(#gk)"/><circle cx="668.5" cy="246.1" r="2" fill="url(#gk)"/><circle cx="698.8" cy="240.9" r="2" fill="url(#gk)"/><circle cx="702.7" cy="229" r="2" fill="url(#gk)"/><circle cx="695.8" cy="254.6" r="2" fill="url(#gk)"/><circle cx="677.4" cy="254.5" r="2" fill="url(#gk)"/><circle cx="669.8" cy="241.9" r="2" fill="url(#gp)"/><circle cx="683.4" cy="258" r="2" fill="url(#gk)"/><circle cx="686.2" cy="242.4" r="2" fill="url(#gp)"/><circle cx="681.5" cy="250.7" r="2" fill="url(#gk)"/><circle cx="680" cy="260.7" r="2" fill="url(#gk)"/><circle cx="663.3" cy="255.2" r="2" fill="url(#gc)"/><circle cx="676.9" cy="257.4" r="2" fill="url(#gk)"/><circle cx="691.8" cy="253.9" r="2" fill="url(#gk)"/><circle cx="657.8" cy="250.9" r="2" fill="url(#gc)"/><circle cx="653.7" cy="242.7" r="2" fill="url(#gc)"/><circle cx="666.6" cy="252.9" r="2" fill="url(#gc)"/><circle cx="674.9" cy="247.3" r="2" fill="url(#gk)"/><circle cx="676.1" cy="251.9" r="2" fill="url(#gk)"/><circle cx="683.8" cy="254.8" r="2" fill="url(#gk)"/><circle cx="677" cy="251.7" r="2" fill="url(#gk)"/><circle cx="683.1" cy="237.9" r="2" fill="url(#gp)"/><circle cx="666.4" cy="232.6" r="2" fill="url(#gk)"/><circle cx="653.8" cy="253.8" r="2" fill="url(#gc)"/><circle cx="683.3" cy="256" r="2" fill="url(#gk)"/><circle cx="670" cy="255.9" r="2" fill="url(#gk)"/><circle cx="702.7" cy="249.1" r="2" fill="url(#gk)"/><circle cx="685.1" cy="250.7" r="2" fill="url(#gk)"/><circle cx="691.2" cy="246.6" r="2" fill="url(#gk)"/><circle cx="689.8" cy="254.8" r="2" fill="url(#gk)"/><circle cx="673.2" cy="246.1" r="2" fill="url(#gk)"/><circle cx="676.1" cy="245.9" r="2" fill="url(#gk)"/><circle cx="691.9" cy="242.4" r="2" fill="url(#gp)"/><circle cx="699.4" cy="248.3" r="2" fill="url(#gk)"/><circle cx="669" cy="245.3" r="2" fill="url(#gc)"/><circle cx="701.9" cy="229" r="2" fill="url(#gk)"/><circle cx="675.1" cy="255.9" r="2" fill="url(#gk)"/><circle cx="703.2" cy="244.7" r="2" fill="url(#gk)"/><circle cx="684" cy="252.5" r="2" fill="url(#gk)"/><circle cx="665.2" cy="249.7" r="2" fill="url(#gk)"/><circle cx="678.4" cy="247.2" r="2" fill="url(#gk)"/><circle cx="672.9" cy="255.5" r="2" fill="url(#gk)"/><circle cx="694.4" cy="241.1" r="2" fill="url(#gk)"/><circle cx="703.2" cy="251" r="2" fill="url(#gk)"/><circle cx="668.2" cy="261.4" r="2" fill="url(#gk)"/><circle cx="693.6" cy="246.5" r="2" fill="url(#gk)"/><circle cx="671.5" cy="233" r="2" fill="url(#gp)"/><circle cx="669.7" cy="248.8" r="2" fill="url(#gk)"/><circle cx="688.9" cy="259.8" r="2" fill="url(#gk)"/><circle cx="670.3" cy="245.1" r="2" fill="url(#gk)"/><circle cx="684.4" cy="249.8" r="2" fill="url(#gk)"/><circle cx="678.4" cy="253.7" r="2" fill="url(#gk)"/><circle cx="663" cy="233" r="2" fill="url(#gc)"/><circle cx="678.9" cy="255.3" r="2" fill="url(#gk)"/><circle cx="669.7" cy="241.8" r="2" fill="url(#gk)"/><circle cx="672.8" cy="234.3" r="2" fill="url(#gp)"/><circle cx="677.8" cy="231.5" r="2" fill="url(#gp)"/><circle cx="674.6" cy="247.3" r="2" fill="url(#gk)"/><circle cx="692.4" cy="244.6" r="2" fill="url(#gk)"/><circle cx="654.6" cy="247.9" r="2" fill="url(#gc)"/><circle cx="670.1" cy="237.9" r="2" fill="url(#gp)"/><circle cx="681.2" cy="243.5" r="2" fill="url(#gp)"/><circle cx="685.4" cy="252.9" r="2" fill="url(#gk)"/><circle cx="687.8" cy="250.1" r="2" fill="url(#gk)"/><circle cx="665.6" cy="234.3" r="2" fill="url(#gk)"/><circle cx="665.3" cy="251" r="2" fill="url(#gc)"/><circle cx="674.6" cy="254.2" r="2" fill="url(#gk)"/><circle cx="697.8" cy="254.5" r="2" fill="url(#gk)"/><circle cx="675.3" cy="248.1" r="2" fill="url(#gk)"/><circle cx="666.6" cy="237.3" r="2" fill="url(#gc)"/><circle cx="691.6" cy="243.4" r="2" fill="url(#gp)"/><circle cx="680.6" cy="241.6" r="2" fill="url(#gp)"/><circle cx="679.1" cy="247" r="2" fill="url(#gk)"/><circle cx="682.9" cy="245" r="2" fill="url(#gk)"/><circle cx="655.5" cy="252.7" r="2" fill="url(#gc)"/><circle cx="649.4" cy="257.3" r="2" fill="url(#gc)"/><circle cx="666.1" cy="257.3" r="2" fill="url(#gc)"/><circle cx="676.1" cy="248.8" r="2" fill="url(#gk)"/><circle cx="677.3" cy="234.8" r="2" fill="url(#gp)"/><circle cx="654.1" cy="257.8" r="2" fill="url(#gc)"/><circle cx="692.6" cy="247.6" r="2" fill="url(#gk)"/><circle cx="676.3" cy="239.5" r="2" fill="url(#gp)"/><circle cx="665.6" cy="257.3" r="2" fill="url(#gk)"/><circle cx="670.6" cy="254.5" r="2" fill="url(#gk)"/><circle cx="685.2" cy="239.8" r="2" fill="url(#gp)"/><circle cx="678.1" cy="248.5" r="2" fill="url(#gk)"/><circle cx="679" cy="252.7" r="2" fill="url(#gk)"/><circle cx="678" cy="259.4" r="2" fill="url(#gk)"/><circle cx="699.5" cy="232.4" r="2" fill="url(#gk)"/><circle cx="660.7" cy="239.1" r="2" fill="url(#gc)"/><circle cx="678.6" cy="250.5" r="2" fill="url(#gk)"/><circle cx="684" cy="245.3" r="2" fill="url(#gk)"/><circle cx="651.7" cy="260.3" r="2" fill="url(#gc)"/><circle cx="656.9" cy="248.9" r="2" fill="url(#gc)"/><circle cx="680.7" cy="247.2" r="2" fill="url(#gk)"/><circle cx="677" cy="250.9" r="2" fill="url(#gk)"/><circle cx="678.9" cy="238.9" r="2" fill="url(#gp)"/><circle cx="668.5" cy="251.1" r="2" fill="url(#gc)"/><circle cx="705.9" cy="231.6" r="2" fill="url(#gk)"/><circle cx="660.6" cy="251.7" r="2" fill="url(#gc)"/><circle cx="663.8" cy="236.8" r="2" fill="url(#gc)"/><circle cx="665" cy="254" r="2" fill="url(#gc)"/><circle cx="659.4" cy="251.6" r="2" fill="url(#gc)"/><circle cx="682.1" cy="242.2" r="2" fill="url(#gk)"/><circle cx="702.6" cy="239.7" r="2" fill="url(#gk)"/><circle cx="675.7" cy="242.6" r="2" fill="url(#gp)"/><circle cx="682.3" cy="255.9" r="2" fill="url(#gk)"/><circle cx="667.5" cy="246.2" r="2" fill="url(#gk)"/><circle cx="675.3" cy="242" r="2" fill="url(#gp)"/><circle cx="687.8" cy="241.9" r="2" fill="url(#gp)"/><circle cx="669.2" cy="246.7" r="2" fill="url(#gc)"/><circle cx="702.7" cy="248.2" r="2" fill="url(#gk)"/><circle cx="659.5" cy="258.7" r="2" fill="url(#gc)"/><circle cx="682.2" cy="254.9" r="2" fill="url(#gk)"/><circle cx="678.3" cy="241.5" r="2" fill="url(#gk)"/><circle cx="677.9" cy="244.6" r="2" fill="url(#gk)"/><circle cx="672.8" cy="243.1" r="2" fill="url(#gp)"/><circle cx="666.3" cy="253.7" r="2" fill="url(#gc)"/><circle cx="677.9" cy="257.3" r="2" fill="url(#gk)"/><circle cx="658.8" cy="245.4" r="2" fill="url(#gc)"/><circle cx="683" cy="250.5" r="2" fill="url(#gk)"/><circle cx="669.2" cy="255.3" r="2" fill="url(#gk)"/><circle cx="686.3" cy="246" r="2" fill="url(#gk)"/><circle cx="704.8" cy="232.5" r="2" fill="url(#gk)"/><circle cx="667.2" cy="241.9" r="2" fill="url(#gc)"/><circle cx="685" cy="241.5" r="2" fill="url(#gk)"/><circle cx="683.9" cy="246" r="2" fill="url(#gk)"/><circle cx="670.8" cy="241.5" r="2" fill="url(#gp)"/><circle cx="660.1" cy="239.6" r="2" fill="url(#gc)"/><circle cx="660.4" cy="255.9" r="2" fill="url(#gc)"/><circle cx="688.7" cy="250.6" r="2" fill="url(#gk)"/><circle cx="675" cy="247.7" r="2" fill="url(#gp)"/><circle cx="695.8" cy="248.9" r="2" fill="url(#gk)"/><circle cx="673.5" cy="255.3" r="2" fill="url(#gk)"/><circle cx="674.3" cy="254.3" r="2" fill="url(#gk)"/><circle cx="682.3" cy="246.3" r="2" fill="url(#gp)"/><circle cx="683.2" cy="254.2" r="2" fill="url(#gk)"/><circle cx="678.7" cy="251.7" r="2" fill="url(#gk)"/><circle cx="696.1" cy="257.5" r="2" fill="url(#gk)"/><circle cx="676.7" cy="245.6" r="2" fill="url(#gk)"/><circle cx="691.6" cy="246.2" r="2" fill="url(#gk)"/><circle cx="676.1" cy="258.3" r="2" fill="url(#gk)"/><circle cx="683.7" cy="238.6" r="2" fill="url(#gp)"/><circle cx="685.6" cy="241.1" r="2" fill="url(#gp)"/><circle cx="657.4" cy="252.1" r="2" fill="url(#gc)"/><circle cx="686.3" cy="239.8" r="2" fill="url(#gp)"/><circle cx="668.2" cy="259.1" r="2" fill="url(#gk)"/><circle cx="667.9" cy="243.8" r="2" fill="url(#gc)"/><circle cx="662.7" cy="252.5" r="2" fill="url(#gc)"/><circle cx="688.7" cy="242.7" r="2" fill="url(#gp)"/><circle cx="678.7" cy="248.1" r="2" fill="url(#gk)"/><circle cx="665.9" cy="257.4" r="2" fill="url(#gk)"/><circle cx="655.6" cy="245.3" r="2" fill="url(#gc)"/><circle cx="658.6" cy="254.7" r="2" fill="url(#gc)"/><circle cx="680.8" cy="243" r="2" fill="url(#gk)"/><circle cx="672.9" cy="253.4" r="2" fill="url(#gk)"/><circle cx="682.3" cy="254.2" r="2" fill="url(#gk)"/><circle cx="695" cy="257.2" r="2" fill="url(#gk)"/><circle cx="679.5" cy="246.8" r="2" fill="url(#gk)"/><circle cx="674.6" cy="230.3" r="2" fill="url(#gp)"/><circle cx="686.7" cy="234.9" r="2" fill="url(#gp)"/><circle cx="675.8" cy="246.8" r="2" fill="url(#gk)"/><circle cx="691.3" cy="252.4" r="2" fill="url(#gk)"/><circle cx="688.1" cy="243.8" r="2" fill="url(#gp)"/><circle cx="666.9" cy="258.6" r="2" fill="url(#gk)"/><circle cx="691.8" cy="242.1" r="2" fill="url(#gk)"/><circle cx="658.5" cy="248" r="2" fill="url(#gc)"/><circle cx="694.3" cy="244.8" r="2" fill="url(#gp)"/><circle cx="676" cy="244.1" r="2" fill="url(#gk)"/><circle cx="678.6" cy="246.7" r="2" fill="url(#gk)"/><circle cx="674.1" cy="256.3" r="2" fill="url(#gk)"/><circle cx="668.8" cy="250.8" r="2" fill="url(#gk)"/><circle cx="684.6" cy="246.4" r="2" fill="url(#gp)"/><circle cx="696.9" cy="275.5" r="2" fill="url(#gp)"/><circle cx="711.6" cy="269.1" r="2" fill="url(#gk)"/><circle cx="689.4" cy="276.5" r="2" fill="url(#gp)"/><circle cx="692.2" cy="274.6" r="2" fill="url(#gp)"/><circle cx="693.9" cy="275.9" r="2" fill="url(#gp)"/><circle cx="684.4" cy="267.6" r="2" fill="url(#gk)"/><circle cx="698.7" cy="272.5" r="2" fill="url(#gp)"/><circle cx="696" cy="270.5" r="2" fill="url(#gk)"/><circle cx="686.4" cy="271.4" r="2" fill="url(#gp)"/><circle cx="708.4" cy="276.5" r="2" fill="url(#gp)"/><circle cx="688.7" cy="268.3" r="2" fill="url(#gp)"/><circle cx="692.3" cy="273.1" r="2" fill="url(#gp)"/><circle cx="699.5" cy="275.3" r="2" fill="url(#gp)"/><circle cx="687.8" cy="272.3" r="2" fill="url(#gp)"/><circle cx="690.5" cy="270.9" r="2" fill="url(#gk)"/><circle cx="687.4" cy="276.6" r="2" fill="url(#gp)"/><circle cx="684.8" cy="272.1" r="2" fill="url(#gp)"/><circle cx="688.1" cy="272.8" r="2" fill="url(#gp)"/><circle cx="696.2" cy="276.2" r="2" fill="url(#gp)"/><circle cx="689.2" cy="274.3" r="2" fill="url(#gp)"/><circle cx="679.4" cy="276.8" r="2" fill="url(#gp)"/><circle cx="677.6" cy="274.9" r="2" fill="url(#gp)"/><circle cx="690.4" cy="269.4" r="2" fill="url(#gk)"/><circle cx="689.1" cy="276.2" r="2" fill="url(#gp)"/><circle cx="709.6" cy="275.5" r="2" fill="url(#gp)"/><circle cx="702.5" cy="273.7" r="2" fill="url(#gp)"/><circle cx="690.9" cy="264.6" r="2" fill="url(#gk)"/><circle cx="696.9" cy="270.8" r="2" fill="url(#gk)"/><circle cx="698.2" cy="260.6" r="2" fill="url(#gk)"/><circle cx="674.9" cy="269.9" r="2" fill="url(#gc)"/><circle cx="684.7" cy="268.7" r="2" fill="url(#gk)"/><circle cx="670.1" cy="277.9" r="2" fill="url(#gc)"/><circle cx="669.2" cy="277.6" r="2" fill="url(#gc)"/><circle cx="709.7" cy="257.3" r="2" fill="url(#gk)"/><circle cx="702.4" cy="261.1" r="2" fill="url(#gk)"/><circle cx="715.5" cy="249.1" r="2" fill="url(#gk)"/><circle cx="688.4" cy="263.5" r="2" fill="url(#gk)"/><circle cx="642.4" cy="283.7" r="2" fill="url(#gc)"/><circle cx="670.6" cy="273.3" r="2" fill="url(#gc)"/><circle cx="698.1" cy="258.8" r="2" fill="url(#gk)"/><circle cx="650.3" cy="284.5" r="2" fill="url(#gc)"/><circle cx="702.8" cy="263.4" r="2" fill="url(#gk)"/><circle cx="643.6" cy="289.6" r="2" fill="url(#gc)"/><circle cx="675" cy="277.3" r="2" fill="url(#gc)"/><circle cx="651.1" cy="285.4" r="2" fill="url(#gc)"/><circle cx="649.3" cy="287.4" r="2" fill="url(#gc)"/><circle cx="660.8" cy="280.6" r="2" fill="url(#gc)"/><circle cx="695.9" cy="263.5" r="2" fill="url(#gk)"/><circle cx="653.4" cy="282.6" r="2" fill="url(#gc)"/><circle cx="685.7" cy="272" r="2" fill="url(#gk)"/><circle cx="664.8" cy="272.3" r="2" fill="url(#gc)"/><circle cx="680.5" cy="267" r="2" fill="url(#gc)"/><circle cx="679" cy="271.8" r="2" fill="url(#gk)"/><circle cx="644.4" cy="290.5" r="2" fill="url(#gc)"/><circle cx="671.4" cy="272.5" r="2" fill="url(#gc)"/><circle cx="663.9" cy="280.1" r="2" fill="url(#gc)"/><circle cx="670.4" cy="277.7" r="2" fill="url(#gc)"/><circle cx="676.4" cy="272.2" r="2" fill="url(#gc)"/><circle cx="696.5" cy="264" r="2" fill="url(#gk)"/><circle cx="678.9" cy="275.2" r="2" fill="url(#gc)"/><circle cx="693.6" cy="268.9" r="2" fill="url(#gk)"/><circle cx="668.8" cy="271.9" r="2" fill="url(#gc)"/><circle cx="686.5" cy="268" r="2" fill="url(#gk)"/><circle cx="643" cy="294.3" r="2" fill="url(#gc)"/><circle cx="682" cy="263.7" r="2" fill="url(#gk)"/><circle cx="676.9" cy="276.5" r="2" fill="url(#gc)"/><circle cx="692" cy="260.8" r="2" fill="url(#gk)"/><circle cx="687.5" cy="273.7" r="2" fill="url(#gk)"/><circle cx="683.3" cy="273.2" r="2" fill="url(#gk)"/><circle cx="685.3" cy="267" r="2" fill="url(#gk)"/><circle cx="717.2" cy="257.4" r="2" fill="url(#gk)"/><circle cx="655.4" cy="281.2" r="2" fill="url(#gc)"/><circle cx="675.1" cy="270.7" r="2" fill="url(#gc)"/><circle cx="645.1" cy="288.7" r="2" fill="url(#gc)"/><circle cx="689.6" cy="267.2" r="2" fill="url(#gk)"/><circle cx="673.4" cy="274.3" r="2" fill="url(#gk)"/><circle cx="677.8" cy="270.7" r="2" fill="url(#gc)"/><circle cx="651.7" cy="277.2" r="2" fill="url(#gc)"/><circle cx="713.2" cy="259.7" r="2" fill="url(#gk)"/><circle cx="643.6" cy="283.2" r="2" fill="url(#gc)"/><circle cx="695.1" cy="269.7" r="2" fill="url(#gk)"/><circle cx="677.6" cy="269.1" r="2" fill="url(#gc)"/><circle cx="681.3" cy="267.9" r="2" fill="url(#gc)"/><circle cx="695.2" cy="264.6" r="2" fill="url(#gk)"/><circle cx="689.1" cy="268.1" r="2" fill="url(#gk)"/><circle cx="670.3" cy="268.9" r="2" fill="url(#gc)"/><circle cx="700.1" cy="263.8" r="2" fill="url(#gk)"/><circle cx="671" cy="280.3" r="2" fill="url(#gc)"/><circle cx="699.5" cy="264.8" r="2" fill="url(#gk)"/><circle cx="672.7" cy="277.7" r="2" fill="url(#gc)"/><circle cx="684.4" cy="270" r="2" fill="url(#gk)"/><circle cx="643.8" cy="284.7" r="2" fill="url(#gc)"/><circle cx="679.2" cy="266.1" r="2" fill="url(#gk)"/><circle cx="671.6" cy="278.5" r="2" fill="url(#gc)"/><circle cx="673.3" cy="274.7" r="2" fill="url(#gc)"/><circle cx="654.7" cy="280.3" r="2" fill="url(#gc)"/><circle cx="695" cy="263.5" r="2" fill="url(#gk)"/><circle cx="660.9" cy="281.2" r="2" fill="url(#gc)"/><circle cx="677.8" cy="273" r="2" fill="url(#gc)"/><circle cx="673.3" cy="269.7" r="2" fill="url(#gc)"/><circle cx="661.1" cy="280.1" r="2" fill="url(#gc)"/><circle cx="655.1" cy="282.1" r="2" fill="url(#gc)"/><circle cx="691.6" cy="269.5" r="2" fill="url(#gk)"/><circle cx="716.1" cy="253.1" r="2" fill="url(#gk)"/><circle cx="651.1" cy="285.9" r="2" fill="url(#gc)"/><circle cx="714.4" cy="261.1" r="2" fill="url(#gk)"/><circle cx="649.1" cy="280.5" r="2" fill="url(#gc)"/><circle cx="667.3" cy="276.5" r="2" fill="url(#gc)"/><circle cx="658.3" cy="279" r="2" fill="url(#gc)"/><circle cx="703.8" cy="260.7" r="2" fill="url(#gk)"/><circle cx="701.6" cy="259.6" r="2" fill="url(#gk)"/><circle cx="717.3" cy="258.8" r="2" fill="url(#gk)"/><circle cx="677.6" cy="274.3" r="2" fill="url(#gc)"/><circle cx="695.2" cy="259.3" r="2" fill="url(#gk)"/><circle cx="706" cy="259.4" r="2" fill="url(#gk)"/><circle cx="692.8" cy="268.4" r="2" fill="url(#gk)"/><circle cx="675.4" cy="278.3" r="2" fill="url(#gc)"/><circle cx="673.9" cy="277" r="2" fill="url(#gc)"/><circle cx="675.7" cy="268.9" r="2" fill="url(#gc)"/><circle cx="683.1" cy="270.2" r="2" fill="url(#gk)"/><circle cx="675.1" cy="273.5" r="2" fill="url(#gc)"/><circle cx="657" cy="282.6" r="2" fill="url(#gc)"/><circle cx="675.3" cy="273.1" r="2" fill="url(#gc)"/><circle cx="699.4" cy="259.8" r="2" fill="url(#gk)"/><circle cx="672.3" cy="271.7" r="2" fill="url(#gc)"/><circle cx="717.3" cy="253.7" r="2" fill="url(#gk)"/><circle cx="645.6" cy="285" r="2" fill="url(#gc)"/><circle cx="694.8" cy="260.2" r="2" fill="url(#gk)"/><circle cx="682.4" cy="268.1" r="2" fill="url(#gk)"/><circle cx="687.6" cy="273" r="2" fill="url(#gk)"/><circle cx="684.9" cy="270.2" r="2" fill="url(#gc)"/><circle cx="679.7" cy="271.3" r="2" fill="url(#gk)"/><circle cx="696.7" cy="263.4" r="2" fill="url(#gk)"/><circle cx="681.4" cy="263" r="2" fill="url(#gc)"/><circle cx="707.5" cy="261" r="2" fill="url(#gk)"/><circle cx="658.1" cy="276.1" r="2" fill="url(#gc)"/><circle cx="695.9" cy="267.9" r="2" fill="url(#gk)"/><circle cx="679.1" cy="270.9" r="2" fill="url(#gc)"/><circle cx="677.8" cy="268.9" r="2" fill="url(#gk)"/><circle cx="672.6" cy="278.7" r="2" fill="url(#gc)"/><circle cx="648.3" cy="290.5" r="2" fill="url(#gc)"/><circle cx="663.3" cy="278.8" r="2" fill="url(#gc)"/><circle cx="667.1" cy="276.9" r="2" fill="url(#gc)"/><circle cx="682.5" cy="273.5" r="2" fill="url(#gc)"/><circle cx="681.6" cy="267.5" r="2" fill="url(#gc)"/><circle cx="677.5" cy="271.3" r="2" fill="url(#gk)"/><circle cx="647.1" cy="281.4" r="2" fill="url(#gc)"/><circle cx="658.6" cy="287.6" r="2" fill="url(#gc)"/><circle cx="655.8" cy="277.6" r="2" fill="url(#gc)"/><circle cx="700" cy="258.7" r="2" fill="url(#gk)"/><circle cx="652" cy="283.8" r="2" fill="url(#gc)"/><circle cx="684.1" cy="267.8" r="2" fill="url(#gc)"/><circle cx="685.9" cy="268.6" r="2" fill="url(#gk)"/><circle cx="662.5" cy="280.9" r="2" fill="url(#gc)"/><circle cx="658" cy="278.4" r="2" fill="url(#gc)"/><circle cx="651.7" cy="284.6" r="2" fill="url(#gc)"/><circle cx="690.9" cy="255.8" r="2" fill="url(#gk)"/><circle cx="689.5" cy="267.5" r="2" fill="url(#gk)"/><circle cx="681.8" cy="275.5" r="2" fill="url(#gc)"/><circle cx="693.1" cy="271.6" r="2" fill="url(#gk)"/><circle cx="662.1" cy="283.8" r="2" fill="url(#gc)"/><circle cx="697.1" cy="267.7" r="2" fill="url(#gk)"/><circle cx="699.8" cy="261.2" r="2" fill="url(#gk)"/><circle cx="672.9" cy="274.9" r="2" fill="url(#gc)"/><circle cx="695.8" cy="266.8" r="2" fill="url(#gk)"/><circle cx="692.1" cy="265.1" r="2" fill="url(#gk)"/><circle cx="688.2" cy="267.9" r="2" fill="url(#gk)"/><circle cx="672.5" cy="268.8" r="2" fill="url(#gc)"/><circle cx="662.7" cy="278.9" r="2" fill="url(#gc)"/><circle cx="671.2" cy="274.4" r="2" fill="url(#gc)"/><circle cx="662.7" cy="275.2" r="2" fill="url(#gc)"/><circle cx="702" cy="260.6" r="2" fill="url(#gk)"/><circle cx="644.1" cy="286.5" r="2" fill="url(#gc)"/><circle cx="664.3" cy="275.2" r="2" fill="url(#gc)"/><circle cx="698" cy="258.5" r="2" fill="url(#gk)"/><circle cx="693.4" cy="270.3" r="2" fill="url(#gk)"/><circle cx="684.4" cy="274.3" r="2" fill="url(#gk)"/><circle cx="674.9" cy="269.8" r="2" fill="url(#gc)"/><circle cx="660.3" cy="280.9" r="2" fill="url(#gc)"/><circle cx="713.9" cy="255.1" r="2" fill="url(#gk)"/><circle cx="676.6" cy="271.6" r="2" fill="url(#gc)"/><circle cx="647.1" cy="294.4" r="2" fill="url(#gc)"/><circle cx="668.1" cy="280.2" r="2" fill="url(#gc)"/><circle cx="682.6" cy="268.1" r="2" fill="url(#gk)"/><circle cx="678.4" cy="273.1" r="2" fill="url(#gc)"/><circle cx="652.3" cy="285" r="2" fill="url(#gc)"/><circle cx="657.7" cy="282.3" r="2" fill="url(#gc)"/><circle cx="700.7" cy="263.6" r="2" fill="url(#gk)"/><circle cx="640.7" cy="287.1" r="2" fill="url(#gc)"/><circle cx="687.8" cy="268.9" r="2" fill="url(#gk)"/><circle cx="700" cy="257.8" r="2" fill="url(#gk)"/><circle cx="711.4" cy="254.7" r="2" fill="url(#gk)"/><circle cx="657.7" cy="283.5" r="2" fill="url(#gc)"/><circle cx="663" cy="275.2" r="2" fill="url(#gc)"/><circle cx="677" cy="273.4" r="2" fill="url(#gc)"/><circle cx="683.4" cy="274.8" r="2" fill="url(#gk)"/><circle cx="643.4" cy="287" r="2" fill="url(#gc)"/><circle cx="680.8" cy="272.9" r="2" fill="url(#gc)"/><circle cx="658.8" cy="283.2" r="2" fill="url(#gc)"/><circle cx="718.6" cy="260.3" r="2" fill="url(#gk)"/><circle cx="651.8" cy="281" r="2" fill="url(#gc)"/><circle cx="708.9" cy="258.5" r="2" fill="url(#gk)"/><circle cx="644.7" cy="283.4" r="2" fill="url(#gc)"/><circle cx="685.4" cy="268.3" r="2" fill="url(#gk)"/><circle cx="688.1" cy="270.3" r="2" fill="url(#gk)"/><circle cx="688" cy="271.9" r="2" fill="url(#gc)"/><circle cx="685" cy="266.3" r="2" fill="url(#gc)"/><circle cx="665" cy="278.3" r="2" fill="url(#gc)"/><circle cx="689" cy="264.1" r="2" fill="url(#gk)"/><circle cx="709.9" cy="248.4" r="2" fill="url(#gk)"/><circle cx="705.8" cy="257.4" r="2" fill="url(#gk)"/><circle cx="673.3" cy="268.8" r="2" fill="url(#gc)"/><circle cx="700.4" cy="267.4" r="2" fill="url(#gk)"/><circle cx="671.6" cy="272" r="2" fill="url(#gc)"/><circle cx="711.8" cy="255" r="2" fill="url(#gk)"/><circle cx="652.8" cy="283.2" r="2" fill="url(#gc)"/><circle cx="709.1" cy="256.6" r="2" fill="url(#gk)"/><circle cx="662.1" cy="277.1" r="2" fill="url(#gc)"/><circle cx="677" cy="268.2" r="2" fill="url(#gk)"/><circle cx="715.1" cy="257.4" r="2" fill="url(#gk)"/><circle cx="665.2" cy="273.3" r="2" fill="url(#gc)"/><circle cx="680.1" cy="273" r="2" fill="url(#gk)"/><circle cx="709" cy="257.8" r="2" fill="url(#gk)"/><circle cx="706.3" cy="257.9" r="2" fill="url(#gk)"/><circle cx="673.8" cy="272" r="2" fill="url(#gc)"/><circle cx="649.9" cy="281" r="2" fill="url(#gc)"/><circle cx="692.3" cy="263.8" r="2" fill="url(#gk)"/><circle cx="652.4" cy="279" r="2" fill="url(#gc)"/><circle cx="641.2" cy="284" r="2" fill="url(#gc)"/><circle cx="667.5" cy="270.6" r="2" fill="url(#gc)"/><circle cx="716.2" cy="255.8" r="2" fill="url(#gk)"/><circle cx="675.3" cy="275.7" r="2" fill="url(#gc)"/><circle cx="669.6" cy="274.1" r="2" fill="url(#gc)"/><circle cx="707" cy="254.5" r="2" fill="url(#gk)"/><circle cx="657.9" cy="278.5" r="2" fill="url(#gc)"/><circle cx="670.6" cy="278.7" r="2" fill="url(#gc)"/><circle cx="677.3" cy="271.2" r="2" fill="url(#gc)"/><circle cx="675.5" cy="272.2" r="2" fill="url(#gc)"/><circle cx="699.1" cy="260.8" r="2" fill="url(#gk)"/><circle cx="680" cy="270.9" r="2" fill="url(#gc)"/><circle cx="680.8" cy="271.2" r="2" fill="url(#gk)"/><circle cx="693.2" cy="276" r="2" fill="url(#gk)"/><circle cx="670.4" cy="278.2" r="2" fill="url(#gc)"/><circle cx="699.6" cy="260.7" r="2" fill="url(#gk)"/><circle cx="693.9" cy="266" r="2" fill="url(#gk)"/><circle cx="672.1" cy="274.8" r="2" fill="url(#gc)"/><circle cx="688.9" cy="270.3" r="2" fill="url(#gk)"/><circle cx="703" cy="257.4" r="2" fill="url(#gk)"/><circle cx="666.5" cy="282.7" r="2" fill="url(#gc)"/><circle cx="676.8" cy="265.7" r="2" fill="url(#gc)"/><circle cx="687" cy="270.3" r="2" fill="url(#gk)"/><circle cx="673.4" cy="276.6" r="2" fill="url(#gc)"/><circle cx="694.7" cy="260.6" r="2" fill="url(#gk)"/><circle cx="642.9" cy="287.3" r="2" fill="url(#gc)"/><circle cx="688.9" cy="268.1" r="2" fill="url(#gk)"/><circle cx="645.1" cy="284.6" r="2" fill="url(#gc)"/><circle cx="655.6" cy="281.5" r="2" fill="url(#gc)"/><circle cx="687.7" cy="272.2" r="2" fill="url(#gk)"/><circle cx="670.8" cy="277.6" r="2" fill="url(#gc)"/><circle cx="716.7" cy="253.1" r="2" fill="url(#gk)"/><circle cx="680.6" cy="271.3" r="2" fill="url(#gc)"/><circle cx="675.3" cy="275.7" r="2" fill="url(#gc)"/><circle cx="689.7" cy="268.6" r="2" fill="url(#gk)"/><circle cx="689" cy="270.4" r="2" fill="url(#gk)"/><circle cx="667.2" cy="279.3" r="2" fill="url(#gc)"/><circle cx="642.3" cy="282.1" r="2" fill="url(#gc)"/><circle cx="642.6" cy="283.5" r="2" fill="url(#gc)"/><circle cx="716.7" cy="258.7" r="2" fill="url(#gk)"/><circle cx="642.6" cy="284.9" r="2" fill="url(#gc)"/><circle cx="692.2" cy="267.6" r="2" fill="url(#gk)"/><circle cx="704.1" cy="261.8" r="2" fill="url(#gk)"/><circle cx="676.7" cy="274.8" r="2" fill="url(#gc)"/><circle cx="669.1" cy="275" r="2" fill="url(#gc)"/><circle cx="646.7" cy="291.4" r="2" fill="url(#gc)"/><circle cx="642.1" cy="291.3" r="2" fill="url(#gc)"/><circle cx="677.3" cy="270.9" r="2" fill="url(#gc)"/><circle cx="662.6" cy="286.1" r="2" fill="url(#gc)"/><circle cx="654.9" cy="283.6" r="2" fill="url(#gc)"/><circle cx="687.7" cy="293.9" r="2" fill="url(#gp)"/><circle cx="699" cy="281.6" r="2" fill="url(#gp)"/><circle cx="692.8" cy="284" r="2" fill="url(#gp)"/><circle cx="678.6" cy="286.1" r="2" fill="url(#gp)"/><circle cx="702.9" cy="286.8" r="2" fill="url(#gp)"/><circle cx="704.6" cy="286.7" r="2" fill="url(#gp)"/><circle cx="681.8" cy="301" r="2" fill="url(#gp)"/><circle cx="682.6" cy="291.2" r="2" fill="url(#gp)"/><circle cx="686.3" cy="293.7" r="2" fill="url(#gp)"/><circle cx="677.7" cy="283.8" r="2" fill="url(#gp)"/><circle cx="695.9" cy="287.5" r="2" fill="url(#gp)"/><circle cx="705.6" cy="281.8" r="2" fill="url(#gp)"/><circle cx="686.9" cy="277.3" r="2" fill="url(#gp)"/><circle cx="693.8" cy="281.8" r="2" fill="url(#gp)"/><circle cx="683.6" cy="278.8" r="2" fill="url(#gp)"/><circle cx="699.1" cy="284.2" r="2" fill="url(#gp)"/><circle cx="689.5" cy="282.8" r="2" fill="url(#gp)"/><circle cx="693.4" cy="280.2" r="2" fill="url(#gp)"/><circle cx="693.5" cy="284.2" r="2" fill="url(#gp)"/><circle cx="683.1" cy="293.2" r="2" fill="url(#gp)"/><circle cx="703.1" cy="289.6" r="2" fill="url(#gp)"/><circle cx="699" cy="284.9" r="2" fill="url(#gp)"/><circle cx="681" cy="285.7" r="2" fill="url(#gp)"/><circle cx="694.9" cy="286.2" r="2" fill="url(#gp)"/><circle cx="692.8" cy="285.2" r="2" fill="url(#gp)"/><circle cx="684.5" cy="280.4" r="2" fill="url(#gp)"/><circle cx="669.3" cy="280.9" r="2" fill="url(#gp)"/><circle cx="686.5" cy="287.4" r="2" fill="url(#gp)"/><circle cx="681.4" cy="279.1" r="2" fill="url(#gp)"/><circle cx="702.2" cy="281.6" r="2" fill="url(#gp)"/><circle cx="693.1" cy="277.1" r="2" fill="url(#gp)"/><circle cx="685" cy="288.6" r="2" fill="url(#gp)"/><circle cx="692.3" cy="292.1" r="2" fill="url(#gp)"/><circle cx="695.4" cy="285.1" r="2" fill="url(#gp)"/><circle cx="692.9" cy="281" r="2" fill="url(#gp)"/><circle cx="679.8" cy="289.4" r="2" fill="url(#gp)"/><circle cx="692.4" cy="280" r="2" fill="url(#gp)"/><circle cx="691.7" cy="295.1" r="2" fill="url(#gp)"/><circle cx="682.4" cy="285.5" r="2" fill="url(#gp)"/><circle cx="682.1" cy="282.9" r="2" fill="url(#gp)"/><circle cx="682.1" cy="299.7" r="2" fill="url(#gp)"/><circle cx="680.2" cy="285.1" r="2" fill="url(#gp)"/><circle cx="695.1" cy="280.5" r="2" fill="url(#gp)"/><circle cx="691.7" cy="284.2" r="2" fill="url(#gp)"/><circle cx="699.4" cy="284.7" r="2" fill="url(#gp)"/><circle cx="697.8" cy="289.5" r="2" fill="url(#gp)"/><circle cx="685" cy="297.3" r="2" fill="url(#gp)"/><circle cx="672.9" cy="297" r="2" fill="url(#gp)"/><circle cx="676.9" cy="284" r="2" fill="url(#gp)"/><circle cx="679.5" cy="286.5" r="2" fill="url(#gp)"/><circle cx="691.3" cy="289.8" r="2" fill="url(#gp)"/><circle cx="699.3" cy="290.1" r="2" fill="url(#gp)"/><circle cx="689.5" cy="285.2" r="2" fill="url(#gp)"/><circle cx="678.7" cy="282.6" r="2" fill="url(#gp)"/><circle cx="697.1" cy="279.7" r="2" fill="url(#gp)"/><circle cx="669.2" cy="285.4" r="2" fill="url(#gp)"/><circle cx="697.6" cy="290.2" r="2" fill="url(#gp)"/><circle cx="701.2" cy="297.5" r="2" fill="url(#gp)"/><circle cx="684.4" cy="297.9" r="2" fill="url(#gp)"/><circle cx="688" cy="278.5" r="2" fill="url(#gp)"/><circle cx="680.3" cy="286" r="2" fill="url(#gp)"/><circle cx="679.1" cy="282.3" r="2" fill="url(#gp)"/><circle cx="687.5" cy="287.3" r="2" fill="url(#gp)"/><circle cx="689.3" cy="279" r="2" fill="url(#gp)"/><circle cx="686.6" cy="284.6" r="2" fill="url(#gp)"/><circle cx="687.7" cy="288.8" r="2" fill="url(#gp)"/><circle cx="685.3" cy="286.9" r="2" fill="url(#gp)"/><circle cx="686.7" cy="287.4" r="2" fill="url(#gp)"/><circle cx="698.7" cy="286.4" r="2" fill="url(#gp)"/><circle cx="702.4" cy="279.4" r="2" fill="url(#gp)"/><circle cx="688.8" cy="293.3" r="2" fill="url(#gp)"/><circle cx="688.6" cy="286.9" r="2" fill="url(#gp)"/><circle cx="694.9" cy="291.7" r="2" fill="url(#gp)"/><circle cx="693.9" cy="278.4" r="2" fill="url(#gp)"/><circle cx="684.7" cy="282.6" r="2" fill="url(#gp)"/><circle cx="686.4" cy="288.9" r="2" fill="url(#gp)"/><circle cx="671.4" cy="287.3" r="2" fill="url(#gp)"/><circle cx="681.3" cy="282.2" r="2" fill="url(#gp)"/><circle cx="706.6" cy="280.1" r="2" fill="url(#gp)"/><circle cx="704.8" cy="283" r="2" fill="url(#gp)"/><circle cx="692.6" cy="300.6" r="2" fill="url(#gp)"/><circle cx="712.3" cy="280.6" r="2" fill="url(#gp)"/><circle cx="692.5" cy="292.3" r="2" fill="url(#gp)"/><circle cx="684.2" cy="280.9" r="2" fill="url(#gp)"/><circle cx="682.8" cy="291.7" r="2" fill="url(#gp)"/><circle cx="692.9" cy="280.8" r="2" fill="url(#gp)"/><circle cx="683.1" cy="283" r="2" fill="url(#gp)"/><circle cx="693.3" cy="291" r="2" fill="url(#gp)"/><circle cx="677.6" cy="281.6" r="2" fill="url(#gp)"/><circle cx="676.3" cy="292.7" r="2" fill="url(#gp)"/><circle cx="697.4" cy="286.2" r="2" fill="url(#gp)"/><circle cx="676.1" cy="291.8" r="2" fill="url(#gp)"/><circle cx="681.9" cy="281.2" r="2" fill="url(#gp)"/><circle cx="679.8" cy="290.8" r="2" fill="url(#gp)"/><circle cx="687.8" cy="296.6" r="2" fill="url(#gp)"/><circle cx="695.2" cy="284.4" r="2" fill="url(#gp)"/><circle cx="680" cy="291.9" r="2" fill="url(#gp)"/>
<path d="M664.9 294.2L664.9 215.5" stroke="#555" stroke-width="1" fill="none" opacity="0.7"/>
<path d="M620.2 315.2L619.3 231.7L664.9 215.5L738.3 224.8L737.5 306.7L695.8 329.5Z" stroke="#111" stroke-width="1.6" fill="none" stroke-linejoin="miter"/>
<text transform="translate(606.4 282.2) rotate(-90) skewX(-8) scale(1.18 0.82)" font-size="13" text-anchor="middle" style="fill:#333;stroke:none">PC3</text>
<path d="M617 241h2.6M617 257.5h2.6M617 274h2.6M617 290.5h2.6M617 306.9h2.6" stroke="#333" stroke-width="0.8" fill="none"/>
<text transform="translate(616.5 245.9) skewX(-10) scale(0.55 1)" font-size="11" text-anchor="end" style="fill:#555;stroke:none">2</text>
<text transform="translate(616.5 262.3) skewX(-10) scale(0.55 1)" font-size="11" text-anchor="end" style="fill:#555;stroke:none">1</text>
<text transform="translate(616.5 278.3) skewX(-10) scale(0.55 1)" font-size="11" text-anchor="end" style="fill:#555;stroke:none">0</text>
<text transform="translate(616.5 294.3) skewX(-10) scale(0.55 1)" font-size="11" text-anchor="end" style="fill:#555;stroke:none">-1</text>
<text transform="translate(616.5 311.3) skewX(-10) scale(0.55 1)" font-size="11" text-anchor="end" style="fill:#555;stroke:none">-2</text>
<text transform="matrix(0.983 0.186 -0.9 0.4 623.5 332.5)" font-size="13" style="fill:#444;stroke:none">PC1</text>
<text transform="matrix(0.877 -0.48 0.9 0.2 738 331)" font-size="12.5" style="fill:#444;stroke:none">PC2</text>
<path d="M699.1 327.7l1.4 2.5M706.2 323.8l1.4 2.5M713.3 319.9l1.4 2.5M720.4 316l1.4 2.5M727.5 312.2l1.4 2.5M734.6 308.3l1.4 2.5M621.7 315.5l-0.8 2.5M633.4 317.7l-0.8 2.5M645.1 319.9l-0.8 2.5M656.9 322.1l-0.8 2.5M668.6 324.4l-0.8 2.5M680.3 326.6l-0.8 2.5M692 328.8l-0.8 2.5" stroke="#222" stroke-width="0.9" fill="none"/>
<text transform="translate(615.5 318.6) rotate(-70)" font-size="7" text-anchor="middle" style="fill:#666;stroke:none">3</text>
<text transform="translate(627.1 320.8) rotate(-70)" font-size="7" text-anchor="middle" style="fill:#666;stroke:none">2</text>
<text transform="translate(638.7 322.9) rotate(-70)" font-size="7" text-anchor="middle" style="fill:#666;stroke:none">1</text>
<text transform="translate(650.3 325.1) rotate(-70)" font-size="7" text-anchor="middle" style="fill:#666;stroke:none">0</text>
<text transform="translate(661.9 327.2) rotate(-70)" font-size="7" text-anchor="middle" style="fill:#666;stroke:none">1</text>
<text transform="translate(673.5 329.4) rotate(-70)" font-size="7" text-anchor="middle" style="fill:#666;stroke:none">2</text>
<text transform="translate(685.1 331.5) rotate(-70)" font-size="7" text-anchor="middle" style="fill:#666;stroke:none">3</text>
<text transform="translate(708.5 331) rotate(-60)" font-size="6.5" text-anchor="middle" style="fill:#666;stroke:none">-3</text>
<text transform="translate(715 327) rotate(-60)" font-size="6.5" text-anchor="middle" style="fill:#666;stroke:none">-2</text>
<text transform="translate(721.5 323) rotate(-60)" font-size="6.5" text-anchor="middle" style="fill:#666;stroke:none">-1</text>
<text transform="translate(728 319) rotate(-60)" font-size="6.5" text-anchor="middle" style="fill:#666;stroke:none">0</text>
<text transform="translate(734.5 315) rotate(-60)" font-size="6.5" text-anchor="middle" style="fill:#666;stroke:none">1</text>
<text transform="translate(741 311) rotate(-60)" font-size="6.5" text-anchor="middle" style="fill:#666;stroke:none">2</text>
<text transform="translate(725.9 211.6) scale(0.84 1)" font-size="12">J48</text>
</svg></body></html>
